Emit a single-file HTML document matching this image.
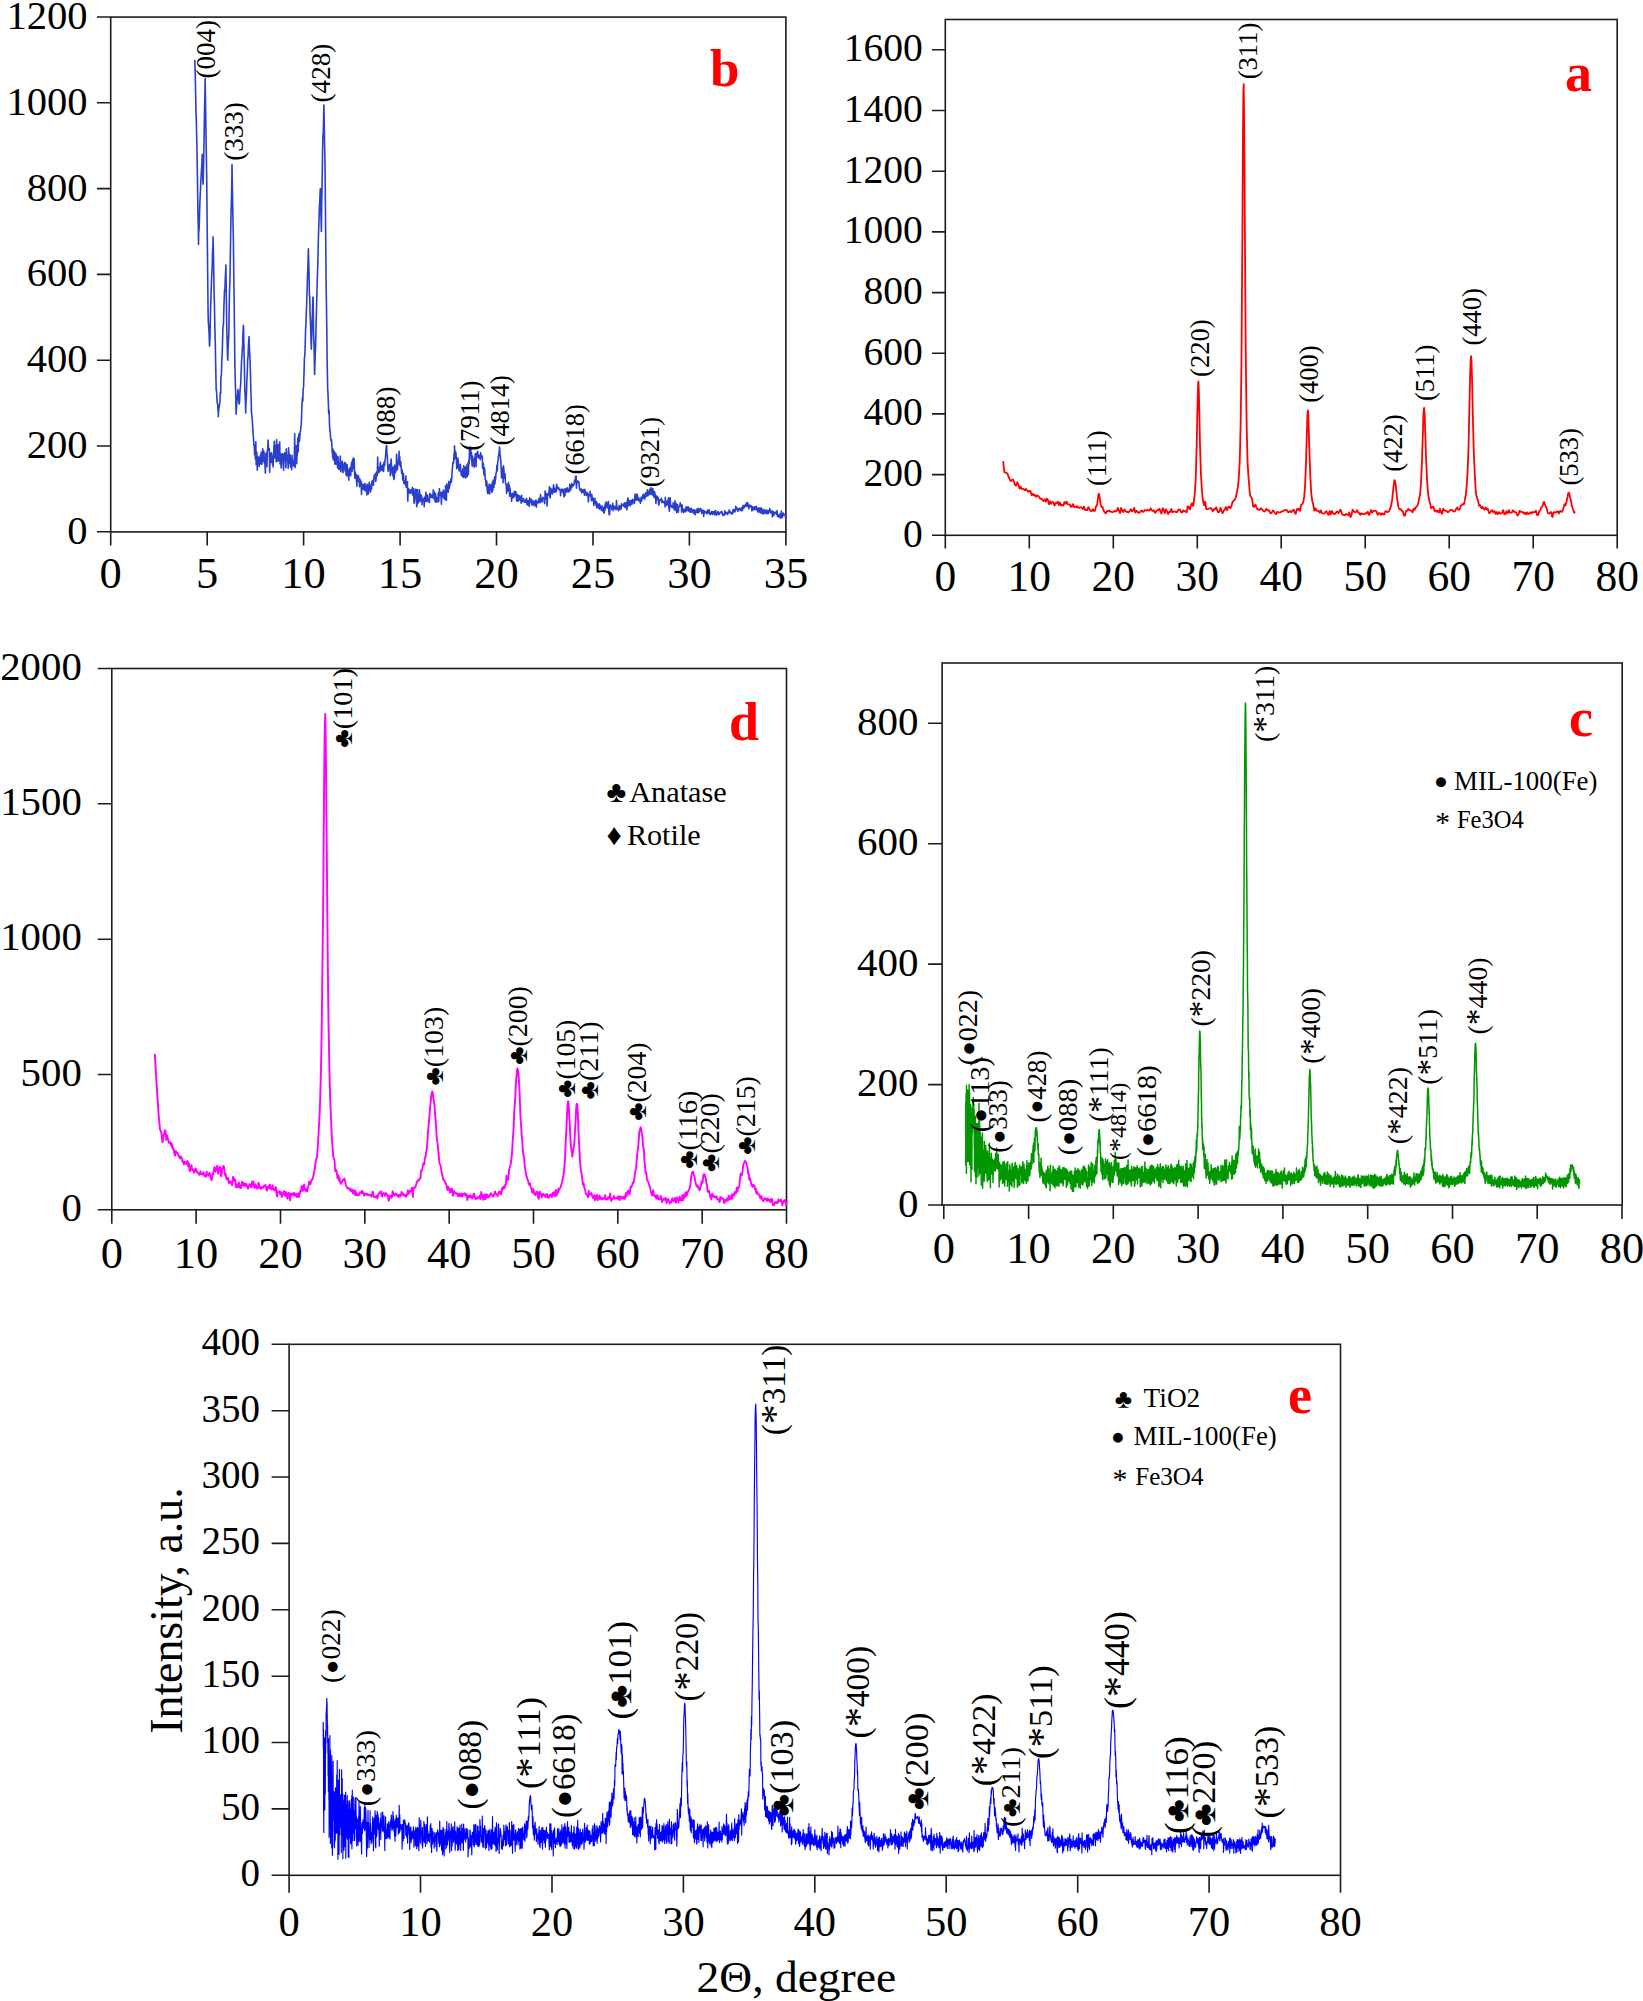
<!DOCTYPE html>
<html lang="en"><head><meta charset="utf-8"><title>XRD patterns</title>
<style>html,body{margin:0;padding:0;background:#fff}svg{display:block}</style></head>
<body>
<svg width="1643" height="2001" viewBox="0 0 1643 2001" font-family='"Liberation Serif", "DejaVu Serif", serif' fill="#000">
<g id="pb">
<rect x="110.7" y="17.1" width="675.2" height="514.8" fill="none" stroke="#1c1c1c" stroke-width="1.6"/>
<path d="M110.7 531.8v13.8M207.2 531.8v13.8M303.6 531.8v13.8M400.1 531.8v13.8M496.5 531.8v13.8M593 531.8v13.8M689.4 531.8v13.8M785.9 531.8v13.8M110.7 531.8h-13.8M110.7 446h-13.8M110.7 360.2h-13.8M110.7 274.4h-13.8M110.7 188.6h-13.8M110.7 102.8h-13.8M110.7 17h-13.8" stroke="#1c1c1c" stroke-width="1.6" fill="none"/>
<g font-size="40.6" text-anchor="end">
<text x="87.6" y="543.6">0</text>
<text x="87.6" y="457.8">200</text>
<text x="87.6" y="372">400</text>
<text x="87.6" y="286.2">600</text>
<text x="87.6" y="200.5">800</text>
<text x="87.6" y="114.7">1000</text>
<text x="87.6" y="28.9">1200</text>
</g>
<g font-size="44.5" text-anchor="middle">
<text x="110.7" y="588.2">0</text>
<text x="207.2" y="588.2">5</text>
<text x="303.6" y="588.2">10</text>
<text x="400.1" y="588.2">15</text>
<text x="496.5" y="588.2">20</text>
<text x="593" y="588.2">25</text>
<text x="689.4" y="588.2">30</text>
<text x="785.9" y="588.2">35</text>
</g>
<polyline points="194.8,59.9 195.2,72.2 195.6,92.9 196,112.3 196.4,123.1 196.7,138.1 196.9,145.7 197.1,157.1 197.5,180.8 197.9,211.7 198.3,227.5 198.5,244.4 198.7,232.3 199.1,229.1 199.4,218.7 199.8,204.7 200.2,195 200.6,187.9 200.8,180.1 201,179.3 201.4,170.8 201.8,165.7 202.1,157.9 202.3,154.3 202.5,167.4 202.9,179.7 203.1,184.3 203.3,176.2 203.7,159 204.1,137.2 204.5,111.6 204.8,99.8 205.2,78.5 205.2,80.5 205.6,108.6 206,134.3 206.4,158.8 206.8,184.2 206.8,188.6 207.2,229.4 207.5,257.2 207.9,294.8 208.1,313 208.3,321.2 208.7,327.1 209.1,332.7 209.5,346.1 209.7,343.1 209.9,339.4 210.2,324.9 210.6,308.3 211,295.9 211.2,291.6 211.4,282.9 211.8,273.4 212.2,266.5 212.4,257.3 212.6,250.7 212.9,247.4 213.1,236.7 213.3,245.2 213.7,267.2 214.1,293.3 214.5,306.7 214.5,308.7 214.9,328.5 215.3,343.5 215.6,360.5 216,380.2 216.2,390.2 216.4,390 216.8,395.9 217.2,402.7 217.6,403.7 218,411.2 218.3,410.7 218.3,416.8 218.7,409.4 219.1,407 219.5,404.4 219.9,402.2 220.3,392.2 220.7,393.6 220.7,390.2 221,375.7 221.4,375.8 221.8,361.5 222.2,353.9 222.6,338.9 223,326.3 223.2,325.9 223.4,325.7 223.7,314.6 224.1,301.5 224.5,290.4 224.7,291.6 224.9,290.8 225.3,277.7 225.7,270.2 225.9,265 226.1,280.6 226.4,301.9 226.8,329.8 226.8,330.2 227.2,343.1 227.6,358.7 227.8,360.2 228,351.6 228.4,341 228.8,335 229,325.9 229.1,313.2 229.5,291.1 229.9,280.9 230.3,259.5 230.3,257.3 230.7,232.5 231.1,211 231.5,197.2 231.9,177.1 232,164.6 232.2,177 232.6,199.4 233,222.6 233.2,231.5 233.4,241.1 233.8,276.4 234.2,304.9 234.6,339.2 234.7,351.6 234.9,366.5 235.3,381.7 235.7,394.1 236.1,414.2 236.1,413.8 236.5,407.5 236.9,401.4 237.3,396.5 237.6,394.4 238,389.6 238,390.2 238.4,394.8 238.8,400.8 239.2,404 239.4,403.1 239.6,400.2 240,390.8 240.3,388.2 240.7,384 241.1,372.3 241.3,368.8 241.5,362.2 241.9,356 242.3,349.7 242.7,344.3 242.8,336.6 243,332.9 243.4,325.4 243.6,329.3 243.8,341.4 244.2,358.3 244.6,378.4 244.8,390.2 245,392.8 245.4,401.1 245.7,413 245.7,409.5 246.1,401 246.5,392.8 246.9,379.6 247.3,372.4 247.7,358.4 247.7,360.2 248.1,355 248.4,346.8 248.8,339.8 249,336.6 249.2,343.3 249.6,351.9 250,359.5 250,360.2 250.4,371.4 250.8,388.5 251.1,397 251.5,414 251.5,411.7 251.9,416.7 252.3,420.7 252.7,426.4 253.1,434.4 253.5,438.2 253.8,444.7 254.2,444.6 254.4,448.2 254.6,454.6 255,451 255.4,458.9 255.8,441.9 256.2,465 256.5,452.1 256.9,452.5 257.3,470.3 257.7,456.6 258.1,457.4 258.3,461 258.5,459.1 258.9,457.3 259.2,466.5 259.6,460.4 260,461.9 260.4,455.1 260.8,463.9 261.2,452.4 261.6,462.1 261.9,464.2 262.3,455.5 262.7,448.9 263.1,454 263.5,461.1 263.9,451.3 264.3,463.3 264.6,456.3 265,464.9 265.4,473.1 265.8,453.2 266,455.4 266.2,457.5 266.6,463.2 267,466.7 267.3,450.3 267.7,449.5 268.1,440 268.5,449.4 268.9,450.6 269.3,448.6 269.7,472.2 270,453.2 270.4,454.2 270.8,462.5 271.2,452.7 271.6,453.9 272,457.8 272.4,464.2 272.7,458 273.1,467 273.5,455.5 273.9,447.7 274.3,441.3 274.7,458 275.1,445.2 275.4,457.7 275.6,454.6 275.8,446 276.2,461.8 276.6,439.7 277,447.6 277.4,448.2 277.8,461.3 278.1,450.3 278.5,444.6 278.9,457.7 279.3,460.6 279.7,441.9 280.1,464 280.5,456.6 280.9,461.6 281.2,468 281.6,453.7 282,455.7 282.4,461.9 282.8,453.7 283.2,464.7 283.6,470.2 283.9,461.9 284.3,456.4 284.7,452.9 285.1,455.6 285.3,458 285.5,455 285.9,467.7 286.3,448.9 286.6,455.2 287,455.1 287.4,455.9 287.8,461.2 288.2,468.3 288.6,447.9 289,456.8 289.3,459.9 289.7,463.5 290.1,454.9 290.5,466.5 290.9,467.3 291.3,458.5 291.7,469.8 292,455.4 292.4,465.6 292.8,465.5 293,461 293.2,463.3 293.6,463.5 294,466.1 294.4,454.8 294.7,433.8 295.1,467.6 295.5,455.6 295.9,457 296.3,445.9 296.7,463.8 296.9,454.6 297.1,456.4 297.4,452.2 297.8,437.9 298.2,451.7 298.6,439.4 299,433.7 299.4,441.5 299.8,437.3 300.1,431.9 300.5,431.3 300.7,428.8 300.9,426.2 301.3,424.9 301.7,412.1 302.1,402.9 302.5,397 302.8,401.2 303.2,388.4 303.6,387 303.8,378.7 304,374.1 304.4,358.7 304.8,355.5 305.2,346.1 305.5,332.3 305.9,324.4 306.3,312.2 306.5,308.7 306.7,302.1 307.1,289.7 307.5,276.6 307.9,266.5 308.2,254.9 308.4,248.7 308.6,258.2 309,272.4 309.4,294.4 309.8,298.1 310,308.7 310.2,316.2 310.6,325.9 310.9,338.3 311.3,347.3 311.3,349.1 311.7,337.1 312.1,321 312.5,311.5 312.9,297.3 313.1,297.2 313.3,310.4 313.6,334 314,344 314.4,364.5 314.6,374.4 314.8,367.9 315.2,354.7 315.6,346.8 316,327.7 316.3,316.5 316.5,308.7 316.7,301 317.1,285.8 317.5,272.4 317.9,260.4 318.3,242 318.7,229.2 318.9,222.9 319,220.5 319.4,207.4 319.8,201 320.2,190.2 320.4,188.6 320.6,204.3 321,216.1 321.4,231.4 321.4,231.5 321.7,203.5 322.1,184.2 322.5,156.1 322.5,154.3 322.9,135.9 323.3,132.4 323.7,113.9 323.9,105 324.1,113.8 324.4,135.1 324.8,154.3 325,162.9 325.2,182.2 325.6,226.6 326,271.6 326.2,291.6 326.4,301.6 326.8,329 327.1,356.9 327.5,379.3 327.7,390.2 327.9,391.8 328.3,402 328.7,413.5 329.1,410.2 329.5,425.2 329.7,427.1 329.9,431.4 330.2,431.7 330.6,438.4 331,440.8 331.4,439.6 331.8,443.8 332.2,453 332.6,450.6 332.6,457.2 332.9,449 333.3,459.9 333.7,455 334.1,451.1 334.5,455.6 334.9,464.1 335.3,456.3 335.6,453.1 336,463.9 336.4,454.8 336.8,458.5 337.2,465 337.4,464.5 337.6,467.6 338,456.9 338.3,462.2 338.7,469.3 339.1,467.4 339.5,469.4 339.9,465.4 340.3,456.1 340.7,471.8 341,466.6 341.4,465.6 341.8,463.3 342.2,461.2 342.6,470.9 343,472.7 343.2,467.5 343.4,470.2 343.7,466.2 344.1,463.8 344.5,462.6 344.9,466.6 345.3,471.5 345.7,463 346.1,474.9 346.4,473.2 346.8,476 347.2,464.7 347.6,471.6 348,469.1 348.4,474.4 348.8,480.2 348.9,471.1 349.1,471.2 349.5,475.2 349.9,467.7 350.3,468.7 350.7,475.8 351.1,468 351.5,462.9 351.8,462.2 352.2,471.2 352.6,459.5 353,468.6 353.2,463.8 353.4,457.7 353.8,466.8 354.2,459.1 354.5,470.6 354.9,478.2 355.3,472.1 355.7,474.9 356.1,475.2 356.5,482.1 356.7,474.9 356.9,486.2 357.2,475.8 357.6,481.6 358,481.1 358.4,475.7 358.8,478.5 359.2,481.8 359.6,486.8 359.9,479.1 360.3,480.9 360.7,484.3 361.1,481.3 361.5,494.5 361.9,487.8 362.3,486.1 362.6,484.2 363,485.5 363.4,489.3 363.8,484.5 364.2,484.3 364.6,490.5 365,483.5 365.3,489.8 365.7,490.8 366.1,485.4 366.3,490.7 366.5,486 366.9,494.9 367.3,484.3 367.7,493.4 368,490.3 368.4,493.9 368.8,488.1 369.2,482.2 369.6,484 370,484.9 370.4,492 370.7,490.6 371.1,488.1 371.5,489 371.9,481.3 372.1,485.1 372.3,484 372.7,480.2 373.1,482.2 373.4,485.2 373.8,480.1 374.2,475.3 374.6,477.7 375,478.8 375.4,473.4 375.8,481.4 376.2,477 376.5,475.4 376.9,471.7 377.3,475.6 377.7,457 377.9,468.9 378.1,467.9 378.5,470.4 378.9,472.8 379.2,467.3 379.6,471.1 380,467.8 380.4,462.3 380.8,470.7 381.2,467.2 381.6,470 381.9,466.3 382.3,465.6 382.7,470.6 383.1,464.6 383.5,471.5 383.7,470.2 383.9,462.4 384.3,465.7 384.6,465.7 385,460.4 385.4,458.1 385.8,452.1 386.2,446.9 386.2,447.8 386.6,445.2 387,454.3 387.3,455.5 387.7,464.7 388.1,471.4 388.5,468.5 388.5,466.5 388.9,465.2 389.3,468.8 389.7,464.3 390,468.3 390.4,475.8 390.8,464 391.2,459 391.6,471.6 392,466.2 392.4,474.3 392.7,469 393.1,476.4 393.5,467.2 393.9,479.4 394.3,478.2 394.7,465.3 395.1,465.4 395.2,471.6 395.4,472.5 395.8,471.2 396.2,470.3 396.6,454.3 397,464.2 397.4,469.7 397.8,462.4 398.1,463.7 398.5,462 398.9,456.7 399.1,451.2 399.3,464.6 399.7,456.3 400.1,463.7 400.5,466.7 400.8,461.8 401.2,467.2 401.6,473.1 402,471.4 402,469.6 402.4,474.2 402.8,480.2 403.2,478.6 403.5,473.6 403.9,483.4 404.3,481.2 404.7,483.9 405.1,480.7 405.5,484.9 405.9,476.1 406.2,487.5 406.6,482.9 407,486.2 407.4,481.7 407.8,501.1 408.2,488.5 408.6,492.9 408.8,489.3 408.9,489.1 409.3,491.6 409.7,492.9 410.1,491.4 410.5,490.1 410.9,493.4 411.3,490.3 411.6,491.8 412,492.1 412.4,487.4 412.8,495.1 413.2,491.4 413.6,488.9 414,502.4 414.3,503.2 414.7,500.5 415.1,494.4 415.5,489.2 415.9,489.4 416.3,491.3 416.5,497.7 416.7,506.8 417,505 417.4,489.6 417.8,498.8 418.2,502.9 418.6,496.5 419,501.8 419.4,489.8 419.7,492.5 420.1,501.4 420.5,497.5 420.9,494.9 421.3,497.9 421.7,495.8 422.1,504.7 422.4,499 422.8,499.4 423.2,500.6 423.6,500.9 424,498.4 424.2,506.8 424.4,497.5 424.8,500.3 425.2,496.4 425.5,501.8 425.9,492.4 426.3,501.3 426.7,499.1 427.1,496 427.5,495 427.9,499 428.2,501.7 428.6,500.1 429,500.4 429.4,502.5 429.8,493.5 430.2,493.7 430.6,495.7 430.9,497.1 431.3,497.4 431.7,495.1 432.1,496.8 432.5,497.8 432.9,497.8 433.3,489.8 433.6,493.2 434,498.9 434.4,492 434.8,498.7 435.2,502 435.6,493.8 435.8,499.6 436,500.4 436.3,497 436.7,502.1 437.1,499.9 437.5,498 437.9,501 438.3,492.7 438.7,501.6 439,497 439.4,488.6 439.8,495.1 440.2,492.1 440.6,493.4 441,496.3 441.4,504.3 441.7,492.4 442.1,494.6 442.5,494.1 442.9,496.9 443.3,490 443.7,493.8 444.1,498.6 444.4,491.2 444.8,492.4 445.2,499.7 445.4,496.7 445.6,485.8 446,489.2 446.4,500.4 446.8,484.1 447.1,490.9 447.5,489.9 447.9,488.8 448.3,492.3 448.7,481.5 449.1,488.5 449.5,486.9 449.8,485.5 450.2,483.3 450.6,480.1 451,478.9 451.2,482.4 451.4,481.1 451.8,477.5 452.2,469.9 452.5,467.6 452.9,462.6 453.3,463.2 453.7,461.7 454.1,453.1 454.5,458.3 454.5,445.7 454.9,458.6 455.2,455.1 455.6,451.6 456,453.7 456.4,459.2 456.8,468.7 457.2,466.8 457.6,460.3 457.9,458.1 457.9,464.3 458.3,460.5 458.7,468.1 459.1,470.9 459.5,465.5 459.9,470.5 460.3,464.4 460.6,468 461,471.9 461.4,475.5 461.8,471.5 462.2,475.1 462.6,476.2 462.8,469.1 463,475.5 463.3,477.5 463.7,465.8 464.1,474.5 464.5,477 464.9,466.7 465.3,468 465.7,477.9 466,475.6 466.4,474 466.8,465 467.2,476.7 467.6,471.9 467.6,473.7 468,462.9 468.4,474.5 468.7,460.4 469.1,464.2 469.5,449.3 469.9,451 470.3,446.9 470.5,451.8 470.7,449 471.1,459.2 471.4,452.2 471.8,461.4 472.2,466.1 472.6,456.3 473,463.8 473.4,465.2 473.4,460.3 473.8,459 474.2,467.2 474.5,461.6 474.9,458.8 475.3,453.7 475.7,461.3 476.1,466.6 476.3,455.8 476.5,453.2 476.9,455.1 477.2,456.8 477.6,451.3 478,454.8 478.4,457.9 478.8,456.6 479.2,455 479.6,457.6 479.9,457.4 480.3,459.7 480.7,456.3 480.7,452.7 481.1,456.1 481.5,457.3 481.9,456.9 482.3,456.2 482.6,468.5 483,465.6 483.4,463.6 483.8,473.8 484,474.9 484.2,472.3 484.6,468 485,475.1 485.3,479.4 485.7,480.2 486.1,486.2 486.5,480.8 486.9,482.6 487.3,491.7 487.7,486.4 487.8,493.2 488,493.7 488.4,491.6 488.8,490.2 489.2,484 489.6,493.8 490,489.9 490.4,488.2 490.7,484.9 491.1,488.6 491.5,489.7 491.7,488.9 491.9,492.4 492.3,482.2 492.7,490.6 493.1,480.4 493.4,482 493.8,487.7 494.2,484.2 494.6,476.7 495,483.7 495.4,477.5 495.6,479.5 495.8,475.9 496.1,472.9 496.5,471.8 496.9,465.1 497.3,471 497.7,461.4 498.1,461 498.5,455.8 498.8,455 499,452.7 499.2,451.5 499.6,447 500,455.2 500.4,456.9 500.8,460.7 501.2,468.7 501.5,477.9 501.9,470.5 502.3,474.2 502.3,471 502.7,467.9 503.1,482.8 503.5,465.9 503.9,470 504.2,473.6 504.6,478.4 505,473.7 505.4,481.9 505.8,484.1 506.2,483.9 506.6,493.5 506.9,484.5 507.1,489.9 507.3,487 507.7,484.5 508.1,491 508.5,482.2 508.9,491.4 509.3,485.4 509.6,496.2 510,487.8 510.4,495.5 510.8,496.1 511.2,494.1 511.6,501.1 512,495.1 512.3,493.2 512.7,495.1 513.1,497.1 513.5,497.8 513.9,496.3 514.3,491.4 514.7,495.9 515,495.1 515.4,492.3 515.8,491.6 516.2,494.3 516.6,500.8 516.8,497.7 517,497.7 517.4,501.3 517.7,494.6 518.1,500.3 518.5,500.8 518.9,495.9 519.3,497.5 519.7,496 520.1,500.2 520.4,496.7 520.8,499.4 521.2,503.1 521.6,495.4 522,501.5 522.4,501.7 522.8,498.7 523.2,499.2 523.5,498.5 523.9,500.1 524.3,502.1 524.7,500.9 525.1,501 525.5,502.3 525.9,499.4 526.2,501.4 526.4,502.7 526.6,498.6 527,504.6 527.4,500.6 527.8,504.9 528.2,500.7 528.6,504.7 528.9,502.6 529.3,506.4 529.7,497.7 530.1,502.6 530.5,501.9 530.9,499.3 531.3,502.4 531.6,499.6 532,505.2 532.4,504 532.8,504.1 533.2,501.1 533.6,501.6 534,504 534.3,505.8 534.7,505.2 535.1,500.7 535.5,500.8 535.9,500 536.1,505.6 536.3,507.2 536.7,503.5 537,501.8 537.4,503.1 537.8,502.2 538.2,500.3 538.6,502.6 539,498.3 539.4,499 539.7,500.4 540.1,502.7 540.5,494.6 540.9,500.2 541.3,498.7 541.7,501.3 542.1,501.8 542.4,499.3 542.8,497.3 543.2,498.1 543.6,498 544,498.5 544.4,502.3 544.8,503.6 545.1,491.1 545.5,494.9 545.7,499 545.9,498.1 546.3,497.6 546.7,493.5 547.1,505.9 547.5,496.1 547.8,494.3 548.2,494.8 548.6,493.1 549,495 549.4,486.9 549.8,496.2 550.2,497.9 550.5,492.3 550.9,488.2 551.3,493.5 551.7,490 552.1,493.4 552.5,493.9 552.9,488.9 553.2,488.4 553.6,484.9 554,490.5 554.4,492.3 554.8,492.2 555.2,488.2 555.6,490.4 555.9,488.2 556.3,491.8 556.3,489.9 556.7,484.2 557.1,488.5 557.5,488.7 557.9,487.2 558.3,488.2 558.6,487.7 559,489.8 559.4,489.7 559.8,489.4 560.2,489.9 560.6,495.8 561,489.7 561.3,491.3 561.7,489 562.1,489.6 562.5,491.6 562.9,489.6 563.3,493.2 563.7,493.7 564,497 564.4,489.1 564.8,495.5 565,494.7 565.2,490.3 565.6,489.7 566,488.5 566.4,491.9 566.7,489 567.1,490.3 567.5,487.8 567.9,492 568.3,489.6 568.7,490.6 569.1,491.8 569.5,490.5 569.8,484.2 570.2,489.9 570.6,490.2 571,485 571.4,488 571.8,483.4 572.2,486.9 572.5,485.5 572.7,486 572.9,486.4 573.3,484.7 573.7,485.1 574.1,484.4 574.5,480.3 574.9,482.7 575.2,481.3 575.6,476.2 576,477.9 576.2,476.3 576.4,488.1 576.8,482.2 577.2,481.6 577.6,481 577.9,482.8 578.3,482.7 578.7,481.6 579.1,483.6 579.5,489 579.9,490 580.3,489.5 580.4,491 580.6,489.2 581,489.8 581.4,488.9 581.8,492.9 582.2,491.3 582.6,491 583,492.2 583.3,489.6 583.7,491.8 584.1,492 584.5,495.3 584.9,489.4 585.3,493.9 585.7,491.7 586,492.3 586.4,495.3 586.8,495.5 587.2,495 587.6,492.9 588,494.9 588.4,502 588.7,496.9 589.1,495.6 589.5,493.8 589.9,495.5 590.1,491.4 590.3,495 590.7,495.8 591.1,496.8 591.4,500.8 591.8,494.3 592.2,498.5 592.6,500.5 593,498.6 593.4,498 593.8,505.4 594.1,501.1 594.5,500.6 594.9,498.5 595.3,503.2 595.7,501.3 596.1,505.8 596.5,501.7 596.8,507.9 597.2,503.3 597.6,504.5 598,506.8 598.4,507.9 598.8,507 599.2,503.8 599.5,509.1 599.9,504.9 600.3,507 600.7,507 601.1,508.5 601.5,510.5 601.7,506.8 601.9,505.9 602.2,510.5 602.6,508 603,507.8 603.4,511.9 603.8,507.4 604.2,513.2 604.6,506.3 604.9,510.5 605.3,503.6 605.7,508.5 606.1,501.8 606.5,504.7 606.9,505.4 607.3,506 607.6,507.6 608,502.7 608.4,501.5 608.8,511.1 609.2,515 609.6,514.1 610,508.3 610.3,504.9 610.7,506.4 611.1,506.4 611.5,506.8 611.9,509.5 612.3,508.1 612.7,503.2 613,510.7 613.2,505.3 613.4,510 613.8,507.1 614.2,507.6 614.6,506.2 615,508.8 615.4,508.9 615.7,507 616.1,509.8 616.5,500.5 616.9,508.5 617.3,508.7 617.7,508.1 618.1,508.8 618.5,510.8 618.8,507.3 619.2,505.5 619.6,509.8 620,506.4 620.4,506.2 620.8,506 621.2,508.9 621.5,503.8 621.9,505.2 622.3,505 622.7,505.6 622.9,504.5 623.1,504.8 623.5,504 623.9,506.3 624.2,505.5 624.6,502.8 625,507.5 625.4,507.2 625.8,507.5 626.2,502.8 626.6,505.9 626.9,510 627.3,502.1 627.7,498.6 628.1,498.1 628.5,506 628.9,503.8 629.3,503.2 629.6,500.8 630,503.4 630.4,505.6 630.8,503 631.2,500.2 631.6,503.1 632,504.2 632.3,501.3 632.5,500.9 632.7,499.2 633.1,500.2 633.5,502.4 633.9,500.7 634.3,503.4 634.7,499.7 635,494.1 635.4,495.6 635.8,500.3 636.2,500 636.6,498.7 637,494.1 637.4,494.9 637.7,499.1 638.1,500.2 638.5,497.7 638.9,501 639.3,498.9 639.7,500.4 640.1,499.8 640.4,503.3 640.8,499.5 641.2,497.2 641.6,500.9 642,499 642.4,496.8 642.8,496.1 643.1,494.4 643.5,497.6 643.9,494.3 644.1,495.2 644.3,498.4 644.7,499.2 645.1,495.7 645.5,497.2 645.8,492.9 646.2,496.3 646.6,493.7 647,493.9 647.4,489.8 647.8,496 648.2,492.8 648.5,492.7 648.9,494.4 649.3,491.2 649.7,489.5 650.1,494.5 650.5,490.5 650.9,487.5 651.2,489.9 651.6,491.2 651.8,490.9 652,494.7 652.4,489.5 652.8,488.6 653.2,494.7 653.6,496.2 653.9,491.4 654.3,497.8 654.7,492 655.1,494.7 655.5,498.3 655.7,497.8 655.9,503.5 656.3,495.9 656.6,496.8 657,499.6 657.4,496.6 657.8,499.4 658.2,497.7 658.6,504.9 659,504.4 659.3,501.4 659.7,500 660.1,500.6 660.5,499.6 660.9,500.4 661.3,498.3 661.7,501.5 662,502.7 662.4,500.5 662.8,501.6 663.2,502.1 663.6,502.1 664,501.5 664.4,503.3 664.7,502.4 665.1,507 665.3,497.4 665.5,505.1 665.9,504.2 666.3,501.9 666.7,502 667.1,505.5 667.5,500.2 667.8,500.2 668.2,502.3 668.6,497.9 669,508.9 669.4,511.1 669.8,504.6 670.2,497.7 670.5,505.4 670.9,506.5 671.3,505.4 671.7,506.5 672.1,507.5 672.5,506.3 672.9,507.1 673.2,502.8 673.6,508.6 674,504.1 674.4,506.8 674.8,510.2 675,500.8 675.2,509.8 675.6,504.4 675.9,503 676.3,509.6 676.7,512.8 677.1,508.2 677.5,504.6 677.9,511 678.3,512.1 678.6,508.2 679,506.3 679.4,506.3 679.8,506.2 680.2,502.9 680.6,505 681,504.5 681.3,505.7 681.7,512.1 682.1,505 682.5,508.9 682.9,511 683.3,509.4 683.7,512.6 684,511.2 684.4,509.3 684.8,511 685.2,510.1 685.6,511.7 686,507.1 686.4,510.6 686.7,509.7 687.1,506.8 687.5,509.2 687.9,508.7 688.3,511.1 688.7,507 689.1,509.6 689.4,508.7 689.8,509.9 690.2,512.3 690.4,510.8 690.6,510 691,508.5 691.4,508.4 691.8,512.1 692.1,509.9 692.5,510.7 692.9,510.3 693.3,511.3 693.7,513.4 694.1,509.6 694.5,510.3 694.8,513.7 695.2,514.7 695.6,510.8 696,510.4 696.4,512.4 696.8,510.5 697.2,508.9 697.5,512.6 697.9,510.7 698.3,508.6 698.7,512.5 699.1,512.2 699.5,510.3 699.9,510.6 700.2,508.3 700.6,509.7 701,511.1 701.4,509.2 701.8,513.4 702.2,510.8 702.6,512.7 702.9,510.2 703.3,510.4 703.7,516.4 704.1,510.8 704.5,513 704.9,511.5 705.3,512.6 705.6,511.8 706,511.9 706.4,512 706.8,513.9 707.2,512.5 707.6,510 708,513.1 708.3,511.9 708.7,512.6 709.1,509.8 709.5,513.3 709.7,512.2 709.9,514.5 710.3,513.7 710.7,514.4 711,512.3 711.4,512.3 711.8,511.2 712.2,512 712.6,514.5 713,511.7 713.4,513.5 713.8,511.9 714.1,513.2 714.5,514.6 714.9,511.1 715.3,514.5 715.7,510.6 716.1,515.3 716.5,514.2 716.8,513.6 717.2,512.4 717.6,512.8 718,511.6 718.4,514.6 718.8,514.7 719.2,514.4 719.5,512.9 719.9,512.6 720.3,512.1 720.7,512.8 721.1,512 721.5,512.6 721.9,511.4 722.2,513.3 722.6,514.4 723,515.6 723.4,514.4 723.8,514 724.2,515.1 724.6,512.9 724.9,510.8 725.3,514 725.7,513.9 726.1,513.3 726.5,513.2 726.9,512.4 727.3,513 727.6,514.5 728,512.5 728.4,511.8 728.8,512.8 729,513 729.2,509.8 729.6,512 730,511.5 730.3,511.7 730.7,512.3 731.1,513.5 731.5,514 731.9,512.8 732.3,513.8 732.7,511.7 733,509.9 733.4,512.4 733.8,509.5 734.2,511 734.6,511.3 735,511.8 735.4,509.8 735.7,506.4 736.1,506.9 736.5,508.9 736.9,508 737.3,508.9 737.7,511.5 738.1,510.5 738.4,509 738.6,509.1 738.8,509.6 739.2,508.2 739.6,509.6 740,509 740.4,510.4 740.8,509.8 741.1,508 741.5,510.6 741.9,507.6 742.3,510.4 742.7,507.6 743.1,505.3 743.5,508 743.8,508.4 744.2,507 744.6,506.5 745,505.3 745.4,504.6 745.8,506.5 746.2,504.1 746.4,504.1 746.5,503.2 746.9,502.6 747.3,506.2 747.7,502.9 748.1,504.4 748.5,506.7 748.9,508.7 749.2,505 749.6,506.1 750,506.4 750.4,506.8 750.8,505.4 751.2,507.4 751.6,506.3 751.9,510.9 752.3,506.8 752.7,509.9 753.1,507.4 753.5,508.5 753.9,509.4 754.1,509.8 754.3,506.9 754.6,507.2 755,508.7 755.4,509.5 755.8,508.1 756.2,506.2 756.6,509 757,510.1 757.3,508.4 757.7,511.4 758.1,508.9 758.5,512.4 758.9,507.9 759.3,511.3 759.7,508.2 760,508.6 760.4,512.9 760.8,510.6 761.2,507.7 761.6,508.6 762,513.1 762.4,511.5 762.8,510 763.1,514.2 763.5,512.1 763.9,509.4 764.3,512.1 764.7,513.1 765.1,511.4 765.5,510.7 765.8,510.6 766.2,513.4 766.6,510 767,513.6 767.4,511.8 767.6,512.7 767.8,510.5 768.2,513.5 768.5,512 768.9,510.6 769.3,511.4 769.7,508.5 770.1,510 770.5,512.9 770.9,512.1 771.2,511.6 771.6,512.5 772,510.9 772.4,516.8 772.8,516.2 773.2,511.6 773.6,512.7 773.9,515.2 774.3,513.2 774.7,512.4 775.1,512.9 775.5,512.5 775.9,512.2 776.3,514.2 776.6,514.3 777,510.6 777.4,516.1 777.8,514.9 778.2,515.6 778.6,517.1 779,517.3 779.3,514.4 779.7,515 780.1,514.1 780.5,515.4 780.9,518.1 781.3,511 781.7,516.9 782,517.6 782.4,517 782.8,514.7 783.2,513 783.6,515.1 784,514.5 784.4,514.5 784.7,514.3 785.1,514.9 785.5,517.6 785.9,513.6" fill="none" stroke="#2a3fcc" stroke-width="1.6" stroke-linejoin="round"/>
<text transform="translate(215 78.6) rotate(-90)" font-size="26.8" textLength="58.6" lengthAdjust="spacingAndGlyphs">(004)</text>
<text transform="translate(242.7 160.8) rotate(-90)" font-size="26.8" textLength="58.6" lengthAdjust="spacingAndGlyphs">(333)</text>
<text transform="translate(330 102.4) rotate(-90)" font-size="26.8" textLength="58.6" lengthAdjust="spacingAndGlyphs">(428)</text>
<text transform="translate(395.1 445.2) rotate(-90)" font-size="26.8" textLength="58.6" lengthAdjust="spacingAndGlyphs">(088)</text>
<text transform="translate(479.1 450.8) rotate(-90)" font-size="26.8" textLength="70.3" lengthAdjust="spacingAndGlyphs">(7911)</text>
<text transform="translate(509.1 445.4) rotate(-90)" font-size="26.8" textLength="70.3" lengthAdjust="spacingAndGlyphs">(4814)</text>
<text transform="translate(583.8 474.6) rotate(-90)" font-size="26.8" textLength="70.3" lengthAdjust="spacingAndGlyphs">(6618)</text>
<text transform="translate(659.3 487.3) rotate(-90)" font-size="26.8" textLength="70.3" lengthAdjust="spacingAndGlyphs">(9321)</text>
<text x="710" y="86" font-size="53" font-weight="bold" fill="#ff0000">b</text>
</g>
<g id="pa">
<rect x="945.3" y="19.5" width="671.9" height="515.8" fill="none" stroke="#1c1c1c" stroke-width="1.6"/>
<path d="M945.3 535.3v13.3M1029.3 535.3v13.3M1113.3 535.3v13.3M1197.3 535.3v13.3M1281.2 535.3v13.3M1365.2 535.3v13.3M1449.2 535.3v13.3M1533.2 535.3v13.3M1617.2 535.3v13.3M945.3 535.3h-13.3M945.3 474.6h-13.3M945.3 413.9h-13.3M945.3 353.3h-13.3M945.3 292.6h-13.3M945.3 231.9h-13.3M945.3 171.2h-13.3M945.3 110.5h-13.3M945.3 49.8h-13.3" stroke="#1c1c1c" stroke-width="1.6" fill="none"/>
<g font-size="39.6" text-anchor="end">
<text x="922.9" y="546.8">0</text>
<text x="922.9" y="486.1">200</text>
<text x="922.9" y="425.4">400</text>
<text x="922.9" y="364.7">600</text>
<text x="922.9" y="304.1">800</text>
<text x="922.9" y="243.4">1000</text>
<text x="922.9" y="182.7">1200</text>
<text x="922.9" y="122">1400</text>
<text x="922.9" y="61.3">1600</text>
</g>
<g font-size="43.5" text-anchor="middle">
<text x="945.3" y="591.1">0</text>
<text x="1029.3" y="591.1">10</text>
<text x="1113.3" y="591.1">20</text>
<text x="1197.3" y="591.1">30</text>
<text x="1281.2" y="591.1">40</text>
<text x="1365.2" y="591.1">50</text>
<text x="1449.2" y="591.1">60</text>
<text x="1533.2" y="591.1">70</text>
<text x="1617.2" y="591.1">80</text>
</g>
<polyline points="1003.2,461.1 1003.5,464.4 1003.8,467.7 1004.2,471 1004.5,472.4 1004.8,472.4 1005.2,472.4 1005.5,472.5 1005.9,472.7 1006.2,472.9 1006.5,473.1 1006.9,473.2 1007.2,473.4 1007.5,473.6 1007.9,474.7 1008.2,475.7 1008.5,476.7 1008.9,477.5 1009.2,478.3 1009.6,479 1009.9,479.7 1010.2,480.2 1010.6,480.8 1010.9,481.1 1011.2,480.7 1011.6,480.4 1011.9,480 1012.2,479.9 1012.6,479.6 1012.9,479.4 1013.2,480 1013.6,480.9 1013.9,481.8 1014.3,482.7 1014.6,483.7 1014.9,484.6 1015.3,485.4 1015.6,485.4 1015.9,485.5 1016.3,485.5 1016.6,484.4 1016.9,483.3 1017.3,482.2 1017.6,482.6 1017.9,483.5 1018.3,484.4 1018.6,485.5 1019,486.7 1019.3,487.8 1019.6,488.6 1020,487.9 1020.3,487.3 1020.6,486.6 1021,487.4 1021.3,488.1 1021.6,488.9 1022,489 1022.3,488.9 1022.7,488.9 1023,488.9 1023.3,489 1023.7,489.1 1024,489.3 1024.3,489.6 1024.7,490 1025,490.3 1025.3,489.8 1025.7,489.4 1026,488.9 1026.3,489.2 1026.7,489.7 1027,490.2 1027.4,490.7 1027.7,491.2 1028,491.6 1028.4,491.9 1028.7,491.6 1029,491.3 1029.4,490.9 1029.7,490.9 1030,490.8 1030.4,490.8 1030.7,491.8 1031.1,493.3 1031.4,494.7 1031.7,495.2 1032.1,494.6 1032.4,494.1 1032.7,493.8 1033.1,494.3 1033.4,494.9 1033.7,495.4 1034.1,495.2 1034.4,494.9 1034.7,494.7 1035.1,495.2 1035.4,495.9 1035.8,496.6 1036.1,496.8 1036.4,496.2 1036.8,495.7 1037.1,495.4 1037.4,495.6 1037.8,495.8 1038.1,496 1038.4,496.3 1038.8,496.6 1039.1,496.9 1039.4,497.4 1039.8,498 1040.1,498.6 1040.5,498.8 1040.8,498.6 1041.1,498.4 1041.5,498.5 1041.8,499 1042.1,499.5 1042.5,500.1 1042.8,500.4 1043.1,500.7 1043.5,501 1043.8,500.6 1044.2,500 1044.5,499.3 1044.8,499.4 1045.2,500.3 1045.5,501.2 1045.8,501.6 1046.2,500.6 1046.5,499.6 1046.8,498.6 1047.2,499 1047.5,499.4 1047.8,499.8 1048.2,501.1 1048.5,502.6 1048.9,504 1049.2,504.2 1049.5,503.1 1049.9,502 1050.2,501.4 1050.5,502.1 1050.9,502.9 1051.2,503.7 1051.5,503.1 1051.9,502.6 1052.2,502.1 1052.6,502 1052.9,502.1 1053.2,502.1 1053.6,502.7 1053.9,503.8 1054.2,504.9 1054.6,505.5 1054.9,504.7 1055.2,503.9 1055.6,503 1055.9,503.1 1056.2,503.2 1056.6,503.3 1056.9,502.9 1057.3,502.3 1057.6,501.7 1057.9,502 1058.3,503.2 1058.6,504.4 1058.9,505.1 1059.3,504.2 1059.6,503.3 1059.9,502.4 1060.3,503.4 1060.6,504.4 1061,505.4 1061.3,505.4 1061.6,505.1 1062,504.8 1062.3,504.8 1062.6,505.2 1063,505.5 1063.3,505.5 1063.6,504.4 1064,503.3 1064.3,502.2 1064.6,502.8 1065,503.3 1065.3,503.8 1065.7,503.3 1066,502.4 1066.3,501.6 1066.7,501.6 1067,502.6 1067.3,503.6 1067.7,504.4 1068,504.3 1068.3,504.3 1068.7,504.3 1069,504.3 1069.3,504.4 1069.7,504.5 1070,505.1 1070.4,505.9 1070.7,506.7 1071,507 1071.4,506.8 1071.7,506.6 1072,506.2 1072.4,505.6 1072.7,504.9 1073,504.2 1073.4,505.2 1073.7,506.2 1074.1,507.1 1074.4,507.2 1074.7,506.9 1075.1,506.7 1075.4,506.7 1075.7,506.8 1076.1,507 1076.4,507.1 1076.7,506.8 1077.1,506.5 1077.4,506.3 1077.7,506.8 1078.1,507.3 1078.4,507.8 1078.8,507.9 1079.1,507.8 1079.4,507.7 1079.8,507.6 1080.1,507.4 1080.4,507.3 1080.8,507.2 1081.1,507.3 1081.4,507.4 1081.8,507.5 1082.1,508 1082.5,508.5 1082.8,509 1083.1,508.5 1083.5,507.6 1083.8,506.7 1084.1,506.9 1084.5,508 1084.8,509.2 1085.1,510 1085.5,510 1085.8,510 1086.1,509.9 1086.5,510 1086.8,510.1 1087.2,510.1 1087.5,509.4 1087.8,508.3 1088.2,507.3 1088.5,507.2 1088.8,508 1089.2,508.8 1089.5,509.5 1089.8,509.9 1090.2,510.3 1090.5,510.8 1090.9,511 1091.2,511.1 1091.5,511.3 1091.9,510.8 1092.2,510.1 1092.5,509.3 1092.9,509.2 1093.2,509.9 1093.5,510.5 1093.9,511 1094.2,511 1094.5,510.9 1094.9,510.8 1095.2,509.5 1095.6,508.1 1095.9,506.5 1096.2,506.1 1096.6,505.9 1096.9,505.4 1097.2,503.9 1097.6,501.2 1097.9,498.4 1098.2,495.8 1098.6,494.2 1098.9,493.8 1099.2,494.8 1099.6,496.9 1099.9,499.4 1100.3,502 1100.6,503.9 1100.9,505.3 1101.3,506.4 1101.6,507 1101.9,507 1102.3,506.8 1102.6,507 1102.9,508.3 1103.3,509.5 1103.6,510.6 1104,511.2 1104.3,511.7 1104.6,512.2 1105,512.6 1105.3,513 1105.6,513.4 1106,513.2 1106.3,512.5 1106.6,511.7 1107,511.1 1107.3,511.2 1107.6,511.3 1108,511.4 1108.3,511.1 1108.7,510.8 1109,510.5 1109.3,510.7 1109.7,511.1 1110,511.5 1110.3,511.7 1110.7,511.7 1111,511.7 1111.3,511.8 1111.7,511.9 1112,512 1112.4,512.2 1112.7,512.1 1113,512 1113.4,511.9 1113.7,511.6 1114,511.2 1114.4,510.9 1114.7,510.8 1115,511.1 1115.4,511.4 1115.7,511.5 1116,511.3 1116.4,511 1116.7,510.8 1117.1,509.9 1117.4,508.9 1117.7,508 1118.1,508.3 1118.4,509 1118.7,509.8 1119.1,510.7 1119.4,511.7 1119.7,512.8 1120.1,513.1 1120.4,511.4 1120.7,509.7 1121.1,508 1121.4,508.7 1121.8,509.4 1122.1,510.1 1122.4,510.8 1122.8,511.5 1123.1,512.1 1123.4,512 1123.8,511 1124.1,510.1 1124.4,509.5 1124.8,509.9 1125.1,510.4 1125.5,510.8 1125.8,511.1 1126.1,511.5 1126.5,511.8 1126.8,511.9 1127.1,511.9 1127.5,511.9 1127.8,512 1128.1,512.2 1128.5,512.4 1128.8,512.4 1129.1,511.9 1129.5,511.4 1129.8,510.8 1130.2,510.3 1130.5,509.8 1130.8,509.3 1131.2,509.7 1131.5,510.4 1131.8,511.1 1132.2,511.3 1132.5,510.9 1132.8,510.6 1133.2,510.1 1133.5,509.4 1133.9,508.6 1134.2,507.9 1134.5,509.5 1134.9,511.1 1135.2,512.7 1135.5,512.5 1135.9,511.7 1136.2,511 1136.5,510.8 1136.9,511.1 1137.2,511.4 1137.5,511.7 1137.9,512.1 1138.2,512.5 1138.6,512.9 1138.9,512.8 1139.2,512.8 1139.6,512.8 1139.9,512.4 1140.2,511.9 1140.6,511.4 1140.9,511 1141.2,510.8 1141.6,510.6 1141.9,510.5 1142.3,511 1142.6,511.5 1142.9,512 1143.3,511.8 1143.6,511.5 1143.9,511.2 1144.3,510.8 1144.6,510.5 1144.9,510.2 1145.3,510.1 1145.6,510.3 1145.9,510.5 1146.3,510.6 1146.6,510.4 1147,510.1 1147.3,509.8 1147.6,510 1148,510.2 1148.3,510.4 1148.6,510.5 1149,510.5 1149.3,510.5 1149.6,510.1 1150,509.4 1150.3,508.7 1150.6,508.4 1151,509 1151.3,509.6 1151.7,510.3 1152,510.5 1152.3,510.8 1152.7,511 1153,510.9 1153.3,510.6 1153.7,510.3 1154,510.6 1154.3,511.4 1154.7,512.2 1155,512.8 1155.4,512.5 1155.7,512.2 1156,511.9 1156.4,511.3 1156.7,510.7 1157,510.2 1157.4,510.1 1157.7,510.2 1158,510.2 1158.4,510 1158.7,509.6 1159,509.1 1159.4,508.9 1159.7,509.7 1160.1,510.5 1160.4,511.3 1160.7,512.1 1161.1,512.8 1161.4,513.6 1161.7,512.5 1162.1,510.7 1162.4,509 1162.7,508.3 1163.1,508.7 1163.4,509.2 1163.8,509.8 1164.1,510.9 1164.4,512 1164.8,513.1 1165.1,511.8 1165.4,510.6 1165.8,509.3 1166.1,509.5 1166.4,510.2 1166.8,510.9 1167.1,511.7 1167.4,512.7 1167.8,513.6 1168.1,514.1 1168.5,513.4 1168.8,512.7 1169.1,512 1169.5,512 1169.8,512 1170.1,512.1 1170.5,511.3 1170.8,510.2 1171.1,509.1 1171.5,509.2 1171.8,510.4 1172.2,511.6 1172.5,512.4 1172.8,512.2 1173.2,511.9 1173.5,511.6 1173.8,511.6 1174.2,511.6 1174.5,511.6 1174.8,511.6 1175.2,511.7 1175.5,511.7 1175.8,511.9 1176.2,512.1 1176.5,512.4 1176.9,512.4 1177.2,511.8 1177.5,511.2 1177.9,510.6 1178.2,510.2 1178.5,509.7 1178.9,509.2 1179.2,509.3 1179.5,509.5 1179.9,509.7 1180.2,510.2 1180.5,510.9 1180.9,511.7 1181.2,512.3 1181.6,512.4 1181.9,512.4 1182.2,512.5 1182.6,511.8 1182.9,511.1 1183.2,510.4 1183.6,510.5 1183.9,510.9 1184.2,511.3 1184.6,511.4 1184.9,511.3 1185.3,511.2 1185.6,511.2 1185.9,511.6 1186.3,512.1 1186.6,512.5 1186.9,510.5 1187.3,508.5 1187.6,506.5 1187.9,506.3 1188.3,506.7 1188.6,507 1188.9,507.6 1189.3,508.3 1189.6,509.1 1190,509.3 1190.3,508 1190.6,506.7 1191,505.3 1191.3,504.7 1191.6,503.9 1192,503.1 1192.3,503.9 1192.6,505 1193,506 1193.3,505.3 1193.7,503 1194,500.4 1194.3,497.5 1194.7,494.6 1195,490.8 1195.3,485.8 1195.7,478.8 1196,469.9 1196.3,458.7 1196.7,445.8 1197,430.9 1197.3,414.5 1197.7,398.5 1198,386.2 1198.4,381.5 1198.7,386.2 1199,398.5 1199.4,414.6 1199.7,431.3 1200,445.7 1200.4,457.7 1200.7,467.4 1201,475.4 1201.4,481.7 1201.7,486.5 1202,490.8 1202.4,495 1202.7,498.5 1203.1,501.3 1203.4,502.9 1203.7,504.2 1204.1,505.3 1204.4,504.2 1204.7,503 1205.1,501.7 1205.4,503.2 1205.7,505.5 1206.1,507.8 1206.4,509 1206.8,509 1207.1,509.1 1207.4,509.1 1207.8,509 1208.1,508.9 1208.4,508.7 1208.8,508.7 1209.1,508.6 1209.4,508.5 1209.8,508.3 1210.1,508.1 1210.4,507.9 1210.8,508 1211.1,508.4 1211.5,508.8 1211.8,509.3 1212.1,510 1212.5,510.7 1212.8,511.4 1213.1,510.7 1213.5,510.1 1213.8,509.4 1214.1,509.3 1214.5,509.5 1214.8,509.6 1215.2,509.3 1215.5,508.5 1215.8,507.7 1216.2,507.3 1216.5,508.3 1216.8,509.2 1217.2,510.2 1217.5,510.9 1217.8,511.6 1218.2,512.2 1218.5,512.3 1218.8,512.1 1219.2,511.9 1219.5,511.2 1219.9,509.9 1220.2,508.6 1220.5,507.9 1220.9,508.9 1221.2,509.8 1221.5,510.8 1221.9,511.6 1222.2,512.4 1222.5,513.1 1222.9,512.7 1223.2,511.8 1223.6,511 1223.9,510.4 1224.2,510 1224.6,509.7 1224.9,509.2 1225.2,508.5 1225.6,507.8 1225.9,507.1 1226.2,508.2 1226.6,509.2 1226.9,510.2 1227.2,509.7 1227.6,508.7 1227.9,507.7 1228.3,507.1 1228.6,506.9 1228.9,506.6 1229.3,506.6 1229.6,507.2 1229.9,507.7 1230.3,508.3 1230.6,507.8 1230.9,507.2 1231.3,506.7 1231.6,505.5 1231.9,504.2 1232.3,502.8 1232.6,501.9 1233,501.5 1233.3,501 1233.6,500.6 1234,500.4 1234.3,500.2 1234.6,499.9 1235,499.4 1235.3,498.7 1235.6,498 1236,496.6 1236.3,494.8 1236.7,492.9 1237,491.3 1237.3,490 1237.7,488.3 1238,486.1 1238.3,482.9 1238.7,479.1 1239,474.3 1239.3,468.8 1239.7,461.6 1240,452.1 1240.3,438.8 1240.7,421 1241,397.7 1241.4,368.1 1241.7,331 1242,286 1242.4,233.7 1242.7,177.2 1243,125.9 1243.4,91.4 1243.7,84.2 1244,106.5 1244.4,151.7 1244.7,206.1 1245.1,259.7 1245.4,307.8 1245.7,348.4 1246.1,381.6 1246.4,407.6 1246.7,427.7 1247.1,443.5 1247.4,455.7 1247.7,465.1 1248.1,471.1 1248.4,475.7 1248.7,479.3 1249.1,483.9 1249.4,488.5 1249.8,492.8 1250.1,495.2 1250.4,495.9 1250.8,496.3 1251.1,496.7 1251.4,497.6 1251.8,498.3 1252.1,498.9 1252.4,501.5 1252.8,503.9 1253.1,506.3 1253.5,506.9 1253.8,506.8 1254.1,506.7 1254.5,506.3 1254.8,505.6 1255.1,504.9 1255.5,504.6 1255.8,505.6 1256.1,506.6 1256.5,507.5 1256.8,508.2 1257.1,508.9 1257.5,509.6 1257.8,509.6 1258.2,509.5 1258.5,509.3 1258.8,509.3 1259.2,509.6 1259.5,509.8 1259.8,509.9 1260.2,509.4 1260.5,508.8 1260.8,508.3 1261.2,508.6 1261.5,508.8 1261.8,509.1 1262.2,509.5 1262.5,509.9 1262.9,510.4 1263.2,510.8 1263.5,511.1 1263.9,511.3 1264.2,511.5 1264.5,511.2 1264.9,511 1265.2,510.7 1265.5,510.1 1265.9,509.4 1266.2,508.8 1266.6,509 1266.9,509.6 1267.2,510.1 1267.6,510.4 1267.9,510.3 1268.2,510.1 1268.6,510.2 1268.9,510.6 1269.2,511.1 1269.6,511.5 1269.9,512.1 1270.2,512.7 1270.6,513.4 1270.9,513.3 1271.3,513.1 1271.6,512.8 1271.9,512.3 1272.3,511.6 1272.6,511 1272.9,510.5 1273.3,510.8 1273.6,511.1 1273.9,511.4 1274.3,512 1274.6,512.5 1275,513.1 1275.3,513.5 1275.6,513.9 1276,514.2 1276.3,514 1276.6,513.1 1277,512.3 1277.3,511.7 1277.6,511.9 1278,512.2 1278.3,512.4 1278.6,512.4 1279,512.4 1279.3,512.4 1279.7,512.4 1280,512.4 1280.3,512.4 1280.7,512.3 1281,512 1281.3,511.7 1281.7,511.4 1282,511.4 1282.3,511.4 1282.7,511.4 1283,511.1 1283.3,510.8 1283.7,510.4 1284,510.3 1284.4,510.4 1284.7,510.4 1285,510.3 1285.4,510.1 1285.7,509.9 1286,509.8 1286.4,510 1286.7,510.3 1287,510.5 1287.4,511.1 1287.7,511.7 1288.1,512.3 1288.4,512.3 1288.7,512.1 1289.1,512 1289.4,511.8 1289.7,511.5 1290.1,511.2 1290.4,511 1290.7,511.4 1291.1,511.8 1291.4,512.2 1291.7,511.7 1292.1,511.2 1292.4,510.8 1292.8,510.4 1293.1,510 1293.4,509.7 1293.8,510 1294.1,510.9 1294.4,511.9 1294.8,512.7 1295.1,513.1 1295.4,513.5 1295.8,513.9 1296.1,512.3 1296.5,510.7 1296.8,509.1 1297.1,509 1297.5,509.5 1297.8,509.9 1298.1,509.9 1298.5,509.4 1298.8,508.8 1299.1,508.6 1299.5,509.4 1299.8,510.2 1300.1,510.9 1300.5,509 1300.8,507 1301.2,504.9 1301.5,504.4 1301.8,504.3 1302.2,504.1 1302.5,503.7 1302.8,503 1303.2,502.2 1303.5,500.9 1303.8,498.9 1304.2,496.4 1304.5,493 1304.9,488.3 1305.2,482.4 1305.5,475.1 1305.9,466.4 1306.2,456.4 1306.5,445 1306.9,433 1307.2,421.7 1307.5,413.4 1307.9,410.4 1308.2,413.6 1308.5,422.3 1308.9,434.2 1309.2,445.4 1309.6,455.8 1309.9,464.8 1310.2,473.7 1310.6,481.4 1310.9,487.8 1311.2,492.6 1311.6,496 1311.9,498.6 1312.2,500.7 1312.6,502.3 1312.9,503.6 1313.2,504.7 1313.6,506.8 1313.9,508.8 1314.3,510.7 1314.6,510.5 1314.9,509.5 1315.3,508.4 1315.6,508.3 1315.9,509 1316.3,509.8 1316.6,510.4 1316.9,510.6 1317.3,510.8 1317.6,510.9 1318,510.9 1318.3,510.9 1318.6,510.9 1319,511.4 1319.3,512 1319.6,512.7 1320,512.6 1320.3,511.7 1320.6,510.9 1321,510.5 1321.3,511.3 1321.6,512.2 1322,513.1 1322.3,513.2 1322.7,513.4 1323,513.5 1323.3,513.6 1323.7,513.6 1324,513.7 1324.3,513.4 1324.7,512.9 1325,512.5 1325.3,512 1325.7,511.7 1326,511.5 1326.4,511.2 1326.7,511.9 1327,512.6 1327.4,513.3 1327.7,513.9 1328,514.4 1328.4,514.9 1328.7,514.5 1329,513.2 1329.4,511.9 1329.7,511.2 1330,512.3 1330.4,513.4 1330.7,514.5 1331.1,513.3 1331.4,512.2 1331.7,511.1 1332.1,511.3 1332.4,511.9 1332.7,512.6 1333.1,513.1 1333.4,513.4 1333.7,513.7 1334.1,514 1334.4,514 1334.8,514 1335.1,513.9 1335.4,513.4 1335.8,512.8 1336.1,512.3 1336.4,512 1336.8,511.7 1337.1,511.5 1337.4,511.7 1337.8,512.3 1338.1,512.8 1338.4,513.1 1338.8,512.5 1339.1,512 1339.5,511.4 1339.8,510.8 1340.1,510.2 1340.5,509.6 1340.8,510.4 1341.1,511.6 1341.5,512.7 1341.8,513.6 1342.1,514.1 1342.5,514.5 1342.8,514.9 1343.1,514.9 1343.5,514.8 1343.8,514.8 1344.2,514.9 1344.5,515.1 1344.8,515.3 1345.2,515.1 1345.5,514.7 1345.8,514.3 1346.2,514.1 1346.5,514.2 1346.8,514.2 1347.2,514.3 1347.5,514.6 1347.9,514.9 1348.2,515.3 1348.5,514.3 1348.9,513.3 1349.2,512.4 1349.5,513.4 1349.9,515 1350.2,516.6 1350.5,517.1 1350.9,516.4 1351.2,515.8 1351.5,514.8 1351.9,513.1 1352.2,511.4 1352.6,509.7 1352.9,510.2 1353.2,510.7 1353.6,511.2 1353.9,511.5 1354.2,511.8 1354.6,512.1 1354.9,512.2 1355.2,512.2 1355.6,512.3 1355.9,512.1 1356.3,511.4 1356.6,510.8 1356.9,510.1 1357.3,510.7 1357.6,511.4 1357.9,512 1358.3,512.3 1358.6,512.6 1358.9,512.8 1359.3,513.3 1359.6,513.9 1359.9,514.6 1360.3,514.9 1360.6,514.4 1361,513.8 1361.3,513.2 1361.6,513.5 1362,513.8 1362.3,514.2 1362.6,514.2 1363,514.2 1363.3,514.2 1363.6,514.2 1364,514.2 1364.3,514.2 1364.6,514.1 1365,513.8 1365.3,513.4 1365.7,513.1 1366,513.2 1366.3,513.4 1366.7,513.5 1367,513.1 1367.3,512.5 1367.7,511.8 1368,512.1 1368.3,513.2 1368.7,514.3 1369,515 1369.4,514.4 1369.7,513.8 1370,513.2 1370.4,512.2 1370.7,511.1 1371,510.1 1371.4,510.5 1371.7,511.4 1372,512.4 1372.4,512.5 1372.7,511.9 1373,511.3 1373.4,510.9 1373.7,510.9 1374.1,510.9 1374.4,510.9 1374.7,510.8 1375.1,510.7 1375.4,510.6 1375.7,510.8 1376.1,511.1 1376.4,511.4 1376.7,512.1 1377.1,513.1 1377.4,514.2 1377.8,514.9 1378.1,514.3 1378.4,513.7 1378.8,513.1 1379.1,513.1 1379.4,513.2 1379.8,513.2 1380.1,513.6 1380.4,514.2 1380.8,514.8 1381.1,514.8 1381.4,514.2 1381.8,513.6 1382.1,513.2 1382.5,513.6 1382.8,513.9 1383.1,514.3 1383.5,514.5 1383.8,514.6 1384.1,514.8 1384.5,514 1384.8,513 1385.1,511.9 1385.5,511.4 1385.8,511.5 1386.2,511.5 1386.5,511.5 1386.8,511.7 1387.2,511.9 1387.5,512 1387.8,512 1388.2,511.9 1388.5,511.7 1388.8,511.3 1389.2,510.7 1389.5,510 1389.8,509.3 1390.2,508.5 1390.5,507.6 1390.9,506.4 1391.2,505.1 1391.5,503.5 1391.9,501.5 1392.2,499 1392.5,496.1 1392.9,492.9 1393.2,489.8 1393.5,486.7 1393.9,483.8 1394.2,481.3 1394.5,480.1 1394.9,480.4 1395.2,481.8 1395.6,484.2 1395.9,487.1 1396.2,490.3 1396.6,493.5 1396.9,496.4 1397.2,498.9 1397.6,501.5 1397.9,503.8 1398.2,505.8 1398.6,507.2 1398.9,508.1 1399.3,508.9 1399.6,509.3 1399.9,509.3 1400.3,509.2 1400.6,508.9 1400.9,509.5 1401.3,510.1 1401.6,510.6 1401.9,510.8 1402.3,510.9 1402.6,510.9 1402.9,511.6 1403.3,512.9 1403.6,514.3 1404,515.3 1404.3,515.5 1404.6,515.6 1405,515.7 1405.3,514.2 1405.6,512.7 1406,511.1 1406.3,510.8 1406.6,510.8 1407,510.8 1407.3,510.5 1407.7,509.9 1408,509.3 1408.3,509 1408.7,509.3 1409,509.6 1409.3,509.9 1409.7,510.1 1410,510.3 1410.3,510.5 1410.7,510.6 1411,510.6 1411.3,510.6 1411.7,510.9 1412,511.6 1412.4,512.2 1412.7,512.3 1413,511 1413.4,509.6 1413.7,508.3 1414,508.8 1414.4,509.4 1414.7,509.9 1415,509.4 1415.4,508.5 1415.7,507.6 1416,507.1 1416.4,506.8 1416.7,506.5 1417.1,506 1417.4,505.4 1417.7,504.6 1418.1,503.7 1418.4,502.4 1418.7,500.8 1419.1,499 1419.4,497.6 1419.7,496 1420.1,493.8 1420.4,490.5 1420.8,485.9 1421.1,480.3 1421.4,473.6 1421.8,465.8 1422.1,456.9 1422.4,446.8 1422.8,435.6 1423.1,424.6 1423.4,415.3 1423.8,409.2 1424.1,407.9 1424.4,410.9 1424.8,417.8 1425.1,428.1 1425.5,439.8 1425.8,451 1426.1,460 1426.5,467.8 1426.8,474.4 1427.1,480.7 1427.5,485.9 1427.8,490.2 1428.1,493.5 1428.5,496.2 1428.8,498.3 1429.2,500 1429.5,501.3 1429.8,502.4 1430.2,503.5 1430.5,505.2 1430.8,506.8 1431.2,508.3 1431.5,508.1 1431.8,507.9 1432.2,507.6 1432.5,507.3 1432.8,507 1433.2,506.6 1433.5,507.1 1433.9,508.6 1434.2,509.9 1434.5,510.9 1434.9,510.8 1435.2,510.6 1435.5,510.4 1435.9,510.8 1436.2,511.3 1436.5,511.7 1436.9,511.5 1437.2,511.1 1437.6,510.7 1437.9,510.8 1438.2,511.6 1438.6,512.4 1438.9,512.7 1439.2,511.3 1439.6,510 1439.9,508.7 1440.2,509.7 1440.6,510.8 1440.9,511.9 1441.2,512.6 1441.6,513.2 1441.9,513.8 1442.3,513.3 1442.6,511.6 1442.9,509.9 1443.3,508.8 1443.6,509.2 1443.9,509.6 1444.3,510.1 1444.6,510.3 1444.9,510.5 1445.3,510.8 1445.6,510.8 1445.9,510.8 1446.3,510.8 1446.6,511 1447,511.5 1447.3,511.9 1447.6,512.2 1448,512.1 1448.3,512.1 1448.6,512 1449,511.5 1449.3,511 1449.6,510.4 1450,510.2 1450.3,510.1 1450.7,510 1451,509.9 1451.3,509.8 1451.7,509.8 1452,509.8 1452.3,510.1 1452.7,510.5 1453,510.8 1453.3,511.1 1453.7,511.3 1454,511.6 1454.3,511.5 1454.7,511.3 1455,511.1 1455.4,510.6 1455.7,509.8 1456,509.1 1456.4,508.4 1456.7,508.1 1457,507.8 1457.4,507.5 1457.7,508.3 1458,509 1458.4,509.8 1458.7,509.9 1459.1,509.7 1459.4,509.6 1459.7,508.9 1460.1,507.8 1460.4,506.6 1460.7,505.7 1461.1,505.6 1461.4,505.5 1461.7,505.3 1462.1,504.9 1462.4,504.4 1462.7,503.8 1463.1,503.9 1463.4,504.2 1463.8,504.4 1464.1,503.8 1464.4,502.2 1464.8,500.4 1465.1,498.6 1465.4,496.9 1465.8,494.8 1466.1,492.2 1466.4,488.6 1466.8,484.2 1467.1,478.9 1467.5,473.5 1467.8,467.1 1468.1,459.3 1468.5,448.6 1468.8,435.1 1469.1,420.1 1469.5,404.5 1469.8,390 1470.1,376.3 1470.5,365 1470.8,357.7 1471.1,356.1 1471.5,360.6 1471.8,370.6 1472.2,384.6 1472.5,400.4 1472.8,415.6 1473.2,429.1 1473.5,441.3 1473.8,451.9 1474.2,460.7 1474.5,468.1 1474.8,474.1 1475.2,481 1475.5,487 1475.8,492.1 1476.2,494.7 1476.5,496.1 1476.9,497.1 1477.2,498.2 1477.5,499.4 1477.9,500.4 1478.2,501.4 1478.5,503 1478.9,504.5 1479.2,505.9 1479.5,505.8 1479.9,505.6 1480.2,505.3 1480.6,506 1480.9,507 1481.2,507.9 1481.6,508.2 1481.9,507.7 1482.2,507.2 1482.6,506.9 1482.9,507.5 1483.2,508.1 1483.6,508.7 1483.9,509 1484.2,509.3 1484.6,509.7 1484.9,509.2 1485.3,508.4 1485.6,507.6 1485.9,507.6 1486.3,508.3 1486.6,509 1486.9,509.5 1487.3,509.3 1487.6,509.2 1487.9,509 1488.3,510.4 1488.6,511.7 1489,513.1 1489.3,513.3 1489.6,513.1 1490,512.8 1490.3,512.4 1490.6,511.7 1491,511 1491.3,510.4 1491.6,510.5 1492,510.5 1492.3,510.5 1492.6,511 1493,511.5 1493.3,512.1 1493.7,511.9 1494,511.5 1494.3,511.1 1494.7,511.4 1495,512.4 1495.3,513.4 1495.7,513.9 1496,513.3 1496.3,512.7 1496.7,512 1497,512.8 1497.3,513.5 1497.7,514.2 1498,513.8 1498.4,513.1 1498.7,512.3 1499,512.2 1499.4,512.6 1499.7,513.1 1500,513.4 1500.4,513.5 1500.7,513.6 1501,513.7 1501.4,513.4 1501.7,513 1502.1,512.7 1502.4,511.9 1502.7,511 1503.1,510.1 1503.4,510.4 1503.7,511.9 1504.1,513.4 1504.4,514.4 1504.7,514.2 1505.1,514 1505.4,513.8 1505.7,513 1506.1,512.1 1506.4,511.3 1506.8,511.6 1507.1,512.4 1507.4,513.2 1507.8,513 1508.1,511.9 1508.4,510.8 1508.8,510.1 1509.1,510.9 1509.4,511.7 1509.8,512.5 1510.1,512.6 1510.5,512.7 1510.8,512.8 1511.1,512.7 1511.5,512.6 1511.8,512.4 1512.1,512 1512.5,511.3 1512.8,510.6 1513.1,510.2 1513.5,510.8 1513.8,511.3 1514.1,511.9 1514.5,512 1514.8,512 1515.2,512.1 1515.5,512.2 1515.8,512.4 1516.2,512.5 1516.5,513.1 1516.8,514 1517.2,514.9 1517.5,515.5 1517.8,515.2 1518.2,514.8 1518.5,514.5 1518.9,513.3 1519.2,512.1 1519.5,510.9 1519.9,510.8 1520.2,511.2 1520.5,511.5 1520.9,511.8 1521.2,511.9 1521.5,512.1 1521.9,512.2 1522.2,512.1 1522.5,512.1 1522.9,512 1523.2,512.6 1523.6,513.2 1523.9,513.8 1524.2,513.6 1524.6,513.2 1524.9,512.7 1525.2,512.8 1525.6,513.4 1525.9,514.1 1526.2,514.4 1526.6,513.7 1526.9,513.1 1527.2,512.4 1527.6,513 1527.9,513.5 1528.3,514.1 1528.6,514 1528.9,513.8 1529.3,513.5 1529.6,513.2 1529.9,512.9 1530.3,512.5 1530.6,512.3 1530.9,512.7 1531.3,513.1 1531.6,513.5 1532,513 1532.3,512.5 1532.6,512 1533,511.9 1533.3,512 1533.6,512.1 1534,512.2 1534.3,512.2 1534.6,512.2 1535,512.1 1535.3,511.6 1535.6,511.1 1536,510.6 1536.3,512 1536.7,513.4 1537,514.8 1537.3,515.2 1537.7,515.2 1538,515.2 1538.3,514.6 1538.7,513.4 1539,512.1 1539.3,511.1 1539.7,510.8 1540,510.5 1540.4,510.1 1540.7,509.2 1541,508.3 1541.4,507.2 1541.7,506.9 1542,506.7 1542.4,506.2 1542.7,505.3 1543,504 1543.4,502.9 1543.7,502.2 1544,501.9 1544.4,502.3 1544.7,503.7 1545.1,504.8 1545.4,505.6 1545.7,506.1 1546.1,507.1 1546.4,508.1 1546.7,508.9 1547.1,509.9 1547.4,511.3 1547.7,512.5 1548.1,513.4 1548.4,513.5 1548.8,513.5 1549.1,513.6 1549.4,513.3 1549.8,512.9 1550.1,512.6 1550.4,512.4 1550.8,512.2 1551.1,512 1551.4,512.8 1551.8,514.5 1552.1,516.1 1552.4,517 1552.8,515.5 1553.1,513.9 1553.5,512.4 1553.8,512.3 1554.1,512.2 1554.5,512.1 1554.8,512.2 1555.1,512.4 1555.5,512.6 1555.8,512.5 1556.1,512.3 1556.5,512 1556.8,511.8 1557.1,511.6 1557.5,511.5 1557.8,511.3 1558.2,512 1558.5,512.7 1558.8,513.4 1559.2,512.9 1559.5,512.1 1559.8,511.3 1560.2,510.9 1560.5,511.1 1560.8,511.3 1561.2,511.5 1561.5,511.6 1561.9,511.7 1562.2,511.8 1562.5,510.8 1562.9,509.8 1563.2,508.7 1563.5,507.6 1563.9,506.2 1564.2,504.8 1564.5,504.4 1564.9,505 1565.2,505.4 1565.5,505.4 1565.9,504.1 1566.2,502.9 1566.6,501.5 1566.9,500 1567.2,498.4 1567.6,496.7 1567.9,494.4 1568.2,493.2 1568.6,492.9 1568.9,492.7 1569.2,493.3 1569.6,494.9 1569.9,497 1570.3,498.3 1570.6,499.7 1570.9,501 1571.3,502.8 1571.6,504.4 1571.9,505.9 1572.3,507.1 1572.6,508.1 1572.9,509 1573.3,510 1573.6,511.1 1573.9,512.2 1574.3,512.8 1574.6,512.1 1575,511.3" fill="none" stroke="#ff0000" stroke-width="1.8" stroke-linejoin="round"/>
<text transform="translate(1105.8 485.9) rotate(-90)" font-size="26.5">(111)</text>
<text transform="translate(1209.1 376.9) rotate(-90)" font-size="26.5">(220)</text>
<text transform="translate(1256.9 79.2) rotate(-90)" font-size="26.5">(311)</text>
<text transform="translate(1317.5 402.7) rotate(-90)" font-size="26.5">(400)</text>
<text transform="translate(1402.1 471.7) rotate(-90)" font-size="26.5">(422)</text>
<text transform="translate(1434.4 401.1) rotate(-90)" font-size="26.5">(511)</text>
<text transform="translate(1480.7 345.6) rotate(-90)" font-size="26.5">(440)</text>
<text transform="translate(1577.8 485.5) rotate(-90)" font-size="26.5">(533)</text>
<text x="1565" y="90.5" font-size="54" font-weight="bold" fill="#ff0000">a</text>
</g>
<g id="pd">
<rect x="111.8" y="668.5" width="674.7" height="541.3" fill="none" stroke="#1c1c1c" stroke-width="1.6"/>
<path d="M111.8 1209.8v14M196.1 1209.8v14M280.5 1209.8v14M364.8 1209.8v14M449.2 1209.8v14M533.5 1209.8v14M617.8 1209.8v14M702.2 1209.8v14M786.5 1209.8v14M111.8 1209.8h-14M111.8 1074.5h-14M111.8 939.2h-14M111.8 803.8h-14M111.8 668.5h-14" stroke="#1c1c1c" stroke-width="1.6" fill="none"/>
<g font-size="40.8" text-anchor="end">
<text x="81.8" y="1221">0</text>
<text x="81.8" y="1085.7">500</text>
<text x="81.8" y="950.4">1000</text>
<text x="81.8" y="815">1500</text>
<text x="81.8" y="679.7">2000</text>
</g>
<g font-size="44.5" text-anchor="middle">
<text x="111.8" y="1268.2">0</text>
<text x="196.1" y="1268.2">10</text>
<text x="280.5" y="1268.2">20</text>
<text x="364.8" y="1268.2">30</text>
<text x="449.2" y="1268.2">40</text>
<text x="533.5" y="1268.2">50</text>
<text x="617.8" y="1268.2">60</text>
<text x="702.2" y="1268.2">70</text>
<text x="786.5" y="1268.2">80</text>
</g>
<polyline points="154.8,1053.9 155.2,1060.6 155.7,1068.1 156.1,1076.6 156.5,1082 156.9,1088.1 157.3,1095.5 157.8,1102 158.2,1108.6 158.6,1114 159,1119.3 159.5,1124.1 159.9,1128.6 160.3,1130.4 160.7,1130.7 161.1,1131.9 161.6,1134.2 162,1137.7 162.4,1142.3 162.8,1140.8 163.2,1138.2 163.7,1134.7 164.1,1134.3 164.5,1132.8 164.9,1130.3 165.4,1130.9 165.8,1133.6 166.2,1139.9 166.6,1136.1 167,1135.3 167.5,1137.5 167.9,1138.6 168.3,1140.3 168.7,1142.6 169.1,1142.8 169.6,1143 170,1143.3 170.4,1142.1 170.8,1143 171.3,1146 171.7,1143.7 172.1,1144.6 172.5,1148.7 172.9,1147.9 173.4,1148.6 173.8,1150.3 174.2,1152.8 174.6,1154.6 175.1,1155.6 175.5,1152.1 175.9,1150.9 176.3,1151.8 176.7,1152.8 177.2,1153.1 177.6,1152.9 178,1154.8 178.4,1155.6 178.8,1155.3 179.3,1157.2 179.7,1158.2 180.1,1158.4 180.5,1156.7 181,1156.8 181.4,1158.6 181.8,1158.1 182.2,1159.2 182.6,1162 183.1,1161.3 183.5,1162.1 183.9,1164.5 184.3,1162.4 184.8,1161.7 185.2,1162.1 185.6,1163 186,1163.7 186.4,1164.2 186.9,1161.9 187.3,1161 187.7,1161.5 188.1,1166.2 188.5,1166.7 189,1163.2 189.4,1169.5 189.8,1171.3 190.2,1168.6 190.7,1168 191.1,1166.8 191.5,1165.1 191.9,1168.8 192.3,1170.4 192.8,1170.2 193.2,1169.6 193.6,1170.5 194,1172.9 194.5,1171.1 194.9,1169.9 195.3,1169.3 195.7,1168.4 196.1,1169.4 196.6,1172.1 197,1171.5 197.4,1171.6 197.8,1172.5 198.2,1173.5 198.7,1174.2 199.1,1174.8 199.5,1174.8 199.9,1173.6 200.4,1171.2 200.8,1172.6 201.2,1173.7 201.6,1174.4 202,1173.8 202.5,1173.8 202.9,1174.3 203.3,1172.3 203.7,1172.6 204.1,1175 204.6,1176 205,1175.9 205.4,1174.9 205.8,1176.8 206.3,1175.8 206.7,1171.8 207.1,1173.3 207.5,1174.2 207.9,1174.4 208.4,1175.8 208.8,1175.4 209.2,1173.3 209.6,1173 210.1,1174.5 210.5,1177.5 210.9,1178 211.3,1179.3 211.7,1180.2 212.2,1175.9 212.6,1174 213,1174.7 213.4,1173.3 213.8,1170.9 214.3,1167.7 214.7,1167.1 215.1,1168.8 215.5,1171.7 216,1169.9 216.4,1169.1 216.8,1169.2 217.2,1165.8 217.6,1167.4 218.1,1173.8 218.5,1171.1 218.9,1169.8 219.3,1169.8 219.8,1166.9 220.2,1167.3 220.6,1171 221,1175.9 221.4,1176.2 221.9,1172 222.3,1169.1 222.7,1167.5 223.1,1167.1 223.5,1166 224,1166.6 224.4,1170.5 224.8,1174.1 225.2,1175.2 225.7,1173.8 226.1,1177.3 226.5,1179.4 226.9,1178.5 227.3,1179.5 227.8,1179.3 228.2,1177.8 228.6,1181.8 229,1183.3 229.5,1182.1 229.9,1181.4 230.3,1181.3 230.7,1181.8 231.1,1182.5 231.6,1183.7 232,1185.4 232.4,1181.7 232.8,1178.8 233.2,1176.7 233.7,1178.3 234.1,1179.7 234.5,1180.9 234.9,1179.1 235.4,1181.1 235.8,1186.9 236.2,1187.2 236.6,1186.4 237,1184.5 237.5,1186.3 237.9,1186.9 238.3,1186.4 238.7,1182.4 239.1,1182.8 239.6,1187.6 240,1185.2 240.4,1185.4 240.8,1188.1 241.3,1186.6 241.7,1184.5 242.1,1181.7 242.5,1184.5 242.9,1185.1 243.4,1183.6 243.8,1182.9 244.2,1183.7 244.6,1186.2 245.1,1184.3 245.5,1184.1 245.9,1185.6 246.3,1184 246.7,1184.6 247.2,1187.4 247.6,1188.5 248,1188.6 248.4,1187.6 248.8,1186.4 249.3,1185.2 249.7,1183.9 250.1,1184.9 250.5,1186 251,1187.2 251.4,1187.2 251.8,1185.3 252.2,1181.4 252.6,1185.4 253.1,1185.5 253.5,1181.7 253.9,1186.1 254.3,1187.9 254.8,1187.3 255.2,1185 255.6,1184.3 256,1185.3 256.4,1188 256.9,1188.7 257.3,1187.6 257.7,1187.8 258.1,1186.1 258.5,1182.6 259,1184.1 259.4,1186.1 259.8,1188.6 260.2,1186.9 260.7,1186.9 261.1,1188.5 261.5,1187.7 261.9,1187.4 262.3,1187.7 262.8,1188.1 263.2,1187.5 263.6,1186 264,1186.1 264.5,1186.2 264.9,1186.2 265.3,1184.9 265.7,1185.5 266.1,1188 266.6,1190.2 267,1190.6 267.4,1189.4 267.8,1186.9 268.2,1186.5 268.7,1188.1 269.1,1186.8 269.5,1185.6 269.9,1184.6 270.4,1187.9 270.8,1189 271.2,1188 271.6,1189.4 272,1188.5 272.5,1185.2 272.9,1188.3 273.3,1189.6 273.7,1189.1 274.1,1189.2 274.6,1189.4 275,1190.4 275.4,1187.4 275.8,1187.1 276.3,1189.4 276.7,1194.9 277.1,1196.5 277.5,1193.4 277.9,1192.4 278.4,1191.8 278.8,1191.7 279.2,1191.2 279.6,1192.1 280.1,1194.3 280.5,1192 280.9,1191.9 281.3,1193.8 281.7,1196.9 282.2,1196.7 282.6,1193.2 283,1194.3 283.4,1193.8 283.8,1191.7 284.3,1191.1 284.7,1192.5 285.1,1196 285.5,1193.3 286,1192.2 286.4,1192.7 286.8,1195.5 287.2,1197.5 287.6,1198.7 288.1,1194.8 288.5,1192.9 288.9,1193 289.3,1193.8 289.8,1196.3 290.2,1200.3 290.6,1195.6 291,1193.4 291.4,1193.9 291.9,1195 292.3,1194.8 292.7,1193.4 293.1,1195.4 293.5,1195.1 294,1192.7 294.4,1193.7 294.8,1194.7 295.2,1195.8 295.7,1194 296.1,1193.7 296.5,1194.9 296.9,1197 297.3,1196.6 297.8,1193.8 298.2,1193.6 298.6,1194.7 299,1197.1 299.5,1194.3 299.9,1192.2 300.3,1191.1 300.7,1191.5 301.1,1189.9 301.6,1186.4 302,1186 302.4,1187.5 302.8,1191 303.2,1189.7 303.7,1187.5 304.1,1184.4 304.5,1187.9 304.9,1190 305.4,1190.7 305.8,1188.9 306.2,1188.9 306.6,1190.8 307,1191.4 307.5,1190.1 307.9,1187 308.3,1186.5 308.7,1184.8 309.1,1181.8 309.6,1181.9 310,1182.8 310.4,1184.3 310.8,1182.3 311.3,1180.8 311.7,1179.6 312.1,1179.8 312.5,1179.3 312.9,1177.8 313.4,1175.6 313.8,1173.7 314.2,1172.1 314.6,1169.5 315.1,1166.6 315.5,1163.3 315.9,1160.6 316.3,1159.1 316.7,1158.5 317.2,1154.5 317.6,1149.1 318,1142.3 318.4,1136.2 318.8,1128.9 319.3,1120.2 319.7,1112.1 320.1,1101.2 320.5,1087.1 321,1068.6 321.4,1046.9 321.8,1020.9 322.2,988.6 322.6,952.9 323.1,913.5 323.5,863.1 323.9,810.9 324.3,762.9 324.8,727.1 325.2,713.9 325.6,726.5 326,762.2 326.4,811.7 326.9,864.6 327.3,911.9 327.7,953.9 328.1,989.8 328.5,1022.1 329,1048.1 329.4,1068.7 329.8,1085 330.2,1098.9 330.7,1111.2 331.1,1120.6 331.5,1129.4 331.9,1138.2 332.3,1143.9 332.8,1149.7 333.2,1156 333.6,1157.7 334,1159 334.5,1160.1 334.9,1167.6 335.3,1171.2 335.7,1170.9 336.1,1169.9 336.6,1171 337,1174 337.4,1178 337.8,1178.4 338.2,1175.2 338.7,1179.7 339.1,1180.6 339.5,1177.8 339.9,1180.7 340.4,1182.7 340.8,1183.9 341.2,1182.4 341.6,1181.7 342,1182 342.5,1180.5 342.9,1179.6 343.3,1179.5 343.7,1180.3 344.1,1180 344.6,1178.6 345,1181.2 345.4,1183.3 345.8,1184.8 346.3,1185.8 346.7,1186.8 347.1,1187.6 347.5,1188.4 347.9,1188.4 348.4,1187.9 348.8,1188.2 349.2,1188.9 349.6,1190 350.1,1188.8 350.5,1189.2 350.9,1191.3 351.3,1191.2 351.7,1190.7 352.2,1189.6 352.6,1192.3 353,1193.4 353.4,1192.8 353.8,1190.3 354.3,1190.9 354.7,1194.5 355.1,1190.6 355.5,1190.8 356,1195.1 356.4,1193.1 356.8,1193.2 357.2,1195.3 357.6,1194.8 358.1,1194.6 358.5,1194.9 358.9,1195.2 359.3,1194.2 359.8,1192.1 360.2,1192.4 360.6,1192.4 361,1192.1 361.4,1193.3 361.9,1192.8 362.3,1190.7 362.7,1191.9 363.1,1192.8 363.5,1193.5 364,1195.5 364.4,1195.5 364.8,1193.4 365.2,1193.8 365.7,1194.2 366.1,1194.6 366.5,1193.9 366.9,1193.8 367.3,1194.4 367.8,1195.1 368.2,1195.1 368.6,1194.7 369,1194.7 369.5,1194.7 369.9,1194.7 370.3,1195.1 370.7,1195.6 371.1,1196.2 371.6,1196.6 372,1195.3 372.4,1192.5 372.8,1191.7 373.2,1193 373.7,1196.7 374.1,1196.7 374.5,1196.8 374.9,1196.9 375.4,1197.3 375.8,1197.4 376.2,1197.1 376.6,1195.8 377,1196.3 377.5,1198.6 377.9,1195.8 378.3,1194.2 378.7,1193.8 379.1,1193.1 379.6,1192.6 380,1192.1 380.4,1192.9 380.8,1192.6 381.3,1191.3 381.7,1195.3 382.1,1196.5 382.5,1194.8 382.9,1194.2 383.4,1193.7 383.8,1193.1 384.2,1193.9 384.6,1194.8 385.1,1195.9 385.5,1193.9 385.9,1193.1 386.3,1193.7 386.7,1194.7 387.2,1195.1 387.6,1194.8 388,1196.8 388.4,1198.9 388.8,1200.9 389.3,1197.8 389.7,1196.3 390.1,1196.5 390.5,1195.7 391,1196.1 391.4,1197.7 391.8,1197 392.2,1194.8 392.6,1191.1 393.1,1192.9 393.5,1194.1 393.9,1194.6 394.3,1195.6 394.8,1195.4 395.2,1194.1 395.6,1193.6 396,1193.6 396.4,1194.1 396.9,1195.3 397.3,1195.6 397.7,1194.9 398.1,1196.6 398.5,1196.9 399,1195.8 399.4,1194.8 399.8,1194.9 400.2,1196.2 400.7,1196.2 401.1,1194.8 401.5,1191.9 401.9,1194 402.3,1194.4 402.8,1193.3 403.2,1194.3 403.6,1195.1 404,1195.7 404.5,1194.7 404.9,1194.4 405.3,1194.8 405.7,1196.4 406.1,1196.7 406.6,1195.5 407,1194.7 407.4,1193 407.8,1190.4 408.2,1193.2 408.7,1193.8 409.1,1192.2 409.5,1191.4 409.9,1190.9 410.4,1190.7 410.8,1191.8 411.2,1190.9 411.6,1188.1 412,1187.7 412.5,1190.6 412.9,1197 413.3,1191 413.7,1188 414.1,1188.1 414.6,1187.2 415,1186.9 415.4,1187.3 415.8,1185.8 416.3,1184 416.7,1182 417.1,1181.9 417.5,1181.3 417.9,1180.3 418.4,1180.6 418.8,1180.5 419.2,1179.8 419.6,1178.6 420.1,1178.1 420.5,1178.3 420.9,1172.6 421.3,1170.1 421.7,1170.9 422.2,1168.9 422.6,1167 423,1165.5 423.4,1163.3 423.8,1163.1 424.3,1164.7 424.7,1159.6 425.1,1157 425.5,1157.1 426,1153.5 426.4,1150.6 426.8,1148.5 427.2,1144.7 427.6,1138.7 428.1,1130.5 428.5,1126.6 428.9,1122.1 429.3,1117.1 429.8,1111.8 430.2,1107.1 430.6,1103 431,1098.3 431.4,1094.9 431.9,1092.7 432.3,1091.5 432.7,1092.5 433.1,1096.4 433.5,1099.2 434,1101.8 434.4,1104.6 434.8,1110.2 435.2,1115.6 435.7,1120.6 436.1,1126.9 436.5,1133.5 436.9,1140.3 437.3,1142.1 437.8,1145.2 438.2,1149.5 438.6,1153.9 439,1158.6 439.5,1163.6 439.9,1164.2 440.3,1165 440.7,1166.1 441.1,1168.9 441.6,1171.8 442,1174.8 442.4,1175.4 442.8,1176.9 443.2,1179.4 443.7,1179.7 444.1,1180.2 444.5,1180.9 444.9,1181.9 445.4,1182.8 445.8,1183.6 446.2,1184.6 446.6,1186 447,1188 447.5,1190 447.9,1189.6 448.3,1186.8 448.7,1189.3 449.1,1190.1 449.6,1189.3 450,1192.4 450.4,1192.3 450.8,1189 451.3,1190.8 451.7,1190.8 452.1,1188.9 452.5,1193.7 452.9,1195.7 453.4,1195.1 453.8,1191.8 454.2,1191 454.6,1192.7 455.1,1193 455.5,1193.3 455.9,1193.4 456.3,1193.2 456.7,1193.3 457.2,1193.6 457.6,1195.5 458,1196.2 458.4,1195.7 458.8,1194 459.3,1193.7 459.7,1194.9 460.1,1196.3 460.5,1196.1 461,1194.2 461.4,1193.5 461.8,1194.3 462.2,1196.6 462.6,1196.1 463.1,1195.1 463.5,1193.7 463.9,1194.1 464.3,1194 464.8,1193.3 465.2,1195.2 465.6,1195.5 466,1194.4 466.4,1194.2 466.9,1196.1 467.3,1200 467.7,1197.8 468.1,1196.4 468.5,1195.8 469,1196.6 469.4,1197.1 469.8,1197.1 470.2,1195.7 470.7,1195.5 471.1,1196.3 471.5,1197.6 471.9,1198.3 472.3,1198.5 472.8,1197.7 473.2,1196.1 473.6,1193.7 474,1193.7 474.5,1194.8 474.9,1196.8 475.3,1198.6 475.7,1199.1 476.1,1198.4 476.6,1197.7 477,1197.8 477.4,1198.5 477.8,1197.4 478.2,1197.2 478.7,1197.8 479.1,1196.9 479.5,1196.1 479.9,1195.6 480.4,1199.3 480.8,1198.1 481.2,1192 481.6,1194.6 482,1195.7 482.5,1195.2 482.9,1198.6 483.3,1199.9 483.7,1198.8 484.2,1196.1 484.6,1194.7 485,1194.6 485.4,1199 485.8,1198.9 486.3,1194.3 486.7,1194.4 487.1,1194.7 487.5,1195.5 487.9,1197.5 488.4,1197.6 488.8,1195.6 489.2,1196.7 489.6,1196.5 490.1,1195 490.5,1193.4 490.9,1193.3 491.3,1194.6 491.7,1194.4 492.2,1194.9 492.6,1196 493,1196.7 493.4,1196.5 493.8,1195.5 494.3,1194.1 494.7,1192.8 495.1,1191.6 495.5,1193.1 496,1194 496.4,1194.2 496.8,1194.1 497.2,1194.7 497.6,1196.2 498.1,1193.9 498.5,1192.4 498.9,1191.7 499.3,1192.9 499.8,1193 500.2,1192 500.6,1194.1 501,1194.4 501.4,1192.8 501.9,1188.8 502.3,1187.8 502.7,1189.6 503.1,1187.7 503.5,1186.8 504,1186.9 504.4,1188.3 504.8,1187.5 505.2,1184.6 505.7,1185.1 506.1,1182.1 506.5,1175.7 506.9,1178.6 507.3,1180 507.8,1179.8 508.2,1179.3 508.6,1176.3 509,1170.8 509.5,1168.1 509.9,1166.4 510.3,1165.6 510.7,1164.2 511.1,1161.5 511.6,1157.2 512,1153 512.4,1146.9 512.8,1138.7 513.2,1134.8 513.7,1126.8 514.1,1114.7 514.5,1109.1 514.9,1102.6 515.4,1095.5 515.8,1085.2 516.2,1078.8 516.6,1075.4 517,1070.2 517.5,1068.5 517.9,1070.1 518.3,1072.8 518.7,1077.1 519.2,1084.3 519.6,1093.4 520,1103.7 520.4,1114.5 520.8,1121.6 521.3,1128.7 521.7,1135.8 522.1,1139.2 522.5,1144.5 522.9,1151.5 523.4,1154.6 523.8,1156.8 524.2,1158.3 524.6,1164.4 525.1,1168.5 525.5,1170.5 525.9,1174 526.3,1176.1 526.7,1176.8 527.2,1178.4 527.6,1179.6 528,1180.4 528.4,1182.3 528.8,1183.8 529.3,1184.8 529.7,1183.2 530.1,1183.7 530.5,1186.4 531,1187.4 531.4,1188.6 531.8,1190.1 532.2,1192.6 532.6,1192.2 533.1,1188.9 533.5,1190 533.9,1191.8 534.3,1194.2 534.8,1193.2 535.2,1193.6 535.6,1195.4 536,1193.3 536.4,1192.3 536.9,1192.5 537.3,1191.4 537.7,1192.9 538.1,1197 538.5,1198.9 539,1197.4 539.4,1192.8 539.8,1191.8 540.2,1192.5 540.7,1194.9 541.1,1193.9 541.5,1194.7 541.9,1197.4 542.3,1196 542.8,1194.9 543.2,1193.9 543.6,1194.9 544,1195.7 544.5,1196.2 544.9,1194.6 545.3,1195 545.7,1197.2 546.1,1196.6 546.6,1195.5 547,1193.9 547.4,1194.8 547.8,1196.2 548.2,1198.1 548.7,1197.1 549.1,1196.7 549.5,1196.7 549.9,1194.9 550.4,1194.4 550.8,1195.4 551.2,1195 551.6,1195.6 552,1197 552.5,1193.4 552.9,1192.7 553.3,1195.1 553.7,1192.5 554.2,1192.3 554.6,1194.4 555,1196.3 555.4,1194.8 555.8,1190 556.3,1194.9 556.7,1195.4 557.1,1191.3 557.5,1193.3 557.9,1192.4 558.4,1188.6 558.8,1190 559.2,1190 559.6,1188.7 560.1,1187.9 560.5,1187.2 560.9,1186.7 561.3,1184.6 561.7,1183.2 562.2,1182.2 562.6,1179.4 563,1177.5 563.4,1176.4 563.8,1172.3 564.3,1168 564.7,1163.5 565.1,1156 565.5,1146.8 566,1135.8 566.4,1129.1 566.8,1121 567.2,1112.2 567.6,1104.7 568.1,1101.3 568.5,1102.8 568.9,1107.9 569.3,1116 569.8,1126 570.2,1133.6 570.6,1140.8 571,1147.3 571.4,1149.5 571.9,1152.6 572.3,1156.7 572.7,1153.9 573.1,1151 573.5,1147.7 574,1146.5 574.4,1142 574.8,1134.2 575.2,1127.5 575.7,1118.6 576.1,1109.8 576.5,1105.3 576.9,1103.8 577.3,1105.5 577.8,1112.8 578.2,1123.3 578.6,1133.3 579,1142.1 579.5,1150.7 579.9,1159.1 580.3,1164 580.7,1168.1 581.1,1171.4 581.6,1174 582,1176.9 582.4,1180.3 582.8,1183.9 583.2,1184.9 583.7,1183.3 584.1,1186.4 584.5,1188 584.9,1188.1 585.4,1191.4 585.8,1193.4 586.2,1194.1 586.6,1194.3 587,1194.8 587.5,1195.6 587.9,1197.3 588.3,1195.7 588.7,1190.8 589.2,1193.9 589.6,1195 590,1193.9 590.4,1194 590.8,1193.8 591.3,1193.1 591.7,1194.4 592.1,1195.6 592.5,1196.7 592.9,1197.9 593.4,1198.1 593.8,1197.2 594.2,1195.1 594.6,1196.2 595.1,1200.3 595.5,1199.1 595.9,1197.7 596.3,1196 596.7,1194.8 597.2,1196.2 597.6,1200.2 598,1199.3 598.4,1198.6 598.8,1197.9 599.3,1195.4 599.7,1195.8 600.1,1199.3 600.5,1198.7 601,1198.1 601.4,1197.6 601.8,1199 602.2,1199.2 602.6,1198.2 603.1,1198.1 603.5,1198.3 603.9,1198.9 604.3,1197.8 604.8,1196.6 605.2,1195.2 605.6,1197.9 606,1199.5 606.4,1199.7 606.9,1199.7 607.3,1199.3 607.7,1198.5 608.1,1197.3 608.5,1197.3 609,1198.5 609.4,1198.3 609.8,1196.7 610.2,1193.5 610.7,1198.5 611.1,1200.9 611.5,1200.9 611.9,1199.1 612.3,1198.4 612.8,1198.8 613.2,1198 613.6,1197 614,1196 614.5,1197.9 614.9,1198.7 615.3,1198.6 615.7,1198.6 616.1,1198.2 616.6,1197.4 617,1197.9 617.4,1198.4 617.8,1198.8 618.2,1196.5 618.7,1196.3 619.1,1198.2 619.5,1200.1 619.9,1199.5 620.4,1196.4 620.8,1197.9 621.2,1198.3 621.6,1197.4 622,1197.2 622.5,1197.5 622.9,1198.4 623.3,1196.8 623.7,1196.6 624.2,1198 624.6,1198.9 625,1198 625.4,1195.3 625.8,1193.1 626.3,1193.5 626.7,1196.3 627.1,1193.3 627.5,1191.6 627.9,1191.1 628.4,1190.5 628.8,1191.5 629.2,1194.2 629.6,1194.2 630.1,1191.7 630.5,1186.8 630.9,1187.7 631.3,1187.4 631.7,1186 632.2,1184.8 632.6,1183.6 633,1182.4 633.4,1183 633.8,1181.9 634.3,1178.9 634.7,1175.4 635.1,1172.5 635.5,1170.3 636,1168.4 636.4,1164.4 636.8,1158.4 637.2,1154.5 637.6,1150.8 638.1,1147.6 638.5,1143.7 638.9,1138 639.3,1131.4 639.8,1131.5 640.2,1128.8 640.6,1127.3 641,1128.2 641.4,1130.6 641.9,1133.7 642.3,1136.2 642.7,1140.6 643.1,1146.8 643.5,1147.1 644,1151.7 644.4,1160.4 644.8,1163.6 645.2,1167.9 645.7,1173.4 646.1,1172.7 646.5,1174.6 646.9,1179.2 647.3,1180.4 647.8,1181.1 648.2,1181.5 648.6,1183 649,1184.6 649.5,1186.2 649.9,1186.9 650.3,1188.4 650.7,1190.9 651.1,1192.5 651.6,1194.1 652,1195.6 652.4,1193.4 652.8,1191.6 653.2,1190.1 653.7,1194.1 654.1,1195.9 654.5,1195.5 654.9,1196.6 655.4,1196.5 655.8,1195.5 656.2,1198.6 656.6,1198.6 657,1195.5 657.5,1195.3 657.9,1196.5 658.3,1199.1 658.7,1199.2 659.2,1199.4 659.6,1199.5 660,1198.3 660.4,1197 660.8,1195.9 661.3,1198.2 661.7,1200.3 662.1,1202 662.5,1200.2 662.9,1199.6 663.4,1200 663.8,1198.8 664.2,1198.8 664.6,1199.8 665.1,1198.7 665.5,1198.1 665.9,1197.9 666.3,1202.1 666.7,1203 667.2,1200.5 667.6,1199.8 668,1199.3 668.4,1199 668.8,1200.3 669.3,1201.8 669.7,1203.5 670.1,1201.7 670.5,1201.4 671,1202.4 671.4,1201.2 671.8,1199.8 672.2,1198.2 672.6,1200.4 673.1,1201 673.5,1200.1 673.9,1201.2 674.3,1200.5 674.8,1197.9 675.2,1199.9 675.6,1201.5 676,1202.8 676.4,1198.9 676.9,1197.6 677.3,1198.9 677.7,1198.6 678.1,1199.9 678.5,1202.9 679,1199.2 679.4,1197.2 679.8,1196.7 680.2,1199.1 680.7,1200.3 681.1,1200.4 681.5,1200.7 681.9,1198.9 682.3,1195.1 682.8,1199.6 683.2,1200.2 683.6,1197 684,1194.8 684.5,1195 684.9,1197.5 685.3,1193.2 685.7,1192.5 686.1,1195.3 686.6,1195.7 687,1194.5 687.4,1191.8 687.8,1192.2 688.2,1191.7 688.7,1190.3 689.1,1189.5 689.5,1188.6 689.9,1187.7 690.4,1184.3 690.8,1180.6 691.2,1176.6 691.6,1174.4 692,1172.9 692.5,1172 692.9,1171.6 693.3,1172 693.7,1174.5 694.2,1175.8 694.6,1177.4 695,1179.6 695.4,1181.7 695.8,1183.5 696.3,1184.8 696.7,1186.3 697.1,1186.5 697.5,1185.4 697.9,1187.3 698.4,1188 698.8,1187.4 699.2,1189.7 699.6,1190.3 700.1,1189.4 700.5,1187.3 700.9,1185.5 701.3,1184.1 701.7,1181.3 702.2,1180.9 702.6,1182.9 703,1178.5 703.4,1175.6 703.8,1174.3 704.3,1174.1 704.7,1174.8 705.1,1176.9 705.5,1177.6 706,1179.6 706.4,1183.4 706.8,1184.4 707.2,1187.1 707.6,1191.6 708.1,1191.8 708.5,1191.4 708.9,1190.4 709.3,1192.2 709.8,1194.5 710.2,1197.2 710.6,1197.2 711,1197.9 711.4,1199.5 711.9,1195.2 712.3,1193.8 712.7,1195.2 713.1,1196.2 713.5,1196.5 714,1196.1 714.4,1197.2 714.8,1197.3 715.2,1196.4 715.7,1197.5 716.1,1197.5 716.5,1196.3 716.9,1198.1 717.3,1199.1 717.8,1199.1 718.2,1199.8 718.6,1199.9 719,1199.5 719.5,1202 719.9,1201.2 720.3,1197 720.7,1197.1 721.1,1197.6 721.6,1198.5 722,1198 722.4,1198.2 722.8,1198.9 723.2,1198.7 723.7,1200.1 724.1,1203.1 724.5,1200.6 724.9,1200.2 725.4,1201.9 725.8,1200.3 726.2,1199.4 726.6,1199 727,1199 727.5,1199.7 727.9,1201 728.3,1197.1 728.7,1195.7 729.2,1196.9 729.6,1198.5 730,1199.3 730.4,1199.3 730.8,1198.5 731.3,1196.9 731.7,1194.5 732.1,1198.5 732.5,1198.4 732.9,1194.3 733.4,1195.2 733.8,1195.6 734.2,1195.5 734.6,1193 735.1,1191.9 735.5,1192.4 735.9,1193.4 736.3,1191.9 736.7,1187.8 737.2,1191.5 737.6,1191.4 738,1187.5 738.4,1187.7 738.8,1187.4 739.3,1186.6 739.7,1181.6 740.1,1177.4 740.5,1174.1 741,1173.6 741.4,1174 741.8,1175.2 742.2,1173.9 742.6,1170.9 743.1,1166.3 743.5,1164.4 743.9,1163.2 744.3,1162.4 744.8,1161.1 745.2,1160.9 745.6,1161.6 746,1162.1 746.4,1163.2 746.9,1166.2 747.3,1166.6 747.7,1169.1 748.1,1173.6 748.5,1173.4 749,1175.4 749.4,1179.7 749.8,1178.2 750.2,1178.7 750.7,1181 751.1,1183.8 751.5,1185 751.9,1184.6 752.3,1186.7 752.8,1186.7 753.2,1184.7 753.6,1185.2 754,1185.7 754.5,1186.1 754.9,1188.8 755.3,1189.7 755.7,1188.7 756.1,1192.4 756.6,1193.4 757,1191.6 757.4,1193.3 757.8,1194 758.2,1193.6 758.7,1194.5 759.1,1194.9 759.5,1194.9 759.9,1197.2 760.4,1198.4 760.8,1198.5 761.2,1196.4 761.6,1196.2 762,1198 762.5,1199.5 762.9,1200.6 763.3,1201.4 763.7,1199.6 764.2,1199 764.6,1199.6 765,1198.3 765.4,1198.3 765.8,1199.6 766.3,1199 766.7,1199.5 767.1,1201 767.5,1198.6 767.9,1198.4 768.4,1200.3 768.8,1200.6 769.2,1200.4 769.6,1199.7 770.1,1202.1 770.5,1201.8 770.9,1198.9 771.3,1200.7 771.7,1200.8 772.2,1199.3 772.6,1203.2 773,1205.2 773.4,1205.4 773.8,1205.2 774.3,1204.5 774.7,1203.4 775.1,1202.5 775.5,1202.1 776,1202.1 776.4,1203.1 776.8,1203 777.2,1201.7 777.6,1202.9 778.1,1202 778.5,1199.3 778.9,1200.1 779.3,1200.8 779.8,1201.2 780.2,1201 780.6,1200.4 781,1199.5 781.4,1200.5 781.9,1202.4 782.3,1205.3 782.7,1203 783.1,1202 783.5,1202.4 784,1200.4 784.4,1200.1 784.8,1201.5 785.2,1200.9 785.7,1202 786.1,1204.9 786.5,1201.5" fill="none" stroke="#ff00ff" stroke-width="1.9" stroke-linejoin="round"/>
<text transform="translate(351.8 747.8) rotate(-90)" font-size="26.8" textLength="79.7" lengthAdjust="spacingAndGlyphs">♣(101)</text>
<text transform="translate(442.8 1085.5) rotate(-90)" font-size="26.8" textLength="78.7" lengthAdjust="spacingAndGlyphs">♣(103)</text>
<text transform="translate(527.1 1064.8) rotate(-90)" font-size="26.8" textLength="78.7" lengthAdjust="spacingAndGlyphs">♣(200)</text>
<text transform="translate(575.1 1097.7) rotate(-90)" font-size="26.8" textLength="77.9" lengthAdjust="spacingAndGlyphs">♣(105)</text>
<text transform="translate(597.6 1099.4) rotate(-90)" font-size="26.8" textLength="78.1" lengthAdjust="spacingAndGlyphs">♣(211)</text>
<text transform="translate(646.4 1120.8) rotate(-90)" font-size="26.8" textLength="78.3" lengthAdjust="spacingAndGlyphs">♣(204)</text>
<text transform="translate(697.1 1168.8) rotate(-90)" font-size="26.8" textLength="78.1" lengthAdjust="spacingAndGlyphs">♣(116)</text>
<text transform="translate(718.7 1171.9) rotate(-90)" font-size="26.8" textLength="78.7" lengthAdjust="spacingAndGlyphs">♣(220)</text>
<text transform="translate(754.5 1154.8) rotate(-90)" font-size="26.8" textLength="78.7" lengthAdjust="spacingAndGlyphs">♣(215)</text>
<text x="729" y="739.5" font-size="54" font-weight="bold" fill="#ff0000">d</text>
<text x="606.5" y="801.6" font-size="30">♣</text>
<text x="629.2" y="801.6" font-size="30.3">Anatase</text>
<text x="606.5" y="845.4" font-size="30">♦</text>
<text x="626.9" y="845.4" font-size="30.2">Rotile</text>
</g>
<g id="pc">
<rect x="942.1" y="663" width="680.1" height="542" fill="none" stroke="#1c1c1c" stroke-width="1.6"/>
<path d="M943.8 1205v14M1028.6 1205v14M1113.3 1205v14M1198.1 1205v14M1282.9 1205v14M1367.7 1205v14M1452.5 1205v14M1537.2 1205v14M1622 1205v14M942.1 1205h-14M942.1 1084.6h-14M942.1 964.1h-14M942.1 843.7h-14M942.1 723.2h-14" stroke="#1c1c1c" stroke-width="1.6" fill="none"/>
<g font-size="41" text-anchor="end">
<text x="918.6" y="1216.7">0</text>
<text x="918.6" y="1096.3">200</text>
<text x="918.6" y="975.9">400</text>
<text x="918.6" y="855.4">600</text>
<text x="918.6" y="735">800</text>
</g>
<g font-size="44.5" text-anchor="middle">
<text x="943.8" y="1263">0</text>
<text x="1028.6" y="1263">10</text>
<text x="1113.3" y="1263">20</text>
<text x="1198.1" y="1263">30</text>
<text x="1282.9" y="1263">40</text>
<text x="1367.7" y="1263">50</text>
<text x="1452.5" y="1263">60</text>
<text x="1537.2" y="1263">70</text>
<text x="1622" y="1263">80</text>
</g>
<polyline points="965.8,1101.4 965.8,1165 965.9,1142.6 965.9,1105.3 966,1165.6 966.1,1093.9 966.1,1156.9 966.2,1097.8 966.2,1093.7 966.3,1097.7 966.4,1173.5 966.4,1146.4 966.5,1085.2 966.5,1124.6 966.6,1145.5 966.6,1119.8 966.7,1139.3 966.8,1130.9 966.8,1108.7 966.9,1142.4 966.9,1109.3 967,1111.4 967.1,1141.7 967.1,1143.4 967.2,1105.7 967.2,1155.3 967.3,1147.3 967.4,1117.8 967.4,1094 967.5,1133.9 967.5,1104.4 967.6,1090 967.7,1161.6 967.7,1103.3 967.8,1161 967.8,1114.3 967.9,1120.5 968,1114.7 968,1142 968.1,1153.9 968.1,1160.7 968.2,1104.5 968.2,1128 968.3,1133 968.4,1151.8 968.4,1107.4 968.5,1099.5 968.5,1140.5 968.6,1161.2 968.7,1144.1 968.7,1121.5 968.8,1150.2 968.8,1135.6 968.9,1124 969,1157.1 969,1145.5 969.1,1148.6 969.1,1084.8 969.2,1133.8 969.3,1128.2 969.3,1123 969.4,1129.5 969.4,1124.9 969.5,1130.5 969.6,1092.8 969.6,1164.5 969.7,1117.1 969.7,1133.2 969.8,1135.4 969.9,1132.1 969.9,1157.6 970,1125.5 970,1135.1 970.1,1142.2 970.1,1127.5 970.2,1105 970.3,1118.3 970.3,1165 970.4,1142.8 970.4,1127.2 970.5,1132.9 970.6,1130.2 970.6,1124.7 970.7,1104.7 970.7,1167 970.8,1125 970.9,1107.3 970.9,1123.6 971,1181.7 971,1121.4 971.1,1152.4 971.2,1126.6 971.2,1121.5 971.3,1116.2 971.3,1149 971.4,1113.8 971.5,1118.6 971.5,1117.1 971.6,1129.5 971.6,1145.9 971.7,1113.7 971.8,1151.5 971.8,1118.6 971.9,1169.4 971.9,1137 972,1123.4 972,1126.7 972.1,1114.8 972.2,1133.2 972.2,1125.4 972.3,1132.4 972.3,1117.3 972.4,1112.7 972.5,1126.6 972.5,1108.3 972.6,1116 972.6,1117.8 972.7,1119 972.8,1113.1 972.8,1109.8 972.9,1105.4 972.9,1109.1 973,1101.7 973.1,1100.1 973.1,1100.9 973.2,1100.4 973.2,1100.9 973.3,1097.5 973.4,1101.8 973.4,1106.7 973.5,1103.5 973.5,1111.5 973.6,1105.6 973.6,1112.4 973.7,1119.3 973.8,1119.4 973.8,1111.9 973.9,1118.8 973.9,1128.4 974,1109.2 974.1,1110 974.1,1122.1 974.2,1132.5 974.2,1126.7 974.3,1148 974.4,1131.4 974.4,1135.9 974.5,1171.1 974.5,1144 974.6,1144.6 974.7,1141.4 974.7,1128.2 974.8,1132.5 974.8,1141.5 974.9,1165.3 975,1126.1 975,1161.5 975.1,1154.3 975.1,1146.5 975.2,1163.6 975.3,1116.3 975.3,1142.6 975.4,1174.3 975.4,1176.3 975.5,1124.6 975.5,1169.4 975.6,1161 975.7,1135.2 975.7,1126.1 975.8,1144.7 975.8,1141.7 975.9,1153.6 976,1123.5 976,1183.7 976.1,1130.1 976.1,1146.4 976.2,1140.8 976.3,1127.4 976.3,1138.3 976.4,1161.8 976.4,1134.1 976.5,1152 976.6,1125.4 976.6,1147.2 976.7,1145 976.7,1153.2 976.8,1171.2 976.9,1145.3 976.9,1159 977,1177.3 977,1128.8 977.1,1171.8 977.2,1123.5 977.2,1170.9 977.3,1129 977.3,1147 977.4,1147.5 977.4,1133.9 977.5,1149.5 977.6,1160.2 977.6,1156.2 977.7,1145.7 977.7,1146.7 977.8,1146.2 977.9,1127.9 977.9,1130.2 978,1166.7 978,1146.3 978.1,1149.2 978.2,1164.4 978.2,1134.7 978.3,1142 978.3,1162.5 978.4,1123.2 978.5,1125.3 978.5,1126.8 978.6,1139.9 978.6,1147.7 978.7,1151.8 978.8,1124.8 978.8,1162.3 978.9,1152.9 978.9,1176 979,1103.5 979,1121.2 979.1,1128 979.2,1142.8 979.2,1124.7 979.3,1153.8 979.3,1172 979.4,1142.9 979.5,1145.6 979.5,1140.3 979.6,1151.3 979.6,1121.4 979.7,1161.2 979.8,1142.7 979.8,1167.2 979.9,1131.9 979.9,1160.1 980,1150.8 980.1,1141.6 980.1,1163 980.2,1132 980.2,1163.1 980.3,1137.7 980.4,1173.2 980.4,1148.7 980.5,1156.4 980.5,1162.2 980.6,1138.1 980.7,1157.9 980.7,1149.9 980.8,1149.6 980.8,1138.5 980.9,1159.9 980.9,1145.3 981,1151 981.1,1137.2 981.1,1156.3 981.2,1161.7 981.2,1158.6 981.3,1185.1 981.4,1168.3 981.4,1138 981.5,1163.2 981.5,1163.9 981.6,1145.3 981.7,1162.9 981.7,1160.2 981.8,1146.3 981.8,1178.1 981.9,1176.5 982,1164 982,1148.6 982.1,1165.6 982.1,1157.4 982.2,1161.2 982.3,1162.9 982.3,1153.2 982.4,1133 982.4,1161.9 982.5,1156 982.6,1178.8 982.6,1188.2 982.7,1182.2 982.7,1166.2 982.8,1162.8 982.8,1155.3 982.9,1166.1 983.1,1172.9 983.3,1155.1 983.4,1166 983.6,1175.4 983.7,1149.9 983.9,1161.3 984,1177.3 984.2,1181.3 984.3,1141.4 984.5,1165.9 984.6,1173.2 984.8,1173.5 984.9,1166.7 985.1,1155.8 985.2,1168.2 985.4,1160 985.5,1158.1 985.7,1145.4 985.8,1172.9 986,1149.7 986.2,1171.3 986.3,1169.4 986.5,1169.5 986.6,1161.2 986.8,1158.8 986.9,1160.9 987.1,1177.1 987.2,1179.5 987.4,1181.3 987.5,1151.2 987.7,1179.9 987.8,1153.2 988,1179.3 988.1,1169.8 988.3,1170.9 988.4,1171.5 988.6,1173 988.7,1179.5 988.9,1179.5 989.1,1174.2 989.2,1167.4 989.4,1143.3 989.5,1174.7 989.7,1162 989.8,1170 990,1179.4 990.1,1177.1 990.3,1163.7 990.4,1187.7 990.6,1160.9 990.7,1161.8 990.9,1157.8 991,1161.3 991.2,1160.7 991.3,1153.3 991.5,1174.1 991.6,1170.2 991.8,1173.7 992,1169.8 992.1,1170.8 992.3,1161.7 992.4,1159 992.6,1171.9 992.7,1162.3 992.9,1173.6 993,1182.5 993.2,1175.4 993.3,1160.8 993.5,1164.1 993.6,1168.9 993.8,1166 993.9,1160.9 994.1,1167.5 994.2,1168.2 994.4,1170.5 994.5,1162.8 994.7,1159.2 994.9,1169.8 995,1161.9 995.2,1168.2 995.3,1171.1 995.5,1162 995.6,1153.6 995.8,1160.4 995.9,1159.7 996.1,1154.5 996.2,1168.2 996.4,1163.5 996.5,1163 996.7,1148.1 996.8,1154.7 997,1156.6 997.1,1166.1 997.3,1168 997.4,1163 997.6,1159.8 997.8,1169.2 997.9,1159.1 998.1,1167 998.2,1154.5 998.4,1160.3 998.5,1169.6 998.7,1165.6 998.8,1162.3 999,1168.6 999.1,1187.1 999.3,1164.3 999.4,1180.3 999.6,1162.7 999.7,1175.7 999.9,1177 1000,1180.5 1000.2,1164.7 1000.3,1176.7 1000.5,1171.3 1000.7,1178.9 1000.8,1178.2 1001,1169 1001.1,1171.4 1001.3,1178.6 1001.4,1172.5 1001.6,1172.2 1001.7,1164.9 1001.9,1175.2 1002,1170.7 1002.2,1178.6 1002.3,1174.9 1002.5,1167 1002.6,1182.5 1002.8,1183.5 1002.9,1162.3 1003.1,1169.5 1003.2,1182.7 1003.4,1178.1 1003.5,1169.4 1003.7,1169.5 1003.9,1166.5 1004,1167.5 1004.2,1161.3 1004.3,1177.4 1004.5,1180.9 1004.6,1179.6 1004.8,1186.1 1004.9,1168 1005.1,1172.5 1005.2,1178.9 1005.4,1166 1005.5,1170.8 1005.7,1171 1005.8,1167.7 1006,1172.6 1006.1,1163.7 1006.3,1167.3 1006.4,1179.4 1006.6,1173.7 1006.8,1177.3 1006.9,1173.4 1007.1,1171 1007.2,1162.6 1007.4,1177.7 1007.5,1186.3 1007.7,1161.8 1007.8,1170.4 1008,1175.3 1008.1,1173.7 1008.3,1181.6 1008.4,1181.6 1008.6,1175.6 1008.7,1172.2 1008.9,1181.2 1009,1178.5 1009.2,1172.8 1009.3,1191 1009.5,1170.7 1009.7,1171.2 1009.8,1164.7 1010,1166.8 1010.1,1171.6 1010.3,1177.5 1010.4,1184.4 1010.6,1171 1010.7,1178.8 1010.9,1182.3 1011,1170.2 1011.2,1183.9 1011.3,1183.9 1011.5,1181.7 1011.6,1180.6 1011.8,1181.4 1011.9,1186.6 1012.1,1163.3 1012.2,1165.8 1012.4,1170.4 1012.6,1175.7 1012.7,1170.1 1012.9,1170.4 1013,1174.1 1013.2,1167 1013.3,1181 1013.5,1176.7 1013.6,1168.6 1013.8,1175.6 1013.9,1174.7 1014.1,1178.2 1014.2,1187.5 1014.4,1176.1 1014.5,1166.4 1014.7,1178 1014.8,1167.1 1015,1173.7 1015.1,1163 1015.3,1162.5 1015.5,1169.2 1015.6,1173.3 1015.8,1177.8 1015.9,1165.4 1016.1,1178.8 1016.2,1173.2 1016.4,1166.9 1016.5,1167.9 1016.7,1177 1016.8,1165.9 1017,1173.2 1017.1,1177 1017.3,1180.8 1017.4,1187.2 1017.6,1177.1 1017.7,1168.9 1017.9,1169 1018,1185.5 1018.2,1181.6 1018.4,1175.4 1018.5,1171.9 1018.7,1181.2 1018.8,1182 1019,1172.3 1019.1,1185.5 1019.3,1177.4 1019.4,1179.8 1019.6,1165.1 1019.7,1174 1019.9,1184.4 1020,1168.3 1020.2,1171.7 1020.3,1174.2 1020.5,1171.8 1020.6,1172.7 1020.8,1167.6 1020.9,1169.6 1021.1,1171.1 1021.3,1169.9 1021.4,1166.4 1021.6,1173.5 1021.7,1176.1 1021.9,1183 1022,1171.3 1022.2,1173.4 1022.3,1177.9 1022.5,1177.5 1022.6,1172 1022.8,1172.4 1022.9,1161.7 1023.1,1181.4 1023.2,1172.1 1023.4,1176 1023.5,1179.4 1023.7,1183.5 1023.8,1167 1024,1164.3 1024.1,1171.5 1024.3,1179.8 1024.5,1169.2 1024.6,1176 1024.8,1177.5 1024.9,1174.8 1025.1,1175 1025.2,1170.4 1025.4,1173.5 1025.5,1174 1025.7,1181 1025.8,1175.2 1026,1175.6 1026.1,1169 1026.3,1176.8 1026.4,1183.4 1026.6,1165.2 1026.7,1173.9 1026.9,1160.5 1027,1176.4 1027.2,1174 1027.4,1178.7 1027.5,1178 1027.7,1169.8 1027.8,1181.3 1028,1178.1 1028.1,1165.6 1028.3,1172.5 1028.4,1172.8 1028.6,1174.2 1028.7,1162.9 1028.9,1165 1029,1172.9 1029.2,1165.7 1029.3,1171.8 1029.5,1168.3 1029.6,1176 1029.8,1174.9 1029.9,1173.6 1030.1,1167.8 1030.3,1162.7 1030.4,1162.6 1030.6,1163 1030.7,1169.4 1030.9,1162.5 1031,1160.7 1031.2,1168.8 1031.3,1157.8 1031.5,1153.4 1031.6,1159.8 1031.8,1156.8 1031.9,1159.3 1032.1,1164.3 1032.2,1153.9 1032.4,1153.4 1032.5,1157.2 1032.7,1159.1 1032.8,1150.9 1033,1149.6 1033.2,1145.2 1033.3,1153.5 1033.5,1151.5 1033.6,1143.3 1033.8,1162.4 1033.9,1150.5 1034.1,1152.1 1034.2,1152.1 1034.4,1138.4 1034.5,1138 1034.7,1148.9 1034.8,1144.6 1035,1150.8 1035.1,1142.6 1035.3,1131.8 1035.4,1130.2 1035.6,1136.3 1035.7,1127.9 1035.9,1128.4 1036.1,1129.8 1036.2,1127.9 1036.4,1127.8 1036.5,1129.1 1036.7,1130.7 1036.8,1130.5 1037,1131.7 1037.1,1133.6 1037.3,1140.8 1037.4,1138.4 1037.6,1145.7 1037.7,1142.5 1037.9,1148.7 1038,1149.4 1038.2,1144.3 1038.3,1155.1 1038.5,1154 1038.6,1154.8 1038.8,1153.9 1039,1167.5 1039.1,1161.9 1039.3,1172.4 1039.4,1167.6 1039.6,1162.7 1039.7,1163.7 1039.9,1177.4 1040,1166.3 1040.2,1166.9 1040.3,1165.3 1040.5,1175.1 1040.6,1167.7 1040.8,1167 1040.9,1171.3 1041.1,1158.2 1041.2,1168.5 1041.4,1165.4 1041.5,1175.3 1041.7,1166.6 1041.9,1173.3 1042,1170.5 1042.2,1169.3 1042.3,1169.2 1042.5,1178.2 1042.6,1175.3 1042.8,1182.4 1042.9,1173.7 1043.1,1180.8 1043.2,1181.4 1043.4,1183.2 1043.5,1174.7 1043.7,1174.3 1043.8,1172 1044,1177.9 1044.1,1175.9 1044.3,1177 1044.4,1175.8 1044.6,1174.3 1044.8,1174.3 1044.9,1184.6 1045.1,1179.4 1045.2,1182.6 1045.4,1174.5 1045.5,1181.6 1045.7,1186.1 1045.8,1179.7 1046,1172.8 1046.1,1178.6 1046.3,1187.8 1046.4,1170.3 1046.6,1183.7 1046.7,1174 1046.9,1183.2 1047,1182.2 1047.2,1174.3 1047.3,1178.6 1047.5,1181.1 1047.6,1173.2 1047.8,1166.2 1048,1170.6 1048.1,1173.8 1048.3,1172.5 1048.4,1180.7 1048.6,1168.8 1048.7,1178.8 1048.9,1183.8 1049,1174.2 1049.2,1181.7 1049.3,1181.4 1049.5,1179.1 1049.6,1178.8 1049.8,1181.6 1049.9,1179.3 1050.1,1190.8 1050.2,1172.9 1050.4,1165.2 1050.5,1183.1 1050.7,1171.2 1050.9,1173.7 1051,1174.9 1051.2,1173.3 1051.3,1182.1 1051.5,1181.2 1051.6,1179.1 1051.8,1182.7 1051.9,1175 1052.1,1179.7 1052.2,1183.9 1052.4,1174.6 1052.5,1179.9 1052.7,1174.9 1052.8,1170 1053,1183.7 1053.1,1166.3 1053.3,1185.6 1053.4,1183.1 1053.6,1176.6 1053.8,1172.3 1053.9,1175.1 1054.1,1180.3 1054.2,1177.8 1054.4,1169.2 1054.5,1169.5 1054.7,1171.1 1054.8,1187.1 1055,1187.7 1055.1,1169.5 1055.3,1175.8 1055.4,1175.6 1055.6,1175.5 1055.7,1176.1 1055.9,1171 1056,1180.3 1056.2,1182 1056.3,1175.7 1056.5,1185.8 1056.7,1178.3 1056.8,1171 1057,1178.4 1057.1,1177.3 1057.3,1172.1 1057.4,1171.8 1057.6,1173.2 1057.7,1182.1 1057.9,1168.2 1058,1183.8 1058.2,1186.1 1058.3,1177.2 1058.5,1176.6 1058.6,1172.8 1058.8,1181.2 1058.9,1185.9 1059.1,1179.6 1059.2,1165.8 1059.4,1167.1 1059.6,1176.8 1059.7,1167.4 1059.9,1169.2 1060,1178.1 1060.2,1180.5 1060.3,1174.3 1060.5,1182.7 1060.6,1176.7 1060.8,1182.4 1060.9,1178.6 1061.1,1169.8 1061.2,1176.7 1061.4,1180.1 1061.5,1177.5 1061.7,1169.9 1061.8,1181.3 1062,1179 1062.1,1182.7 1062.3,1183.2 1062.5,1176.3 1062.6,1174.4 1062.8,1179 1062.9,1167.8 1063.1,1178.5 1063.2,1185.8 1063.4,1176.8 1063.5,1181.1 1063.7,1178.5 1063.8,1175.5 1064,1176.3 1064.1,1167.5 1064.3,1177.8 1064.4,1173.8 1064.6,1179 1064.7,1175.1 1064.9,1171.3 1065,1169 1065.2,1173.9 1065.4,1179.5 1065.5,1170.7 1065.7,1176.2 1065.8,1170.3 1066,1168.8 1066.1,1171.3 1066.3,1187.3 1066.4,1186.3 1066.6,1181.2 1066.7,1181.8 1066.9,1180.3 1067,1181 1067.2,1174.7 1067.3,1175.3 1067.5,1170.2 1067.6,1185 1067.8,1178.8 1067.9,1181.6 1068.1,1172.4 1068.2,1178.4 1068.4,1172.8 1068.6,1172.7 1068.7,1178.8 1068.9,1178 1069,1181 1069.2,1180.2 1069.3,1176.8 1069.5,1180.5 1069.6,1180.9 1069.8,1180.8 1069.9,1171.7 1070.1,1183.4 1070.2,1181.1 1070.4,1178 1070.5,1174.4 1070.7,1171.2 1070.8,1175.5 1071,1174 1071.1,1189 1071.3,1176.9 1071.5,1176.4 1071.6,1171.1 1071.8,1182.2 1071.9,1176 1072.1,1189.3 1072.2,1181.2 1072.4,1180 1072.5,1191.4 1072.7,1174.9 1072.8,1181 1073,1175.5 1073.1,1182.6 1073.3,1182.1 1073.4,1176.3 1073.6,1191.3 1073.7,1176.4 1073.9,1176.9 1074,1186.8 1074.2,1179.6 1074.4,1171.5 1074.5,1175.5 1074.7,1182.8 1074.8,1175.2 1075,1177.4 1075.1,1168.1 1075.3,1186.1 1075.4,1186.3 1075.6,1176.9 1075.7,1171.2 1075.9,1187.1 1076,1175.7 1076.2,1178.1 1076.3,1176.9 1076.5,1175.3 1076.6,1177.7 1076.8,1170.3 1076.9,1173.1 1077.1,1180.6 1077.3,1182.5 1077.4,1180.3 1077.6,1178.8 1077.7,1178.6 1077.9,1168.7 1078,1173.2 1078.2,1170.9 1078.3,1176.3 1078.5,1182.9 1078.6,1187.1 1078.8,1177.1 1078.9,1175.8 1079.1,1170.2 1079.2,1180.1 1079.4,1179.1 1079.5,1176.3 1079.7,1171.3 1079.8,1180.3 1080,1176.8 1080.2,1188.3 1080.3,1182.5 1080.5,1179.3 1080.6,1182.8 1080.8,1180.9 1080.9,1175.7 1081.1,1175.9 1081.2,1179.3 1081.4,1170.4 1081.5,1179.6 1081.7,1169.8 1081.8,1180.9 1082,1184.4 1082.1,1174.4 1082.3,1182.1 1082.4,1175.4 1082.6,1172.1 1082.7,1180.2 1082.9,1184.9 1083.1,1166.7 1083.2,1174.2 1083.4,1181.2 1083.5,1169.3 1083.7,1173.4 1083.8,1182.3 1084,1175.1 1084.1,1165.9 1084.3,1177.6 1084.4,1173.3 1084.6,1168.1 1084.7,1177.9 1084.9,1180.4 1085,1177.9 1085.2,1175.2 1085.3,1173 1085.5,1176.9 1085.6,1168.2 1085.8,1179.4 1086,1182.4 1086.1,1171.3 1086.3,1177.3 1086.4,1178.7 1086.6,1186.5 1086.7,1171.6 1086.9,1182.7 1087,1186.2 1087.2,1186 1087.3,1181.6 1087.5,1178.4 1087.6,1188.4 1087.8,1182.7 1087.9,1178.8 1088.1,1182.7 1088.2,1183.3 1088.4,1184.6 1088.5,1164.9 1088.7,1180 1088.9,1165.9 1089,1169.4 1089.2,1186.1 1089.3,1174.7 1089.5,1176.2 1089.6,1180.8 1089.8,1178.4 1089.9,1177.5 1090.1,1167.8 1090.2,1171.2 1090.4,1168.8 1090.5,1179 1090.7,1167.7 1090.8,1177.5 1091,1172.7 1091.1,1169.6 1091.3,1162.2 1091.4,1182.6 1091.6,1181.5 1091.7,1176 1091.9,1185.4 1092.1,1166.2 1092.2,1180.3 1092.4,1175.8 1092.5,1177 1092.7,1176.3 1092.8,1163.9 1093,1181.6 1093.1,1178.5 1093.3,1177.5 1093.4,1176.4 1093.6,1171.1 1093.7,1172.5 1093.9,1180.1 1094,1175.4 1094.2,1174.4 1094.3,1183 1094.5,1178.8 1094.6,1173.3 1094.8,1165.6 1095,1176.5 1095.1,1167.4 1095.3,1175.8 1095.4,1171.6 1095.6,1175.9 1095.7,1171.7 1095.9,1160.2 1096,1167.2 1096.2,1157.5 1096.3,1163.2 1096.5,1167.3 1096.6,1172 1096.8,1165.3 1096.9,1173.8 1097.1,1156.9 1097.2,1162.5 1097.4,1156 1097.5,1149.6 1097.7,1153.2 1097.9,1140.8 1098,1144.1 1098.2,1140.7 1098.3,1139 1098.5,1142.4 1098.6,1134.5 1098.8,1132.1 1098.9,1131.4 1099.1,1129.7 1099.2,1129.5 1099.4,1130.4 1099.5,1134.3 1099.7,1136.8 1099.8,1137 1100,1145.8 1100.1,1141 1100.3,1150.7 1100.4,1154.1 1100.6,1152.5 1100.8,1164.8 1100.9,1159.2 1101.1,1171.8 1101.2,1160.7 1101.4,1158.4 1101.5,1158.3 1101.7,1166.3 1101.8,1157.7 1102,1174.4 1102.1,1169 1102.3,1173 1102.4,1162.6 1102.6,1179.7 1102.7,1162.9 1102.9,1163.2 1103,1159.6 1103.2,1163 1103.3,1161.3 1103.5,1166.5 1103.7,1171.9 1103.8,1174 1104,1169 1104.1,1165.8 1104.3,1178.9 1104.4,1170.9 1104.6,1167.2 1104.7,1166.4 1104.9,1164.4 1105,1172.6 1105.2,1162.8 1105.3,1175.9 1105.5,1159.1 1105.6,1169.6 1105.8,1178.3 1105.9,1177.3 1106.1,1168.6 1106.2,1163.9 1106.4,1161.7 1106.6,1166.2 1106.7,1167.3 1106.9,1173.7 1107,1165 1107.2,1166.9 1107.3,1172.6 1107.5,1166.3 1107.6,1159.8 1107.8,1172.7 1107.9,1165 1108.1,1180.3 1108.2,1174.2 1108.4,1178.1 1108.5,1163.9 1108.7,1172.4 1108.8,1178 1109,1175.7 1109.1,1175.7 1109.3,1184.4 1109.5,1162.7 1109.6,1167.9 1109.8,1181.2 1109.9,1169.3 1110.1,1171.3 1110.2,1187 1110.4,1177.5 1110.5,1172.9 1110.7,1182.9 1110.8,1180.2 1111,1174.4 1111.1,1165.4 1111.3,1177.5 1111.4,1162.8 1111.6,1179.4 1111.7,1167.7 1111.9,1178.9 1112,1178.6 1112.2,1167.6 1112.3,1172.4 1112.5,1182.4 1112.7,1174.4 1112.8,1171.7 1113,1173.6 1113.1,1182.3 1113.3,1167.9 1113.4,1166.1 1113.6,1172.3 1113.7,1165.8 1113.9,1172.4 1114,1175.8 1114.2,1165.9 1114.3,1160.4 1114.5,1173.6 1114.6,1163.6 1114.8,1170.8 1114.9,1161.1 1115.1,1166.3 1115.2,1152.3 1115.4,1166.9 1115.6,1163.4 1115.7,1170.4 1115.9,1158.4 1116,1163.9 1116.2,1164.2 1116.3,1166.9 1116.5,1168.1 1116.6,1167.8 1116.8,1172.4 1116.9,1162.5 1117.1,1166 1117.2,1176 1117.4,1173.6 1117.5,1175.6 1117.7,1163.9 1117.8,1169.6 1118,1173.6 1118.1,1169.9 1118.3,1169.5 1118.5,1168.9 1118.6,1184.5 1118.8,1163.1 1118.9,1179 1119.1,1181 1119.2,1179.5 1119.4,1169.8 1119.5,1172.1 1119.7,1178.6 1119.8,1174.3 1120,1170.9 1120.1,1172.1 1120.3,1182.8 1120.4,1176.5 1120.6,1174.3 1120.7,1174 1120.9,1173.2 1121,1168.6 1121.2,1176.3 1121.4,1173 1121.5,1178.7 1121.7,1185.8 1121.8,1178.3 1122,1178.3 1122.1,1176 1122.3,1168.9 1122.4,1168.7 1122.6,1183.5 1122.7,1182.2 1122.9,1168.8 1123,1169.8 1123.2,1182.3 1123.3,1174.1 1123.5,1173.4 1123.6,1183.7 1123.8,1174.6 1123.9,1172.4 1124.1,1167.9 1124.3,1169.2 1124.4,1175.3 1124.6,1175.4 1124.7,1175 1124.9,1174.6 1125,1167.6 1125.2,1177.4 1125.3,1172.9 1125.5,1182.1 1125.6,1183.2 1125.8,1175.4 1125.9,1170.8 1126.1,1171 1126.2,1184.7 1126.4,1169.3 1126.5,1173.6 1126.7,1165.4 1126.8,1177 1127,1184.4 1127.2,1172 1127.3,1176.7 1127.5,1165.4 1127.6,1180.6 1127.8,1175.8 1127.9,1176.5 1128.1,1160 1128.2,1170 1128.4,1183 1128.5,1180 1128.7,1175.9 1128.8,1176.2 1129,1175.4 1129.1,1180 1129.3,1176.8 1129.4,1177.3 1129.6,1170.2 1129.7,1178.4 1129.9,1180.6 1130.1,1175.5 1130.2,1169.9 1130.4,1172.3 1130.5,1181.9 1130.7,1172.7 1130.8,1170.6 1131,1182.6 1131.1,1172.2 1131.3,1173.1 1131.4,1185.9 1131.6,1166.2 1131.7,1168.3 1131.9,1173.2 1132,1180.9 1132.2,1171.4 1132.3,1171.8 1132.5,1171.3 1132.6,1170.6 1132.8,1174 1132.9,1177.2 1133.1,1175.9 1133.3,1170.3 1133.4,1180.3 1133.6,1168.8 1133.7,1175.3 1133.9,1171.1 1134,1166.8 1134.2,1180.3 1134.3,1171.7 1134.5,1186.6 1134.6,1167.4 1134.8,1182.6 1134.9,1181.7 1135.1,1183.9 1135.2,1173 1135.4,1172 1135.5,1172.3 1135.7,1174 1135.8,1179.7 1136,1168 1136.2,1167.9 1136.3,1168.9 1136.5,1172.5 1136.6,1172 1136.8,1171.6 1136.9,1172.4 1137.1,1180.3 1137.2,1165.8 1137.4,1174.7 1137.5,1184.1 1137.7,1171.3 1137.8,1174.2 1138,1175.8 1138.1,1172.6 1138.3,1171.8 1138.4,1174.8 1138.6,1170.1 1138.7,1170.1 1138.9,1168.5 1139.1,1177.7 1139.2,1168.1 1139.4,1172.6 1139.5,1170.9 1139.7,1174.9 1139.8,1170.7 1140,1172.6 1140.1,1170.8 1140.3,1186.9 1140.4,1169.6 1140.6,1171 1140.7,1170.1 1140.9,1175.4 1141,1182.6 1141.2,1183.9 1141.3,1167.9 1141.5,1166.8 1141.6,1175.8 1141.8,1172.7 1142,1185.9 1142.1,1166.5 1142.3,1173 1142.4,1173.6 1142.6,1177.7 1142.7,1180.4 1142.9,1174.7 1143,1174.1 1143.2,1182.2 1143.3,1172.5 1143.5,1175.1 1143.6,1181.3 1143.8,1173.1 1143.9,1181.6 1144.1,1175.4 1144.2,1180.2 1144.4,1166.2 1144.5,1168.7 1144.7,1173.1 1144.9,1162.1 1145,1173.9 1145.2,1176.6 1145.3,1182.5 1145.5,1178.7 1145.6,1176.7 1145.8,1173.3 1145.9,1176.4 1146.1,1168.2 1146.2,1178.8 1146.4,1175.9 1146.5,1175.7 1146.7,1173.8 1146.8,1173 1147,1174.5 1147.1,1183.8 1147.3,1179.2 1147.4,1177.9 1147.6,1175 1147.8,1178.1 1147.9,1169.2 1148.1,1172.6 1148.2,1171.5 1148.4,1178.3 1148.5,1174.1 1148.7,1183.1 1148.8,1180.5 1149,1177.3 1149.1,1172.2 1149.3,1171.7 1149.4,1169.6 1149.6,1173.3 1149.7,1168.1 1149.9,1171.9 1150,1167.1 1150.2,1185.1 1150.3,1177 1150.5,1170.1 1150.7,1176.3 1150.8,1169.5 1151,1165.2 1151.1,1171.3 1151.3,1168.7 1151.4,1173.6 1151.6,1183.7 1151.7,1181.9 1151.9,1168.1 1152,1175.4 1152.2,1165.4 1152.3,1176.1 1152.5,1179.8 1152.6,1173 1152.8,1169.9 1152.9,1179.1 1153.1,1172.5 1153.2,1181.1 1153.4,1169.8 1153.6,1166.6 1153.7,1172.5 1153.9,1170 1154,1177 1154.2,1170.1 1154.3,1170.5 1154.5,1183 1154.6,1172.4 1154.8,1173.7 1154.9,1169 1155.1,1174.9 1155.2,1170.8 1155.4,1173.8 1155.5,1175.2 1155.7,1177.5 1155.8,1175.8 1156,1171.7 1156.1,1176.7 1156.3,1175.1 1156.4,1174.7 1156.6,1167.5 1156.8,1178.8 1156.9,1177.5 1157.1,1180.7 1157.2,1173.2 1157.4,1174.5 1157.5,1169.6 1157.7,1170.3 1157.8,1164.8 1158,1169.8 1158.1,1173.8 1158.3,1170.9 1158.4,1180.2 1158.6,1175.1 1158.7,1179.2 1158.9,1186.6 1159,1168 1159.2,1178.3 1159.3,1185.1 1159.5,1183.1 1159.7,1182.8 1159.8,1175.7 1160,1170.9 1160.1,1173.7 1160.3,1163.7 1160.4,1185.4 1160.6,1177.6 1160.7,1187.8 1160.9,1174.1 1161,1181.6 1161.2,1167.9 1161.3,1177.2 1161.5,1168.2 1161.6,1174.9 1161.8,1178.9 1161.9,1170.8 1162.1,1178.3 1162.2,1171.4 1162.4,1166.5 1162.6,1176 1162.7,1175.5 1162.9,1169.7 1163,1182.8 1163.2,1168.1 1163.3,1172.5 1163.5,1175.7 1163.6,1166.7 1163.8,1174.4 1163.9,1176.6 1164.1,1174 1164.2,1179.4 1164.4,1178.4 1164.5,1169.7 1164.7,1174.4 1164.8,1172.3 1165,1177 1165.1,1172.5 1165.3,1174.7 1165.5,1177.1 1165.6,1178.1 1165.8,1171.6 1165.9,1165 1166.1,1174.2 1166.2,1180.3 1166.4,1167.5 1166.5,1178 1166.7,1168.3 1166.8,1172.9 1167,1173.2 1167.1,1175 1167.3,1181.4 1167.4,1176.5 1167.6,1182.3 1167.7,1168.1 1167.9,1176.3 1168,1183.2 1168.2,1165.7 1168.4,1174.9 1168.5,1170.4 1168.7,1182.7 1168.8,1169.3 1169,1178.7 1169.1,1177.9 1169.3,1183.8 1169.4,1172.2 1169.6,1169.5 1169.7,1179.7 1169.9,1170.3 1170,1174.9 1170.2,1171.8 1170.3,1183 1170.5,1170 1170.6,1166 1170.8,1181.4 1170.9,1171.3 1171.1,1164.2 1171.3,1165.1 1171.4,1181.3 1171.6,1180.4 1171.7,1168 1171.9,1174.3 1172,1165.9 1172.2,1175.5 1172.3,1176.1 1172.5,1169.7 1172.6,1170.4 1172.8,1178.6 1172.9,1182.8 1173.1,1180.2 1173.2,1177.9 1173.4,1168.7 1173.5,1172 1173.7,1181.4 1173.8,1183.7 1174,1182 1174.2,1171 1174.3,1176.7 1174.5,1171.9 1174.6,1167.6 1174.8,1168.8 1174.9,1167.5 1175.1,1176.4 1175.2,1174.8 1175.4,1171.4 1175.5,1180 1175.7,1168.9 1175.8,1172 1176,1171.1 1176.1,1174.9 1176.3,1186.1 1176.4,1176.6 1176.6,1182.8 1176.7,1164.9 1176.9,1169.9 1177,1175.1 1177.2,1164.4 1177.4,1177.7 1177.5,1180.4 1177.7,1182.1 1177.8,1169.1 1178,1169.5 1178.1,1169.9 1178.3,1173.6 1178.4,1171.3 1178.6,1160.3 1178.7,1178.7 1178.9,1173.8 1179,1176.8 1179.2,1165.1 1179.3,1170.5 1179.5,1169.3 1179.6,1173.6 1179.8,1166.2 1179.9,1178.1 1180.1,1174.8 1180.3,1173.4 1180.4,1174.4 1180.6,1167.5 1180.7,1179.6 1180.9,1182.5 1181,1171 1181.2,1181.9 1181.3,1172.9 1181.5,1166.5 1181.6,1182.4 1181.8,1182.1 1181.9,1174.2 1182.1,1174.5 1182.2,1180.8 1182.4,1169.7 1182.5,1179.4 1182.7,1175.3 1182.8,1177.5 1183,1178.2 1183.2,1166.2 1183.3,1185.3 1183.5,1170 1183.6,1186.1 1183.8,1180 1183.9,1170.9 1184.1,1181.9 1184.2,1185.6 1184.4,1173.9 1184.5,1177 1184.7,1172.8 1184.8,1170.8 1185,1176.2 1185.1,1178.4 1185.3,1186.2 1185.4,1170.3 1185.6,1176.7 1185.7,1164.1 1185.9,1176.4 1186.1,1172.8 1186.2,1175.5 1186.4,1169.1 1186.5,1185 1186.7,1175.8 1186.8,1178.5 1187,1160.6 1187.1,1166.3 1187.3,1175.7 1187.4,1187.1 1187.6,1177.2 1187.7,1181.6 1187.9,1168.3 1188,1179.6 1188.2,1180.6 1188.3,1173.4 1188.5,1177.2 1188.6,1174.6 1188.8,1168.5 1189,1172.5 1189.1,1178.3 1189.3,1175.1 1189.4,1171.8 1189.6,1169.3 1189.7,1168 1189.9,1170.1 1190,1180.8 1190.2,1163.6 1190.3,1172 1190.5,1176.9 1190.6,1176.6 1190.8,1172.4 1190.9,1176.8 1191.1,1181.6 1191.2,1164.8 1191.4,1166.4 1191.5,1175.6 1191.7,1174.9 1191.9,1176.5 1192,1176 1192.2,1172.6 1192.3,1170.3 1192.5,1169.9 1192.6,1170.5 1192.8,1167.9 1192.9,1173.8 1193.1,1173.3 1193.2,1163.3 1193.4,1173.6 1193.5,1178.7 1193.7,1166.2 1193.8,1164.4 1194,1165.8 1194.1,1161.4 1194.3,1172.5 1194.4,1160.6 1194.6,1159.5 1194.8,1167.5 1194.9,1156.5 1195.1,1167.2 1195.2,1157.5 1195.4,1161 1195.5,1161.2 1195.7,1162 1195.8,1155.4 1196,1149.5 1196.1,1155 1196.3,1140.1 1196.4,1147.5 1196.6,1146.9 1196.7,1151 1196.9,1146.9 1197,1136.2 1197.2,1133.1 1197.3,1136.6 1197.5,1134.9 1197.7,1124.1 1197.8,1127.3 1198,1112 1198.1,1106.6 1198.3,1099.8 1198.4,1094.2 1198.6,1090.9 1198.7,1072.5 1198.9,1067.6 1199,1054.6 1199.2,1053.8 1199.3,1044.2 1199.5,1038 1199.6,1032.3 1199.8,1031 1199.9,1031.4 1200.1,1035.1 1200.2,1038.7 1200.4,1045.6 1200.5,1057.1 1200.7,1065.5 1200.9,1069.1 1201,1073.4 1201.2,1085.3 1201.3,1095.9 1201.5,1103.4 1201.6,1117.4 1201.8,1117.8 1201.9,1129.1 1202.1,1124.6 1202.2,1133.5 1202.4,1142.2 1202.5,1138.1 1202.7,1149.5 1202.8,1142.2 1203,1148.8 1203.1,1149.4 1203.3,1147.7 1203.4,1143.8 1203.6,1151.8 1203.8,1156.3 1203.9,1146.4 1204.1,1151.3 1204.2,1163.2 1204.4,1168.6 1204.5,1157.4 1204.7,1162.6 1204.8,1155.2 1205,1166.2 1205.1,1157.3 1205.3,1154.2 1205.4,1167.2 1205.6,1163 1205.7,1164.2 1205.9,1174.9 1206,1171.1 1206.2,1177.9 1206.3,1165.8 1206.5,1171.9 1206.7,1174.3 1206.8,1174.2 1207,1159.5 1207.1,1170.6 1207.3,1174.9 1207.4,1163.8 1207.6,1171.6 1207.7,1175 1207.9,1166.3 1208,1163 1208.2,1170.9 1208.3,1171 1208.5,1173.5 1208.6,1179 1208.8,1174.1 1208.9,1171.9 1209.1,1173.4 1209.2,1174.7 1209.4,1176.7 1209.6,1176.1 1209.7,1183.4 1209.9,1178.7 1210,1180.2 1210.2,1171.5 1210.3,1178.8 1210.5,1174 1210.6,1175.1 1210.8,1170.6 1210.9,1174.6 1211.1,1171.9 1211.2,1164.8 1211.4,1174 1211.5,1174 1211.7,1170.2 1211.8,1173.9 1212,1178.9 1212.1,1175.7 1212.3,1177.7 1212.5,1180.3 1212.6,1171.5 1212.8,1169.7 1212.9,1180.4 1213.1,1178.4 1213.2,1168.6 1213.4,1182 1213.5,1169.3 1213.7,1177.8 1213.8,1177.7 1214,1178.5 1214.1,1180.7 1214.3,1185.1 1214.4,1174.7 1214.6,1168.3 1214.7,1177.6 1214.9,1178.7 1215,1181.6 1215.2,1178.6 1215.4,1167.9 1215.5,1175.5 1215.7,1179.1 1215.8,1168 1216,1184.4 1216.1,1176.7 1216.3,1177.5 1216.4,1174.4 1216.6,1173.5 1216.7,1183.7 1216.9,1176.6 1217,1179.7 1217.2,1169.8 1217.3,1175.2 1217.5,1176.1 1217.6,1169.8 1217.8,1166.3 1217.9,1173.2 1218.1,1174.5 1218.3,1177.4 1218.4,1167.5 1218.6,1179.1 1218.7,1178.5 1218.9,1176.1 1219,1180.4 1219.2,1174.1 1219.3,1177.1 1219.5,1175.7 1219.6,1171.7 1219.8,1173.9 1219.9,1176.4 1220.1,1175.1 1220.2,1174.3 1220.4,1172.3 1220.5,1172.1 1220.7,1178.4 1220.8,1177.4 1221,1165.5 1221.1,1181.8 1221.3,1170 1221.5,1168 1221.6,1171 1221.8,1168.4 1221.9,1176 1222.1,1172 1222.2,1176.2 1222.4,1169.2 1222.5,1180.7 1222.7,1165.5 1222.8,1170.5 1223,1174.6 1223.1,1177.4 1223.3,1173.9 1223.4,1167.1 1223.6,1173.7 1223.7,1178 1223.9,1176.6 1224,1180.6 1224.2,1177.5 1224.4,1178.6 1224.5,1166.1 1224.7,1173.1 1224.8,1160.1 1225,1174.7 1225.1,1166.6 1225.3,1178.7 1225.4,1172.9 1225.6,1180.4 1225.7,1163.6 1225.9,1174.6 1226,1182.9 1226.2,1164 1226.3,1172.4 1226.5,1159.8 1226.6,1171.6 1226.8,1173 1226.9,1177.5 1227.1,1173.1 1227.3,1175.4 1227.4,1177.3 1227.6,1171.7 1227.7,1170.6 1227.9,1173.3 1228,1178.9 1228.2,1174.2 1228.3,1166.3 1228.5,1166.6 1228.6,1166.7 1228.8,1171.1 1228.9,1166.5 1229.1,1166.5 1229.2,1168.8 1229.4,1162.2 1229.5,1163 1229.7,1170 1229.8,1170.8 1230,1170.2 1230.2,1171.7 1230.3,1171.2 1230.5,1172.4 1230.6,1166 1230.8,1169.7 1230.9,1165.5 1231.1,1168 1231.2,1174.2 1231.4,1173.9 1231.5,1170.3 1231.7,1179.3 1231.8,1161.5 1232,1171.1 1232.1,1155.9 1232.3,1169.6 1232.4,1178.6 1232.6,1167.1 1232.7,1175.1 1232.9,1160.1 1233.1,1173.3 1233.2,1172.4 1233.4,1166.1 1233.5,1171.7 1233.7,1171.6 1233.8,1163.7 1234,1162.7 1234.1,1169.5 1234.3,1161.1 1234.4,1174.2 1234.6,1168.2 1234.7,1160.4 1234.9,1168.1 1235,1162.3 1235.2,1161.8 1235.3,1161.4 1235.5,1172.6 1235.6,1159 1235.8,1154.7 1236,1162.4 1236.1,1159.6 1236.3,1153.3 1236.4,1168 1236.6,1166.2 1236.7,1164.4 1236.9,1153.6 1237,1161.8 1237.2,1162.3 1237.3,1158 1237.5,1151.5 1237.6,1163.3 1237.8,1151.5 1237.9,1154.9 1238.1,1150.6 1238.2,1155.4 1238.4,1151.1 1238.5,1150.9 1238.7,1149.8 1238.9,1145.7 1239,1142.1 1239.2,1140.9 1239.3,1126.5 1239.5,1138.1 1239.6,1139.3 1239.8,1138.8 1239.9,1132.5 1240.1,1133.5 1240.2,1130 1240.4,1128.9 1240.5,1120.4 1240.7,1115.1 1240.8,1117.9 1241,1105.7 1241.1,1108.4 1241.3,1109.3 1241.4,1107.7 1241.6,1091.7 1241.8,1080.4 1241.9,1081.7 1242.1,1072.2 1242.2,1057.5 1242.4,1052.1 1242.5,1047.1 1242.7,1031 1242.8,1016.7 1243,1016.8 1243.1,1000.9 1243.3,980 1243.4,973.3 1243.6,951.8 1243.7,929.8 1243.9,907.6 1244,890.8 1244.2,858.4 1244.3,829.5 1244.5,806.7 1244.6,777.6 1244.8,753.9 1245,735.5 1245.1,718.8 1245.3,707.2 1245.4,702.9 1245.6,705.8 1245.7,715.7 1245.9,730.2 1246,751.4 1246.2,775.5 1246.3,796.8 1246.5,827.3 1246.6,858.1 1246.8,882.4 1246.9,897.6 1247.1,925.3 1247.2,946.2 1247.4,958.9 1247.5,987.7 1247.7,996.8 1247.9,1007.4 1248,1023.2 1248.2,1048.7 1248.3,1049.2 1248.5,1052 1248.6,1064.7 1248.8,1078.8 1248.9,1071.1 1249.1,1093.7 1249.2,1094.1 1249.4,1099.5 1249.5,1097.9 1249.7,1098.2 1249.8,1102.9 1250,1116.8 1250.1,1115 1250.3,1109.8 1250.4,1130.1 1250.6,1122.4 1250.8,1125.4 1250.9,1126.2 1251.1,1131.6 1251.2,1138.9 1251.4,1131.9 1251.5,1128.5 1251.7,1141.2 1251.8,1142.5 1252,1143.5 1252.1,1151.7 1252.3,1153.7 1252.4,1152.7 1252.6,1150.4 1252.7,1154.1 1252.9,1146 1253,1148.7 1253.2,1146.7 1253.3,1149.6 1253.5,1150.3 1253.7,1158.8 1253.8,1154.2 1254,1161.7 1254.1,1157.4 1254.3,1155.5 1254.4,1161.7 1254.6,1164.9 1254.7,1161.1 1254.9,1164.8 1255,1160.9 1255.2,1159.9 1255.3,1149.1 1255.5,1166.7 1255.6,1167.2 1255.8,1157.4 1255.9,1164.2 1256.1,1164.9 1256.2,1163.2 1256.4,1162.8 1256.6,1164.5 1256.7,1156 1256.9,1157.3 1257,1163.9 1257.2,1165.7 1257.3,1160.4 1257.5,1162.5 1257.6,1168 1257.8,1159.7 1257.9,1155.7 1258.1,1156.2 1258.2,1156.2 1258.4,1161.1 1258.5,1149.1 1258.7,1153.2 1258.8,1155 1259,1153 1259.1,1162.7 1259.3,1155 1259.5,1153.6 1259.6,1152.1 1259.8,1167.7 1259.9,1165.6 1260.1,1164.9 1260.2,1161.7 1260.4,1160.1 1260.5,1168.7 1260.7,1172.1 1260.8,1170 1261,1167.1 1261.1,1163.8 1261.3,1171.5 1261.4,1167.5 1261.6,1168.1 1261.7,1168.1 1261.9,1165.8 1262,1165.1 1262.2,1172 1262.4,1170.1 1262.5,1174.6 1262.7,1171.7 1262.8,1172.3 1263,1171.2 1263.1,1173.6 1263.3,1174.4 1263.4,1178.1 1263.6,1167 1263.7,1175.5 1263.9,1175.4 1264,1168.5 1264.2,1175.2 1264.3,1169.2 1264.5,1176.3 1264.6,1172.5 1264.8,1180.4 1264.9,1173.6 1265.1,1178.8 1265.2,1179.5 1265.4,1175.5 1265.6,1174.1 1265.7,1173.3 1265.9,1175.7 1266,1183.4 1266.2,1175.4 1266.3,1177.8 1266.5,1178.2 1266.6,1175.9 1266.8,1175.2 1266.9,1180.9 1267.1,1180.7 1267.2,1170.9 1267.4,1181 1267.5,1171 1267.7,1181.1 1267.8,1176.3 1268,1178 1268.1,1176.3 1268.3,1170.9 1268.5,1170.4 1268.6,1178.5 1268.8,1176.6 1268.9,1174.2 1269.1,1173.8 1269.2,1177.4 1269.4,1179.3 1269.5,1172.2 1269.7,1175.9 1269.8,1177.3 1270,1172.5 1270.1,1181.1 1270.3,1171 1270.4,1182 1270.6,1171.2 1270.7,1178.7 1270.9,1174.1 1271,1177.9 1271.2,1173.8 1271.4,1182.9 1271.5,1171.1 1271.7,1173.8 1271.8,1173 1272,1175.4 1272.1,1180.1 1272.3,1172.2 1272.4,1177.6 1272.6,1171.2 1272.7,1178.8 1272.9,1185.6 1273,1178 1273.2,1186.2 1273.3,1179.8 1273.5,1174.6 1273.6,1174.6 1273.8,1175 1273.9,1184.4 1274.1,1177.6 1274.3,1185.5 1274.4,1182.1 1274.6,1178 1274.7,1182.2 1274.9,1173.9 1275,1177.2 1275.2,1172.8 1275.3,1178.7 1275.5,1177.4 1275.6,1172.8 1275.8,1181.2 1275.9,1184.8 1276.1,1169.6 1276.2,1182.1 1276.4,1185.2 1276.5,1176.8 1276.7,1183.1 1276.8,1184.7 1277,1172.3 1277.2,1179.8 1277.3,1184.7 1277.5,1172.4 1277.6,1180.7 1277.8,1181.4 1277.9,1178.1 1278.1,1184.8 1278.2,1176.6 1278.4,1172.9 1278.5,1180.1 1278.7,1174.6 1278.8,1178 1279,1174.2 1279.1,1177.7 1279.3,1183.2 1279.4,1178.4 1279.6,1180.5 1279.7,1183.9 1279.9,1181.8 1280.1,1179.8 1280.2,1178 1280.4,1174.6 1280.5,1172.5 1280.7,1183.5 1280.8,1183.9 1281,1180.6 1281.1,1174.9 1281.3,1171 1281.4,1182.4 1281.6,1174 1281.7,1182.1 1281.9,1181.1 1282,1176.7 1282.2,1183.8 1282.3,1188.3 1282.5,1181.8 1282.6,1177.6 1282.8,1176.3 1283,1179.6 1283.1,1172.6 1283.3,1180.5 1283.4,1170.7 1283.6,1173.8 1283.7,1177.3 1283.9,1179.4 1284,1178.2 1284.2,1178.7 1284.3,1174.6 1284.5,1168 1284.6,1180.3 1284.8,1181.1 1284.9,1177.1 1285.1,1177.1 1285.2,1176.6 1285.4,1181.8 1285.5,1178.1 1285.7,1178.8 1285.9,1175.1 1286,1175.5 1286.2,1184.3 1286.3,1179.4 1286.5,1178.5 1286.6,1177.7 1286.8,1176.5 1286.9,1175.5 1287.1,1175.9 1287.2,1183.8 1287.4,1179.7 1287.5,1176.2 1287.7,1177 1287.8,1181.1 1288,1172.9 1288.1,1179.1 1288.3,1179.8 1288.4,1177.3 1288.6,1179.6 1288.7,1178.1 1288.9,1173.6 1289.1,1171.2 1289.2,1173.6 1289.4,1176.3 1289.5,1172.2 1289.7,1174.5 1289.8,1176 1290,1180.3 1290.1,1173.9 1290.3,1179.5 1290.4,1178.9 1290.6,1175.6 1290.7,1185.6 1290.9,1181.7 1291,1183.6 1291.2,1175.8 1291.3,1182.5 1291.5,1172.9 1291.6,1179.2 1291.8,1177.2 1292,1181.6 1292.1,1179.2 1292.3,1176.8 1292.4,1174.7 1292.6,1183.8 1292.7,1180.7 1292.9,1178.8 1293,1180.1 1293.2,1178.5 1293.3,1178.9 1293.5,1177.4 1293.6,1177.2 1293.8,1172.3 1293.9,1179.4 1294.1,1178.7 1294.2,1180 1294.4,1183.6 1294.5,1173.6 1294.7,1180.6 1294.9,1179.2 1295,1179.2 1295.2,1177.5 1295.3,1178.1 1295.5,1180.6 1295.6,1179.2 1295.8,1180.4 1295.9,1179.3 1296.1,1174.4 1296.2,1178.9 1296.4,1171.8 1296.5,1167.9 1296.7,1178.7 1296.8,1179.6 1297,1176.1 1297.1,1178.5 1297.3,1177.3 1297.4,1173.3 1297.6,1178.5 1297.8,1182.5 1297.9,1173.7 1298.1,1180.3 1298.2,1178.6 1298.4,1170.7 1298.5,1178.2 1298.7,1179.6 1298.8,1179.1 1299,1182.2 1299.1,1175.9 1299.3,1169.5 1299.4,1175.8 1299.6,1176.1 1299.7,1179.2 1299.9,1179.8 1300,1179.4 1300.2,1175.4 1300.3,1180.3 1300.5,1177.7 1300.7,1176.2 1300.8,1175.6 1301,1178.4 1301.1,1171.8 1301.3,1172.9 1301.4,1176.9 1301.6,1179.4 1301.7,1176.3 1301.9,1177.5 1302,1175.8 1302.2,1175.6 1302.3,1174.1 1302.5,1167.5 1302.6,1176.9 1302.8,1175.2 1302.9,1176.9 1303.1,1171.4 1303.2,1172.3 1303.4,1172 1303.6,1173 1303.7,1176.7 1303.9,1168.8 1304,1169.8 1304.2,1172.4 1304.3,1173.6 1304.5,1165.8 1304.6,1168.4 1304.8,1165.1 1304.9,1166 1305.1,1159.4 1305.2,1171 1305.4,1169.7 1305.5,1164.7 1305.7,1160.6 1305.8,1157.7 1306,1164.9 1306.1,1162.2 1306.3,1166.7 1306.5,1159.1 1306.6,1154.6 1306.8,1158.2 1306.9,1154.1 1307.1,1151.1 1307.2,1146.5 1307.4,1146.1 1307.5,1145.2 1307.7,1140.6 1307.8,1135 1308,1128.6 1308.1,1127.9 1308.3,1121.4 1308.4,1117.7 1308.6,1107.5 1308.7,1105.5 1308.9,1098.6 1309,1089.5 1309.2,1086.5 1309.3,1077.9 1309.5,1074 1309.7,1071.7 1309.8,1069.5 1310,1070 1310.1,1073.2 1310.3,1076.3 1310.4,1081.3 1310.6,1084.3 1310.7,1092.4 1310.9,1096 1311,1104.9 1311.2,1116.7 1311.3,1117.3 1311.5,1123.1 1311.6,1123.1 1311.8,1134 1311.9,1134.9 1312.1,1139 1312.2,1143.6 1312.4,1142.6 1312.6,1152.7 1312.7,1147.9 1312.9,1156.6 1313,1159.1 1313.2,1161.1 1313.3,1159.9 1313.5,1164 1313.6,1164.3 1313.8,1164 1313.9,1164.7 1314.1,1171 1314.2,1168.7 1314.4,1167.7 1314.5,1165 1314.7,1167 1314.8,1175.5 1315,1173.5 1315.1,1173.7 1315.3,1171.7 1315.5,1171.9 1315.6,1168.2 1315.8,1176.6 1315.9,1173.2 1316.1,1170.3 1316.2,1175.5 1316.4,1177.5 1316.5,1166.9 1316.7,1174.5 1316.8,1176.8 1317,1166.1 1317.1,1174.3 1317.3,1170.9 1317.4,1177.8 1317.6,1175.8 1317.7,1174.1 1317.9,1178.7 1318,1169.6 1318.2,1178.6 1318.4,1177.7 1318.5,1182.6 1318.7,1176.8 1318.8,1173 1319,1178.4 1319.1,1176.3 1319.3,1179.6 1319.4,1174.3 1319.6,1178.5 1319.7,1174.5 1319.9,1179.2 1320,1179.2 1320.2,1177.3 1320.3,1177.7 1320.5,1185.3 1320.6,1175.1 1320.8,1181 1320.9,1175.2 1321.1,1178.1 1321.3,1179.1 1321.4,1180.2 1321.6,1177.3 1321.7,1176.7 1321.9,1179.6 1322,1180.9 1322.2,1179.5 1322.3,1183.3 1322.5,1179.7 1322.6,1183.1 1322.8,1181.5 1322.9,1178.6 1323.1,1175.7 1323.2,1179.1 1323.4,1178.8 1323.5,1179.5 1323.7,1173.7 1323.8,1179.2 1324,1179.7 1324.2,1175.8 1324.3,1178.9 1324.5,1175.8 1324.6,1183.5 1324.8,1172.5 1324.9,1175.9 1325.1,1180 1325.2,1178.4 1325.4,1182.3 1325.5,1178.5 1325.7,1182.2 1325.8,1177.6 1326,1184.5 1326.1,1177.7 1326.3,1175.5 1326.4,1179 1326.6,1175.1 1326.7,1178.7 1326.9,1183.6 1327.1,1181.6 1327.2,1180.7 1327.4,1172 1327.5,1182 1327.7,1181.7 1327.8,1181.7 1328,1184.4 1328.1,1177.1 1328.3,1178.3 1328.4,1178.8 1328.6,1173.7 1328.7,1176.5 1328.9,1182.5 1329,1174.8 1329.2,1180.4 1329.3,1178.5 1329.5,1181 1329.6,1182.9 1329.8,1177.3 1330,1176.4 1330.1,1178.6 1330.3,1186.3 1330.4,1182.5 1330.6,1182 1330.7,1178.7 1330.9,1181.5 1331,1175.5 1331.2,1183.9 1331.3,1177.4 1331.5,1178.5 1331.6,1182.4 1331.8,1178.2 1331.9,1179.7 1332.1,1181.5 1332.2,1181.4 1332.4,1179.1 1332.5,1182.5 1332.7,1181.3 1332.8,1184 1333,1180.3 1333.2,1181.4 1333.3,1177.3 1333.5,1180.2 1333.6,1181.6 1333.8,1187.3 1333.9,1179.5 1334.1,1183 1334.2,1183.3 1334.4,1177.8 1334.5,1180.6 1334.7,1182.7 1334.8,1177.9 1335,1176 1335.1,1180.9 1335.3,1171.6 1335.4,1181.9 1335.6,1179.5 1335.7,1180.1 1335.9,1184.3 1336.1,1176.9 1336.2,1184.5 1336.4,1177 1336.5,1181.3 1336.7,1180.3 1336.8,1178.2 1337,1179.8 1337.1,1183.6 1337.3,1179.2 1337.4,1173.9 1337.6,1180.7 1337.7,1181.4 1337.9,1182.3 1338,1183.8 1338.2,1180.1 1338.3,1179.8 1338.5,1179.6 1338.6,1179.7 1338.8,1175.9 1339,1179.4 1339.1,1184.8 1339.3,1180.6 1339.4,1176.1 1339.6,1186.8 1339.7,1179.3 1339.9,1182.6 1340,1180.9 1340.2,1178 1340.3,1185.8 1340.5,1181.3 1340.6,1181.1 1340.8,1178.1 1340.9,1187.1 1341.1,1180.9 1341.2,1177.7 1341.4,1178.7 1341.5,1177.5 1341.7,1175.1 1341.9,1184.7 1342,1178.1 1342.2,1176.7 1342.3,1180.1 1342.5,1185.7 1342.6,1177.5 1342.8,1179.8 1342.9,1175.9 1343.1,1180 1343.2,1179.6 1343.4,1182.5 1343.5,1178.9 1343.7,1181.2 1343.8,1185.7 1344,1180.8 1344.1,1177.7 1344.3,1178.6 1344.4,1183.3 1344.6,1183.6 1344.8,1184.1 1344.9,1183.8 1345.1,1181.4 1345.2,1181.1 1345.4,1176 1345.5,1181.5 1345.7,1177.8 1345.8,1182.1 1346,1187.1 1346.1,1186.3 1346.3,1181.8 1346.4,1181.9 1346.6,1181.1 1346.7,1182.5 1346.9,1180.9 1347,1178.7 1347.2,1184.5 1347.3,1181.3 1347.5,1181.4 1347.7,1183.6 1347.8,1182.1 1348,1185.3 1348.1,1182.5 1348.3,1180.9 1348.4,1182.9 1348.6,1177.1 1348.7,1180.2 1348.9,1178.2 1349,1176.4 1349.2,1180.5 1349.3,1184.6 1349.5,1179.7 1349.6,1185.9 1349.8,1176.7 1349.9,1184.8 1350.1,1187.2 1350.2,1180.3 1350.4,1177.7 1350.6,1180.4 1350.7,1181.6 1350.9,1181.7 1351,1180.2 1351.2,1179.7 1351.3,1180.6 1351.5,1178.7 1351.6,1178.7 1351.8,1185.3 1351.9,1181 1352.1,1184.4 1352.2,1178.5 1352.4,1182.5 1352.5,1177.1 1352.7,1184.6 1352.8,1180.1 1353,1185 1353.1,1181.5 1353.3,1177.4 1353.4,1180.5 1353.6,1183.8 1353.8,1182 1353.9,1180.7 1354.1,1184.9 1354.2,1185.1 1354.4,1176.1 1354.5,1180.7 1354.7,1183.9 1354.8,1178.4 1355,1179.7 1355.1,1183.1 1355.3,1178.4 1355.4,1181.7 1355.6,1179.2 1355.7,1182.8 1355.9,1183 1356,1179 1356.2,1183.4 1356.3,1184.8 1356.5,1185.9 1356.7,1180.4 1356.8,1178.1 1357,1181.2 1357.1,1180.5 1357.3,1179.6 1357.4,1180.6 1357.6,1178.2 1357.7,1183.4 1357.9,1175.1 1358,1175.5 1358.2,1183.8 1358.3,1175.1 1358.5,1186 1358.6,1183.2 1358.8,1183.1 1358.9,1178.4 1359.1,1182.9 1359.2,1178.4 1359.4,1185.5 1359.6,1182.1 1359.7,1178.9 1359.9,1179.7 1360,1181.5 1360.2,1178.9 1360.3,1187 1360.5,1180.8 1360.6,1180.2 1360.8,1187.5 1360.9,1181.5 1361.1,1181.1 1361.2,1184.4 1361.4,1175.7 1361.5,1180.5 1361.7,1181.9 1361.8,1179.5 1362,1179.1 1362.1,1183.4 1362.3,1176.5 1362.5,1182.1 1362.6,1179.3 1362.8,1179.3 1362.9,1177 1363.1,1182.1 1363.2,1181.4 1363.4,1182.3 1363.5,1182.7 1363.7,1178.9 1363.8,1182.8 1364,1175.9 1364.1,1186 1364.3,1183.3 1364.4,1184.8 1364.6,1184.9 1364.7,1178.9 1364.9,1178.6 1365,1178.1 1365.2,1177.1 1365.4,1180.9 1365.5,1179 1365.7,1186.1 1365.8,1177.1 1366,1185.3 1366.1,1176 1366.3,1184.5 1366.4,1179.7 1366.6,1183.3 1366.7,1179.4 1366.9,1178.8 1367,1185.4 1367.2,1183.6 1367.3,1182.7 1367.5,1183.3 1367.6,1176.4 1367.8,1180.7 1367.9,1179.7 1368.1,1181.2 1368.3,1175.7 1368.4,1179.8 1368.6,1175.1 1368.7,1182.4 1368.9,1177.7 1369,1183.6 1369.2,1185.5 1369.3,1180.3 1369.5,1182.8 1369.6,1182.3 1369.8,1180.8 1369.9,1179.1 1370.1,1182.3 1370.2,1180.5 1370.4,1184.1 1370.5,1180.3 1370.7,1175.1 1370.8,1181.8 1371,1186.1 1371.2,1179.9 1371.3,1176.3 1371.5,1180 1371.6,1183.9 1371.8,1179.8 1371.9,1175.4 1372.1,1184.5 1372.2,1177.5 1372.4,1181.5 1372.5,1187.3 1372.7,1184.9 1372.8,1182.7 1373,1182.6 1373.1,1184.4 1373.3,1175.8 1373.4,1178.2 1373.6,1181.8 1373.7,1182.3 1373.9,1188.6 1374.1,1181.7 1374.2,1180.2 1374.4,1186 1374.5,1181.4 1374.7,1174.3 1374.8,1176.7 1375,1182.2 1375.1,1187.3 1375.3,1182 1375.4,1180.8 1375.6,1183.6 1375.7,1181.9 1375.9,1175.5 1376,1178.1 1376.2,1185.2 1376.3,1182.2 1376.5,1180.4 1376.6,1186 1376.8,1184.5 1376.9,1185.2 1377.1,1182.2 1377.3,1182 1377.4,1176.9 1377.6,1183.3 1377.7,1178.5 1377.9,1179.2 1378,1182.6 1378.2,1179.4 1378.3,1180 1378.5,1184.8 1378.6,1180.2 1378.8,1179.8 1378.9,1178 1379.1,1185.4 1379.2,1177.4 1379.4,1176.9 1379.5,1185.8 1379.7,1183.2 1379.8,1181.8 1380,1178.1 1380.2,1186 1380.3,1181 1380.5,1179.9 1380.6,1178 1380.8,1181 1380.9,1183.2 1381.1,1176.3 1381.2,1184.6 1381.4,1177.5 1381.5,1183.6 1381.7,1186 1381.8,1186 1382,1182.4 1382.1,1181.1 1382.3,1181.7 1382.4,1182.3 1382.6,1179.7 1382.7,1185.9 1382.9,1182.2 1383.1,1180.9 1383.2,1181.1 1383.4,1179.4 1383.5,1184.4 1383.7,1181 1383.8,1179.1 1384,1183.2 1384.1,1183.3 1384.3,1179 1384.4,1182.5 1384.6,1180.9 1384.7,1181.3 1384.9,1181.4 1385,1182.5 1385.2,1179.3 1385.3,1177.7 1385.5,1179.2 1385.6,1184.9 1385.8,1182 1386,1180.1 1386.1,1183 1386.3,1185 1386.4,1179.5 1386.6,1175.5 1386.7,1177.5 1386.9,1184.5 1387,1174.6 1387.2,1181.9 1387.3,1182.6 1387.5,1176.2 1387.6,1181.9 1387.8,1180.1 1387.9,1183.5 1388.1,1183.8 1388.2,1182.2 1388.4,1179.2 1388.5,1179 1388.7,1181.1 1388.9,1177.8 1389,1183.7 1389.2,1182.9 1389.3,1175.8 1389.5,1181.3 1389.6,1182.2 1389.8,1184.7 1389.9,1178.1 1390.1,1176.7 1390.2,1175.6 1390.4,1175.5 1390.5,1182 1390.7,1175.7 1390.8,1180 1391,1183.8 1391.1,1182.5 1391.3,1176.6 1391.4,1176.2 1391.6,1175.1 1391.8,1174.3 1391.9,1175.7 1392.1,1182.1 1392.2,1177.8 1392.4,1175.8 1392.5,1183.6 1392.7,1183.4 1392.8,1178.7 1393,1182.9 1393.1,1178.9 1393.3,1174.5 1393.4,1184.3 1393.6,1176.4 1393.7,1175.2 1393.9,1175.6 1394,1170 1394.2,1172.7 1394.3,1171.5 1394.5,1171.5 1394.7,1167.7 1394.8,1168.5 1395,1166.1 1395.1,1174.9 1395.3,1173.4 1395.4,1166.2 1395.6,1170.7 1395.7,1166.4 1395.9,1167.3 1396,1160.3 1396.2,1161.8 1396.3,1165.9 1396.5,1156.5 1396.6,1156.6 1396.8,1154.5 1396.9,1154.9 1397.1,1152.6 1397.2,1152.6 1397.4,1151 1397.5,1150.5 1397.7,1150.3 1397.9,1152.3 1398,1154 1398.2,1154.2 1398.3,1158 1398.5,1159.9 1398.6,1161 1398.8,1160.3 1398.9,1164.4 1399.1,1163.9 1399.2,1165.7 1399.4,1167.1 1399.5,1169.8 1399.7,1169.8 1399.8,1173.8 1400,1173.5 1400.1,1171.8 1400.3,1180.3 1400.4,1168.7 1400.6,1174.5 1400.8,1176.4 1400.9,1177.4 1401.1,1173.8 1401.2,1176.9 1401.4,1172.8 1401.5,1178.9 1401.7,1182 1401.8,1176 1402,1177 1402.1,1177.8 1402.3,1181.6 1402.4,1176 1402.6,1180.9 1402.7,1176.2 1402.9,1178 1403,1176.9 1403.2,1182.2 1403.3,1181.3 1403.5,1176 1403.7,1175.6 1403.8,1184 1404,1180 1404.1,1180.4 1404.3,1172.6 1404.4,1178.7 1404.6,1180.1 1404.7,1181.1 1404.9,1182.2 1405,1180.5 1405.2,1179.4 1405.3,1184.9 1405.5,1174.6 1405.6,1176.6 1405.8,1179.2 1405.9,1183.5 1406.1,1183.3 1406.2,1180.5 1406.4,1182.1 1406.6,1182 1406.7,1182.3 1406.9,1182.1 1407,1183.3 1407.2,1173.8 1407.3,1180.3 1407.5,1183.6 1407.6,1180 1407.8,1182.6 1407.9,1184 1408.1,1179.4 1408.2,1177.5 1408.4,1178 1408.5,1182.5 1408.7,1180.9 1408.8,1184 1409,1183.4 1409.1,1181.4 1409.3,1176.4 1409.5,1181.1 1409.6,1181.1 1409.8,1181.1 1409.9,1177.4 1410.1,1177.1 1410.2,1180.5 1410.4,1187.2 1410.5,1181 1410.7,1183.6 1410.8,1183.4 1411,1177.8 1411.1,1184.6 1411.3,1180.7 1411.4,1184.5 1411.6,1185.6 1411.7,1184 1411.9,1183.5 1412,1180.5 1412.2,1180.3 1412.4,1181 1412.5,1182.6 1412.7,1179.1 1412.8,1180.3 1413,1183.9 1413.1,1181.9 1413.3,1180.9 1413.4,1180.7 1413.6,1176.9 1413.7,1179.4 1413.9,1178.3 1414,1173 1414.2,1177.6 1414.3,1177.7 1414.5,1176.7 1414.6,1185.1 1414.8,1181.8 1414.9,1180.7 1415.1,1179.1 1415.3,1177.9 1415.4,1177.4 1415.6,1178.8 1415.7,1177.1 1415.9,1181 1416,1179.7 1416.2,1173.5 1416.3,1179.8 1416.5,1176.4 1416.6,1180 1416.8,1175.6 1416.9,1181.1 1417.1,1180.9 1417.2,1181.6 1417.4,1178 1417.5,1183.7 1417.7,1174 1417.8,1178.3 1418,1176.8 1418.2,1182.4 1418.3,1179.1 1418.5,1178.9 1418.6,1178.9 1418.8,1174.7 1418.9,1176.1 1419.1,1174.5 1419.2,1182.4 1419.4,1174.1 1419.5,1179.6 1419.7,1178.9 1419.8,1174.2 1420,1179 1420.1,1174 1420.3,1177 1420.4,1180.5 1420.6,1178 1420.7,1171.1 1420.9,1174.8 1421,1179.5 1421.2,1177.6 1421.4,1176.8 1421.5,1176.9 1421.7,1177.2 1421.8,1176.6 1422,1171.9 1422.1,1168.1 1422.3,1173.5 1422.4,1173.6 1422.6,1170.4 1422.7,1166.1 1422.9,1173.8 1423,1175.6 1423.2,1170.7 1423.3,1167.9 1423.5,1174.3 1423.6,1164.2 1423.8,1164.4 1423.9,1171 1424.1,1159.9 1424.3,1165.1 1424.4,1158.1 1424.6,1162.7 1424.7,1162.3 1424.9,1156.1 1425,1148.2 1425.2,1150.6 1425.3,1149 1425.5,1148.7 1425.6,1148.6 1425.8,1146.1 1425.9,1137.5 1426.1,1139.8 1426.2,1130.6 1426.4,1126.6 1426.5,1125.4 1426.7,1118.7 1426.8,1118.9 1427,1112.8 1427.2,1106.2 1427.3,1098.7 1427.5,1097.2 1427.6,1091 1427.8,1088.9 1427.9,1088.7 1428.1,1088.1 1428.2,1089 1428.4,1090.5 1428.5,1095.1 1428.7,1097 1428.8,1103 1429,1107.6 1429.1,1114.2 1429.3,1112.2 1429.4,1124 1429.6,1127.2 1429.7,1133.9 1429.9,1138.1 1430.1,1139.6 1430.2,1141.1 1430.4,1145.8 1430.5,1150.2 1430.7,1150.4 1430.8,1149.1 1431,1150.8 1431.1,1158.1 1431.3,1160.6 1431.4,1155.4 1431.6,1157.7 1431.7,1165.2 1431.9,1161.2 1432,1161.7 1432.2,1165.1 1432.3,1167.4 1432.5,1169.6 1432.6,1168.7 1432.8,1168.5 1433,1169 1433.1,1172.5 1433.3,1169.8 1433.4,1171.6 1433.6,1172.7 1433.7,1177.5 1433.9,1174.9 1434,1174.1 1434.2,1179.5 1434.3,1172.6 1434.5,1174.7 1434.6,1174.4 1434.8,1174.8 1434.9,1175.3 1435.1,1178.6 1435.2,1171.9 1435.4,1175.3 1435.5,1178.5 1435.7,1183.1 1435.9,1177.6 1436,1176.4 1436.2,1178.5 1436.3,1175.4 1436.5,1182.2 1436.6,1179.7 1436.8,1177.2 1436.9,1180.6 1437.1,1172.4 1437.2,1176.1 1437.4,1179.7 1437.5,1177.9 1437.7,1179.5 1437.8,1181.5 1438,1176.3 1438.1,1178.3 1438.3,1176.9 1438.4,1177.8 1438.6,1178.3 1438.8,1182.1 1438.9,1176.8 1439.1,1181.1 1439.2,1181.4 1439.4,1175.3 1439.5,1176.5 1439.7,1177.4 1439.8,1184.1 1440,1184.1 1440.1,1176.9 1440.3,1179.6 1440.4,1176.1 1440.6,1178.9 1440.7,1180 1440.9,1176.4 1441,1178.3 1441.2,1180.6 1441.3,1182.1 1441.5,1179.8 1441.6,1178.4 1441.8,1177 1442,1176.1 1442.1,1179.5 1442.3,1176.6 1442.4,1185.1 1442.6,1178.9 1442.7,1186.3 1442.9,1174.6 1443,1180.4 1443.2,1179.6 1443.3,1183.8 1443.5,1184.1 1443.6,1181.7 1443.8,1186.8 1443.9,1182.8 1444.1,1176.9 1444.2,1177.2 1444.4,1181 1444.5,1182.1 1444.7,1181 1444.9,1180.5 1445,1180.8 1445.2,1186.1 1445.3,1177 1445.5,1180.5 1445.6,1180.6 1445.8,1184.3 1445.9,1181.8 1446.1,1183.1 1446.2,1177.1 1446.4,1182.4 1446.5,1183 1446.7,1177 1446.8,1174.4 1447,1182.8 1447.1,1180.3 1447.3,1185.2 1447.4,1179.4 1447.6,1181 1447.8,1176 1447.9,1178.4 1448.1,1183.7 1448.2,1180.2 1448.4,1183.3 1448.5,1179.7 1448.7,1179.8 1448.8,1187.8 1449,1180.6 1449.1,1185.7 1449.3,1178.5 1449.4,1186.7 1449.6,1182.7 1449.7,1178.9 1449.9,1182.9 1450,1182.7 1450.2,1184.2 1450.3,1176.9 1450.5,1179.4 1450.7,1176.7 1450.8,1182.6 1451,1184.2 1451.1,1179.2 1451.3,1179.1 1451.4,1176.9 1451.6,1176.2 1451.7,1183.4 1451.9,1182.1 1452,1180.4 1452.2,1183.4 1452.3,1182.1 1452.5,1183.7 1452.6,1184.4 1452.8,1183.2 1452.9,1182.5 1453.1,1179.6 1453.2,1178.5 1453.4,1180.8 1453.6,1182.1 1453.7,1182.6 1453.9,1182.4 1454,1176.9 1454.2,1179.5 1454.3,1181.1 1454.5,1186.3 1454.6,1181.7 1454.8,1181.4 1454.9,1182 1455.1,1182.1 1455.2,1185.6 1455.4,1178.2 1455.5,1181.6 1455.7,1181.2 1455.8,1182.6 1456,1180.9 1456.1,1177.5 1456.3,1182.3 1456.5,1179.4 1456.6,1181.7 1456.8,1181.2 1456.9,1184.2 1457.1,1177.2 1457.2,1176.9 1457.4,1180.5 1457.5,1177.1 1457.7,1183.7 1457.8,1176.5 1458,1177.2 1458.1,1177.3 1458.3,1180.2 1458.4,1180.5 1458.6,1175.8 1458.7,1180.8 1458.9,1183.1 1459,1176.2 1459.2,1177.6 1459.4,1177.6 1459.5,1182.2 1459.7,1182.8 1459.8,1177.1 1460,1179.5 1460.1,1172.4 1460.3,1179.3 1460.4,1180.2 1460.6,1176.5 1460.7,1176.9 1460.9,1182.1 1461,1181.1 1461.2,1180 1461.3,1181.2 1461.5,1182.3 1461.6,1183 1461.8,1179.6 1461.9,1180.5 1462.1,1175.1 1462.2,1180 1462.4,1181.7 1462.6,1181.4 1462.7,1176.8 1462.9,1177.9 1463,1179.7 1463.2,1178 1463.3,1176.9 1463.5,1181.8 1463.6,1179.8 1463.8,1173.8 1463.9,1177.9 1464.1,1179.5 1464.2,1177.7 1464.4,1172.3 1464.5,1181.6 1464.7,1182.7 1464.8,1183.4 1465,1172.4 1465.1,1178 1465.3,1178.3 1465.5,1173.7 1465.6,1176.1 1465.8,1171.4 1465.9,1171.5 1466.1,1172.3 1466.2,1176.1 1466.4,1171.5 1466.5,1173.5 1466.7,1168.5 1466.8,1174.9 1467,1173.2 1467.1,1171.6 1467.3,1171.3 1467.4,1172.7 1467.6,1175.8 1467.7,1173.3 1467.9,1173.2 1468,1172.3 1468.2,1171.8 1468.4,1166.7 1468.5,1172 1468.7,1172.5 1468.8,1172.1 1469,1169.4 1469.1,1166.3 1469.3,1170.2 1469.4,1165.4 1469.6,1173.5 1469.7,1167.5 1469.9,1167.1 1470,1164.9 1470.2,1163 1470.3,1160.9 1470.5,1161.5 1470.6,1163 1470.8,1157.5 1470.9,1157.4 1471.1,1152.6 1471.3,1153.2 1471.4,1157.3 1471.6,1154.1 1471.7,1149.7 1471.9,1145.5 1472,1140.9 1472.2,1145.1 1472.3,1138.5 1472.5,1134.4 1472.6,1133.1 1472.8,1131.3 1472.9,1125.8 1473.1,1117.7 1473.2,1116.1 1473.4,1111 1473.5,1110.3 1473.7,1102.7 1473.8,1102.7 1474,1093.1 1474.2,1079.6 1474.3,1073.2 1474.5,1073.7 1474.6,1063.2 1474.8,1059.4 1474.9,1052.3 1475.1,1048.5 1475.2,1045.5 1475.4,1044 1475.5,1043.3 1475.7,1044.2 1475.8,1046.4 1476,1049.4 1476.1,1054.6 1476.3,1061.5 1476.4,1070.5 1476.6,1073.3 1476.7,1076.4 1476.9,1084.3 1477.1,1088.2 1477.2,1099.4 1477.4,1104.1 1477.5,1106.7 1477.7,1113.4 1477.8,1119.6 1478,1124.2 1478.1,1125.6 1478.3,1134.8 1478.4,1131.2 1478.6,1135.8 1478.7,1139.1 1478.9,1139 1479,1145.1 1479.2,1147.9 1479.3,1150.8 1479.5,1150 1479.6,1149.5 1479.8,1153.4 1480,1157 1480.1,1155 1480.3,1161.7 1480.4,1162.7 1480.6,1165.3 1480.7,1160.8 1480.9,1160.4 1481,1164.7 1481.2,1167.4 1481.3,1172 1481.5,1161.6 1481.6,1166.7 1481.8,1168.5 1481.9,1167.6 1482.1,1167.3 1482.2,1172 1482.4,1172.5 1482.5,1167 1482.7,1173.6 1482.9,1171.5 1483,1168.5 1483.2,1174.7 1483.3,1173.6 1483.5,1173.6 1483.6,1173.2 1483.8,1175.7 1483.9,1173.7 1484.1,1176.8 1484.2,1178.3 1484.4,1173.8 1484.5,1172.4 1484.7,1179.4 1484.8,1176.6 1485,1179.3 1485.1,1183.1 1485.3,1183.3 1485.4,1178.9 1485.6,1175.8 1485.7,1178.3 1485.9,1181.4 1486.1,1176.6 1486.2,1174.1 1486.4,1176.7 1486.5,1178.7 1486.7,1177.3 1486.8,1171.9 1487,1178.1 1487.1,1175.2 1487.3,1176.7 1487.4,1176.6 1487.6,1178 1487.7,1177.3 1487.9,1183.3 1488,1182.4 1488.2,1177.6 1488.3,1181.9 1488.5,1176 1488.6,1183.1 1488.8,1175.9 1489,1177.6 1489.1,1176.3 1489.3,1180.4 1489.4,1182.2 1489.6,1179.2 1489.7,1177.1 1489.9,1183.5 1490,1175.3 1490.2,1180.3 1490.3,1179.4 1490.5,1176.6 1490.6,1178.1 1490.8,1180.2 1490.9,1180.8 1491.1,1176.8 1491.2,1181.3 1491.4,1185.9 1491.5,1176.7 1491.7,1175 1491.9,1178.6 1492,1176.3 1492.2,1183.6 1492.3,1179.7 1492.5,1182 1492.6,1180.6 1492.8,1180.6 1492.9,1183.2 1493.1,1180.4 1493.2,1185.8 1493.4,1182.1 1493.5,1180.1 1493.7,1185.7 1493.8,1185 1494,1184.7 1494.1,1185.1 1494.3,1180.3 1494.4,1179.8 1494.6,1180 1494.8,1177.5 1494.9,1177.6 1495.1,1182.3 1495.2,1184 1495.4,1180.7 1495.5,1180.8 1495.7,1182.6 1495.8,1182.7 1496,1182 1496.1,1184.3 1496.3,1181.4 1496.4,1184.5 1496.6,1186.9 1496.7,1185.8 1496.9,1179.5 1497,1182 1497.2,1183.2 1497.3,1181.7 1497.5,1184.7 1497.7,1181 1497.8,1186.4 1498,1178.1 1498.1,1181.7 1498.3,1183.1 1498.4,1182.9 1498.6,1184.8 1498.7,1180.6 1498.9,1180.3 1499,1176.7 1499.2,1187 1499.3,1185.5 1499.5,1185.2 1499.6,1184.5 1499.8,1187.8 1499.9,1183.5 1500.1,1176.1 1500.2,1183.1 1500.4,1180.7 1500.6,1181.3 1500.7,1183.4 1500.9,1184.4 1501,1183.7 1501.2,1184.7 1501.3,1181 1501.5,1182.1 1501.6,1184 1501.8,1178.9 1501.9,1183.6 1502.1,1182.2 1502.2,1181.9 1502.4,1177.4 1502.5,1180.5 1502.7,1188.3 1502.8,1177.9 1503,1179.9 1503.1,1179.2 1503.3,1181.5 1503.5,1179.2 1503.6,1181.9 1503.8,1179.7 1503.9,1184.5 1504.1,1185.5 1504.2,1179 1504.4,1180.7 1504.5,1183.7 1504.7,1181.2 1504.8,1183.8 1505,1180.5 1505.1,1181 1505.3,1178.6 1505.4,1178.5 1505.6,1186 1505.7,1184.3 1505.9,1181.8 1506,1182.2 1506.2,1180.3 1506.3,1180 1506.5,1184.5 1506.7,1184.5 1506.8,1184.4 1507,1179.9 1507.1,1178 1507.3,1184.6 1507.4,1180.6 1507.6,1182.1 1507.7,1186.3 1507.9,1182.8 1508,1182.5 1508.2,1181.1 1508.3,1179.9 1508.5,1182.1 1508.6,1179.3 1508.8,1180.6 1508.9,1180.7 1509.1,1179.6 1509.2,1183.1 1509.4,1186 1509.6,1181.1 1509.7,1182.3 1509.9,1179.7 1510,1182.4 1510.2,1179.9 1510.3,1181.9 1510.5,1178.5 1510.6,1182.8 1510.8,1177.2 1510.9,1182.6 1511.1,1186.8 1511.2,1182.6 1511.4,1185.7 1511.5,1177.1 1511.7,1179.6 1511.8,1184.9 1512,1180.1 1512.1,1176.7 1512.3,1182.9 1512.5,1184 1512.6,1179.6 1512.8,1183 1512.9,1179.4 1513.1,1182.2 1513.2,1184.8 1513.4,1185.3 1513.5,1182.1 1513.7,1181.1 1513.8,1181.2 1514,1183.1 1514.1,1185.9 1514.3,1181.4 1514.4,1186.1 1514.6,1186.2 1514.7,1176.1 1514.9,1185.2 1515,1183.8 1515.2,1181 1515.4,1185.3 1515.5,1184.9 1515.7,1186.3 1515.8,1180.2 1516,1179.1 1516.1,1177.5 1516.3,1187 1516.4,1185.4 1516.6,1185.7 1516.7,1189.4 1516.9,1184.3 1517,1187.6 1517.2,1182.1 1517.3,1186.2 1517.5,1179.2 1517.6,1180.6 1517.8,1182.9 1517.9,1183.6 1518.1,1184.6 1518.3,1184.8 1518.4,1179.9 1518.6,1183.1 1518.7,1186.1 1518.9,1187.6 1519,1182.2 1519.2,1180.9 1519.3,1181.4 1519.5,1182.7 1519.6,1180.3 1519.8,1182.7 1519.9,1182.9 1520.1,1182 1520.2,1182.9 1520.4,1184.1 1520.5,1186.3 1520.7,1183.1 1520.8,1183.8 1521,1184.5 1521.2,1181.5 1521.3,1181.7 1521.5,1188.1 1521.6,1182.7 1521.8,1181.6 1521.9,1183.6 1522.1,1178.8 1522.2,1179.2 1522.4,1184.3 1522.5,1183.2 1522.7,1182.6 1522.8,1184.2 1523,1186.2 1523.1,1179.3 1523.3,1180.4 1523.4,1184 1523.6,1183 1523.7,1181 1523.9,1180.3 1524.1,1179.8 1524.2,1187.3 1524.4,1183.3 1524.5,1183.4 1524.7,1182.8 1524.8,1180.9 1525,1178.4 1525.1,1184.4 1525.3,1181.6 1525.4,1182.4 1525.6,1176.1 1525.7,1183.6 1525.9,1188.6 1526,1183.7 1526.2,1182.2 1526.3,1182.5 1526.5,1178.7 1526.6,1188.1 1526.8,1182.8 1527,1182.3 1527.1,1181.8 1527.3,1184.8 1527.4,1183.8 1527.6,1178.6 1527.7,1179.2 1527.9,1183.4 1528,1182.1 1528.2,1187.5 1528.3,1183.1 1528.5,1186.4 1528.6,1184 1528.8,1183.4 1528.9,1178.7 1529.1,1180.6 1529.2,1183.1 1529.4,1180.9 1529.5,1181.7 1529.7,1184.7 1529.8,1181.2 1530,1182.8 1530.2,1187.3 1530.3,1186.1 1530.5,1181.1 1530.6,1180.3 1530.8,1182.6 1530.9,1181.4 1531.1,1186.7 1531.2,1182.5 1531.4,1179.4 1531.5,1184.1 1531.7,1185.8 1531.8,1183.1 1532,1180.5 1532.1,1182.7 1532.3,1182.8 1532.4,1183.2 1532.6,1180.1 1532.7,1179.6 1532.9,1179.3 1533.1,1184.5 1533.2,1186.3 1533.4,1177.8 1533.5,1181.1 1533.7,1187.2 1533.8,1180.4 1534,1177.6 1534.1,1180.7 1534.3,1187.1 1534.4,1186.4 1534.6,1183.6 1534.7,1180.3 1534.9,1183.3 1535,1185 1535.2,1184.4 1535.3,1184.1 1535.5,1181 1535.6,1185.2 1535.8,1176.6 1536,1184.5 1536.1,1181.7 1536.3,1183.1 1536.4,1185.3 1536.6,1184.5 1536.7,1186.1 1536.9,1182.3 1537,1183.1 1537.2,1180.4 1537.3,1179 1537.5,1180.9 1537.6,1188.7 1537.8,1179.9 1537.9,1182.7 1538.1,1179.7 1538.2,1179.8 1538.4,1181.2 1538.5,1179.3 1538.7,1180.2 1538.9,1181.2 1539,1183.1 1539.2,1178.6 1539.3,1178.5 1539.5,1182.2 1539.6,1181.5 1539.8,1184.2 1539.9,1178.5 1540.1,1184.2 1540.2,1180.2 1540.4,1180.2 1540.5,1186.5 1540.7,1178.2 1540.8,1181.1 1541,1184.1 1541.1,1179.5 1541.3,1180.3 1541.4,1180.7 1541.6,1185.2 1541.8,1179.7 1541.9,1179.9 1542.1,1180 1542.2,1179.8 1542.4,1181.2 1542.5,1183.1 1542.7,1181.1 1542.8,1176.7 1543,1177.4 1543.1,1181.6 1543.3,1182 1543.4,1183.6 1543.6,1182.3 1543.7,1181.1 1543.9,1178.1 1544,1178.5 1544.2,1182.3 1544.3,1179.1 1544.5,1179.9 1544.7,1181.2 1544.8,1181.9 1545,1177.4 1545.1,1180 1545.3,1180.7 1545.4,1179.3 1545.6,1172.9 1545.7,1177.6 1545.9,1175.6 1546,1174.7 1546.2,1175 1546.3,1176.9 1546.5,1175.8 1546.6,1176 1546.8,1176.2 1546.9,1176.1 1547.1,1176.4 1547.2,1176.7 1547.4,1179.2 1547.6,1176.7 1547.7,1177.9 1547.9,1179.5 1548,1179.5 1548.2,1181.1 1548.3,1178.9 1548.5,1182.1 1548.6,1180.9 1548.8,1181.6 1548.9,1177.6 1549.1,1177.2 1549.2,1179.8 1549.4,1183.1 1549.5,1183.7 1549.7,1180.4 1549.8,1180.5 1550,1179.2 1550.1,1184.2 1550.3,1178.5 1550.4,1181.7 1550.6,1181.4 1550.8,1178.5 1550.9,1180.6 1551.1,1179.5 1551.2,1181.4 1551.4,1181.6 1551.5,1182.9 1551.7,1182.3 1551.8,1178.7 1552,1179.5 1552.1,1181.5 1552.3,1183.5 1552.4,1181.6 1552.6,1189 1552.7,1179.1 1552.9,1180.7 1553,1179.1 1553.2,1184.6 1553.3,1185.7 1553.5,1184.7 1553.7,1181.7 1553.8,1179.7 1554,1180.9 1554.1,1182.6 1554.3,1182 1554.4,1183.5 1554.6,1180.6 1554.7,1185.3 1554.9,1184.5 1555,1180.2 1555.2,1182.9 1555.3,1186.7 1555.5,1179 1555.6,1180.6 1555.8,1182.6 1555.9,1179.4 1556.1,1183.3 1556.2,1186.8 1556.4,1187 1556.6,1181.7 1556.7,1185.1 1556.9,1182.1 1557,1183.5 1557.2,1182.5 1557.3,1182.5 1557.5,1183.1 1557.6,1184 1557.8,1183.3 1557.9,1181.1 1558.1,1179.3 1558.2,1181.1 1558.4,1181 1558.5,1181.8 1558.7,1181.6 1558.8,1186.4 1559,1181.9 1559.1,1185.1 1559.3,1181.4 1559.5,1177.2 1559.6,1180.6 1559.8,1180.6 1559.9,1183.7 1560.1,1179.6 1560.2,1187 1560.4,1179.8 1560.5,1187.7 1560.7,1182.5 1560.8,1180.6 1561,1178.2 1561.1,1183.7 1561.3,1178.4 1561.4,1179.1 1561.6,1185.4 1561.7,1182.2 1561.9,1184.7 1562,1180.6 1562.2,1178.8 1562.4,1185.9 1562.5,1185.2 1562.7,1180.3 1562.8,1185.5 1563,1181.7 1563.1,1181.8 1563.3,1179.7 1563.4,1178 1563.6,1187.9 1563.7,1186.5 1563.9,1179.5 1564,1182.2 1564.2,1178.2 1564.3,1185.1 1564.5,1180.7 1564.6,1184.6 1564.8,1179.6 1564.9,1184.4 1565.1,1177.4 1565.3,1185.7 1565.4,1181.9 1565.6,1181.6 1565.7,1180.9 1565.9,1179 1566,1186.7 1566.2,1184.6 1566.3,1182 1566.5,1178.4 1566.6,1178.9 1566.8,1182.8 1566.9,1180.5 1567.1,1183.5 1567.2,1175.6 1567.4,1175.9 1567.5,1178.4 1567.7,1183.4 1567.8,1178.8 1568,1182.2 1568.2,1178 1568.3,1174 1568.5,1180.7 1568.6,1182.1 1568.8,1176.7 1568.9,1179.1 1569.1,1178.5 1569.2,1176.1 1569.4,1178.2 1569.5,1173.3 1569.7,1178 1569.8,1178.3 1570,1168.5 1570.1,1172.8 1570.3,1173.1 1570.4,1173 1570.6,1167.5 1570.7,1165 1570.9,1171.6 1571.1,1169.1 1571.2,1168.5 1571.4,1167.2 1571.5,1165 1571.7,1166.7 1571.8,1166.4 1572,1164.8 1572.1,1165.4 1572.3,1165.2 1572.4,1166 1572.6,1166.7 1572.7,1166.2 1572.9,1167.3 1573,1169.4 1573.2,1170.7 1573.3,1168.4 1573.5,1168.4 1573.6,1167.6 1573.8,1172.2 1573.9,1175.3 1574.1,1171.1 1574.3,1178.4 1574.4,1173.1 1574.6,1172.4 1574.7,1176.4 1574.9,1176.4 1575,1176.5 1575.2,1178.7 1575.3,1183.3 1575.5,1178.9 1575.6,1178.2 1575.8,1181.7 1575.9,1174.2 1576.1,1181.4 1576.2,1175.7 1576.4,1179.7 1576.5,1181.7 1576.7,1180.3 1576.8,1182.7 1577,1183.5 1577.2,1181.7 1577.3,1185 1577.5,1180.6 1577.6,1177.9 1577.8,1179.4 1577.9,1179.7 1578.1,1184.1 1578.2,1177.7 1578.4,1185.1 1578.5,1179.5 1578.7,1187.4 1578.8,1183.2 1579,1188.2 1579.1,1181.1 1579.3,1181.9 1579.4,1179.8 1579.6,1183.6" fill="none" stroke="#009600" stroke-width="1.5" stroke-linejoin="round"/>
<text transform="translate(976.8 1065.2) rotate(-90)" font-size="27.5" textLength="75.2" lengthAdjust="spacingAndGlyphs">(<tspan dy="-1.1" font-size="23.6">●</tspan><tspan dy="1.1">022)</tspan></text>
<text transform="translate(989.3 1132.2) rotate(-90)" font-size="27.5" textLength="75.2" lengthAdjust="spacingAndGlyphs">(<tspan dy="-1.1" font-size="23.6">●</tspan><tspan dy="1.1">113)</tspan></text>
<text transform="translate(1006.7 1152.8) rotate(-90)" font-size="26.5" textLength="72.7" lengthAdjust="spacingAndGlyphs">(<tspan dy="-1.1" font-size="22.8">●</tspan><tspan dy="1.1">333)</tspan></text>
<text transform="translate(1045.5 1122.4) rotate(-90)" font-size="27" textLength="71.7" lengthAdjust="spacingAndGlyphs">(<tspan dy="-1.1" font-size="23.2">●</tspan><tspan dy="1.1">428)</tspan></text>
<text transform="translate(1076.6 1155.2) rotate(-90)" font-size="27.5" textLength="76.4" lengthAdjust="spacingAndGlyphs">(<tspan dy="-1.1" font-size="23.6">●</tspan><tspan dy="1.1">088)</tspan></text>
<text transform="translate(1108.2 1121.9) rotate(-90)" font-size="27.5" textLength="74.7" lengthAdjust="spacingAndGlyphs">(<tspan dy="2.8" font-size="33">*</tspan><tspan dy="-2.8">111)</tspan></text>
<text transform="translate(1125.5 1160) rotate(-90)" font-size="23.5" textLength="77.4" lengthAdjust="spacingAndGlyphs">(<tspan dy="2.4" font-size="28.2">*</tspan><tspan dy="-2.4">4814)</tspan></text>
<text transform="translate(1156.4 1156.5) rotate(-90)" font-size="27.5" textLength="91.2" lengthAdjust="spacingAndGlyphs">(<tspan dy="-1.1" font-size="23.6">●</tspan><tspan dy="1.1">6618)</tspan></text>
<text transform="translate(1209.6 1026.4) rotate(-90)" font-size="27.5" textLength="76.5" lengthAdjust="spacingAndGlyphs">(<tspan dy="2.8" font-size="33">*</tspan><tspan dy="-2.8">220)</tspan></text>
<text transform="translate(1273.6 742) rotate(-90)" font-size="27.5" textLength="76.2" lengthAdjust="spacingAndGlyphs">(<tspan dy="2.8" font-size="33">*</tspan><tspan dy="-2.8">311)</tspan></text>
<text transform="translate(1320.3 1063.8) rotate(-90)" font-size="27.5" textLength="75.8" lengthAdjust="spacingAndGlyphs">(<tspan dy="2.8" font-size="33">*</tspan><tspan dy="-2.8">400)</tspan></text>
<text transform="translate(1406.9 1144.2) rotate(-90)" font-size="27.5" textLength="77.2" lengthAdjust="spacingAndGlyphs">(<tspan dy="2.8" font-size="33">*</tspan><tspan dy="-2.8">422)</tspan></text>
<text transform="translate(1437 1084.7) rotate(-90)" font-size="27.5" textLength="75.8" lengthAdjust="spacingAndGlyphs">(<tspan dy="2.8" font-size="33">*</tspan><tspan dy="-2.8">511)</tspan></text>
<text transform="translate(1486.5 1034.4) rotate(-90)" font-size="27.5" textLength="77" lengthAdjust="spacingAndGlyphs">(<tspan dy="2.8" font-size="33">*</tspan><tspan dy="-2.8">440)</tspan></text>
<text x="1569" y="735.5" font-size="54" font-weight="bold" fill="#ff0000">c</text>
<text x="1433.9" y="789.7" font-size="26.9"><tspan dy="-1.1" font-size="23.1">●</tspan></text>
<text x="1454.1" y="789.7" font-size="26.9">MIL-100(Fe)</text>
<text x="1435.3" y="829.6" font-size="24.6"><tspan dy="2.5" font-size="29.5">*</tspan></text>
<text x="1456.9" y="827.7" font-size="24.6">Fe3O4</text>
</g>
<g id="pe">
<rect x="289.1" y="1344.3" width="1051.4" height="531" fill="none" stroke="#1c1c1c" stroke-width="1.6"/>
<path d="M289.1 1875.3v17.5M420.5 1875.3v17.5M552 1875.3v17.5M683.4 1875.3v17.5M814.8 1875.3v17.5M946.2 1875.3v17.5M1077.7 1875.3v17.5M1209.1 1875.3v17.5M1340.5 1875.3v17.5M289.1 1875.3h-17.5M289.1 1808.9h-17.5M289.1 1742.5h-17.5M289.1 1676.2h-17.5M289.1 1609.8h-17.5M289.1 1543.4h-17.5M289.1 1477h-17.5M289.1 1410.7h-17.5M289.1 1344.3h-17.5" stroke="#1c1c1c" stroke-width="1.6" fill="none"/>
<g font-size="39" text-anchor="end">
<text x="259.9" y="1886.2">0</text>
<text x="259.9" y="1819.8">50</text>
<text x="259.9" y="1753.4">100</text>
<text x="259.9" y="1687.1">150</text>
<text x="259.9" y="1620.7">200</text>
<text x="259.9" y="1554.3">250</text>
<text x="259.9" y="1487.9">300</text>
<text x="259.9" y="1421.6">350</text>
<text x="259.9" y="1355.2">400</text>
</g>
<g font-size="42.5" text-anchor="middle">
<text x="289.1" y="1936">0</text>
<text x="420.5" y="1936">10</text>
<text x="552" y="1936">20</text>
<text x="683.4" y="1936">30</text>
<text x="814.8" y="1936">40</text>
<text x="946.2" y="1936">50</text>
<text x="1077.7" y="1936">60</text>
<text x="1209.1" y="1936">70</text>
<text x="1340.5" y="1936">80</text>
</g>
<polyline points="323.1,1731 323.2,1722.3 323.3,1748.1 323.5,1729.8 323.6,1809.3 323.7,1815.1 323.8,1832.5 323.9,1785 324,1797.1 324.1,1795.2 324.2,1738.6 324.3,1778.4 324.4,1797.1 324.5,1767.5 324.6,1770 324.7,1794.1 324.8,1809.8 324.9,1763.2 325,1764.5 325.1,1737.2 325.2,1752.6 325.3,1794.1 325.5,1744.9 325.6,1730.6 325.7,1753.1 325.8,1739 325.9,1734.3 326,1743.2 326.1,1712.7 326.2,1716.9 326.3,1714.4 326.4,1708.9 326.5,1707.2 326.6,1704.5 326.7,1705.4 326.8,1698.4 326.9,1701.4 327,1702.3 327.1,1707.1 327.2,1715.5 327.3,1717.7 327.4,1735.2 327.6,1725.1 327.7,1742.6 327.8,1738.4 327.9,1753 328,1749.6 328.1,1776 328.2,1740.2 328.3,1754.9 328.4,1791.5 328.5,1738.5 328.6,1779.4 328.7,1765.4 328.8,1776 328.9,1799.3 329,1779.9 329.1,1837.3 329.2,1754.3 329.3,1805.4 329.4,1762.1 329.6,1775.5 329.7,1764.8 329.8,1827.7 329.9,1735.6 330,1810.5 330.1,1811.2 330.2,1820.3 330.3,1798.7 330.4,1843.4 330.5,1750.1 330.6,1819.4 330.7,1792.7 330.8,1826.4 330.9,1835.2 331,1816.8 331.1,1782.7 331.2,1800.1 331.3,1795.8 331.4,1819.6 331.6,1764.6 331.7,1847.8 331.8,1755.5 331.9,1800.7 332,1804.4 332.1,1796.6 332.2,1813.3 332.3,1820.8 332.4,1855.3 332.5,1798.3 332.6,1819.2 332.7,1792.3 332.8,1846.3 332.9,1774 333,1820.6 333.1,1761.2 333.2,1819.3 333.3,1805.9 333.4,1812.9 333.5,1811.4 333.7,1813.1 333.8,1806.7 333.9,1791.4 334,1815.2 334.1,1819.3 334.2,1797.9 334.3,1831.2 334.4,1820.1 334.5,1847.8 334.6,1798.2 334.7,1792.9 334.8,1806.7 334.9,1841.7 335,1794.9 335.1,1831.6 335.2,1802.5 335.3,1839.7 335.4,1787.8 335.5,1819.3 335.7,1800.2 335.8,1816.1 335.9,1822 336,1799.9 336.1,1833.5 336.2,1809.6 336.3,1820.6 336.4,1790.7 336.5,1808.1 336.6,1809.3 336.7,1774.8 336.8,1805.5 336.9,1827.5 337,1832.6 337.1,1811.9 337.2,1760.6 337.3,1825.2 337.4,1828.8 337.5,1815.9 337.6,1807.2 337.8,1812.8 337.9,1859.2 338,1813.3 338.1,1804.2 338.2,1780.1 338.3,1799.5 338.4,1817.3 338.5,1820 338.6,1809.7 338.7,1811.7 338.8,1836.2 338.9,1819.8 339,1854.4 339.1,1832.3 339.2,1821.6 339.3,1820 339.4,1769.3 339.5,1794.7 339.6,1835.1 339.8,1818.1 339.9,1796.1 340,1806.7 340.1,1805 340.2,1826.9 340.3,1800 340.4,1811.1 340.5,1794.8 340.6,1805.8 340.7,1797 340.8,1811.1 340.9,1822 341,1818.6 341.1,1810.4 341.2,1830.3 341.3,1852.5 341.4,1804.1 341.5,1836.1 341.6,1769.9 341.7,1816.3 341.9,1804.4 342,1812.3 342.1,1784.4 342.2,1778.5 342.3,1820.1 342.4,1815.9 342.5,1818.7 342.6,1828.9 342.7,1847.2 342.8,1793.7 342.9,1858.7 343,1830.1 343.1,1800.4 343.2,1821.4 343.3,1832 343.4,1812.3 343.5,1839 343.6,1826.7 343.7,1816.1 343.9,1850.3 344,1827.4 344.1,1812.1 344.2,1837.6 344.3,1798.6 344.4,1828.9 344.5,1795.2 344.6,1816.7 344.7,1795.7 344.8,1820.3 344.9,1846.6 345,1825 345.1,1797.8 345.2,1828.3 345.3,1825.8 345.4,1802.5 345.5,1816.9 345.6,1808.1 345.7,1792.2 345.8,1858.2 346,1812.8 346.1,1817.7 346.2,1805.1 346.3,1812.7 346.4,1810.5 346.5,1836.7 346.6,1828.3 346.7,1810.2 346.8,1804.2 346.9,1831 347,1824.9 347.1,1801.1 347.2,1795.6 347.3,1839 347.4,1816.1 347.5,1833.1 347.6,1827 347.7,1817 347.8,1822.2 348,1801 348.1,1824 348.2,1856.5 348.3,1809.4 348.4,1835.3 348.5,1815.2 348.6,1825.3 348.7,1826.1 348.8,1825.4 348.9,1857.7 349,1811.5 349.1,1813.1 349.2,1819.8 349.3,1804.8 349.4,1800.7 349.5,1821.2 349.6,1837.6 349.7,1834.3 349.8,1831.5 349.9,1825.1 350.1,1809 350.2,1829.8 350.3,1818.2 350.4,1817.5 350.5,1837 350.6,1843.2 350.7,1811.6 350.8,1827.8 350.9,1803.7 351,1843.8 351.1,1820.9 351.2,1833.9 351.3,1799.3 351.4,1829 351.5,1821.5 351.6,1829.1 351.7,1815.8 351.8,1795.5 351.9,1848.7 352.1,1819 352.2,1833.9 352.3,1790.1 352.4,1821.1 352.5,1796.9 352.6,1836 352.7,1815.3 352.8,1836 352.9,1840.8 353,1823.4 353.1,1827.2 353.2,1816 353.3,1797.1 353.4,1832.6 353.5,1820 353.6,1815.4 353.7,1810.7 353.8,1818.8 353.9,1823.3 354.1,1821.8 354.2,1815.6 354.3,1823.7 354.4,1834.3 354.5,1823.2 354.6,1840.5 354.7,1837.7 354.8,1838.6 354.8,1811.5 355.1,1798.3 355.3,1828.8 355.6,1826.8 355.9,1797.3 356.1,1815.2 356.4,1817.2 356.7,1845.9 356.9,1819.9 357.2,1824.1 357.4,1819 357.7,1830.3 358,1845.2 358.2,1826.4 358.5,1816.5 358.8,1841.5 359,1802.3 359.3,1830.4 359.5,1826.3 359.8,1831.3 360.1,1841.4 360.3,1806.5 360.6,1826.8 360.9,1830.9 361.1,1832.9 361.4,1846.2 361.6,1854.1 361.9,1825.4 362.2,1822.5 362.4,1833.4 362.7,1824.8 363,1819.8 363.2,1826.1 363.5,1827.9 363.7,1823.5 364,1824.5 364.3,1807.3 364.5,1830.7 364.8,1803.3 365.1,1829.2 365.3,1819.4 365.6,1807.5 365.9,1812.6 366.1,1824 366.4,1840.8 366.6,1856.5 366.9,1846.9 367.2,1822.4 367.4,1848.1 367.7,1831.8 368,1810.3 368.2,1832 368.5,1822.4 368.7,1831.9 369,1847.5 369.3,1827 369.5,1829.9 369.8,1835.8 370.1,1810.7 370.3,1839.7 370.6,1823.2 370.8,1826.5 371.1,1843.7 371.4,1831.8 371.6,1832.2 371.9,1842.1 372.2,1833.7 372.4,1834.2 372.7,1816.9 372.9,1829.1 373.2,1834.9 373.5,1850.7 373.7,1841.3 374,1818.4 374.3,1834.2 374.5,1829.1 374.8,1824.4 375.1,1810.7 375.3,1823.6 375.6,1846.5 375.8,1847.9 376.1,1815.6 376.4,1832.1 376.6,1836.7 376.9,1832.9 377.2,1811.4 377.4,1814.5 377.7,1826.1 377.9,1814.1 378.2,1829.3 378.5,1817.4 378.7,1820.2 379,1831.6 379.3,1846.3 379.5,1828.5 379.8,1831.4 380,1823 380.3,1833.3 380.6,1818 380.8,1839.6 381.1,1812.7 381.4,1827.7 381.6,1820.3 381.9,1821 382.1,1826 382.4,1831 382.7,1812 382.9,1824.6 383.2,1831.1 383.5,1823.9 383.7,1823.9 384,1815.7 384.3,1833.7 384.5,1830.5 384.8,1850.5 385,1827.8 385.3,1831.3 385.6,1816.9 385.8,1834.9 386.1,1838.6 386.4,1830.4 386.6,1831.5 386.9,1838.3 387.1,1831.6 387.4,1823.8 387.7,1824.6 387.9,1834 388.2,1837.9 388.5,1826.9 388.7,1821.9 389,1824.8 389.2,1830.2 389.5,1837.3 389.8,1826.9 390,1839.1 390.3,1821.3 390.6,1823.9 390.8,1819.5 391.1,1827 391.3,1815 391.6,1821.6 391.9,1830.3 392.1,1830.2 392.4,1828.7 392.7,1828.3 392.9,1811.6 393.2,1823.8 393.5,1815.8 393.7,1824.7 394,1831.7 394.2,1821.5 394.5,1835.8 394.8,1830.1 395,1841.2 395.3,1819.1 395.6,1820.1 395.8,1835.8 396.1,1827.2 396.3,1815.4 396.6,1826.4 396.9,1820.4 397.1,1827.3 397.4,1818.7 397.7,1818.9 397.9,1817.8 398.2,1828.3 398.4,1834.3 398.7,1821 399,1823.5 399.2,1805.3 399.5,1832.6 399.8,1814.8 400,1831.1 400.3,1827.6 400.5,1824.5 400.8,1826.8 401.1,1826.6 401.3,1827.6 401.6,1829.8 401.9,1824.4 402.1,1849.2 402.4,1830.1 402.7,1831.3 402.9,1824.5 403.2,1840.8 403.4,1820.1 403.7,1836.3 404,1838.5 404.2,1821.4 404.5,1823.7 404.8,1819.7 405,1823.6 405.3,1823.4 405.5,1823.4 405.8,1835.1 406.1,1829 406.3,1826 406.6,1837 406.9,1825.6 407.1,1836 407.4,1829.1 407.6,1843.2 407.9,1832.5 408.2,1824.6 408.4,1827.8 408.7,1822.7 409,1826.1 409.2,1834.4 409.5,1828.2 409.7,1849.5 410,1827.8 410.3,1829.2 410.5,1839.5 410.8,1826.9 411.1,1842.6 411.3,1839.5 411.6,1831.5 411.9,1839.1 412.1,1835.9 412.4,1836.9 412.6,1838.2 412.9,1830.8 413.2,1830 413.4,1826.9 413.7,1836 414,1847.3 414.2,1841.7 414.5,1831.3 414.7,1831.8 415,1838.4 415.3,1829.2 415.5,1845.7 415.8,1827.2 416.1,1839.6 416.3,1828.7 416.6,1843.4 416.8,1848.7 417.1,1840 417.4,1827.2 417.6,1839.5 417.9,1846.1 418.2,1828.6 418.4,1836.6 418.7,1837.5 418.9,1850.7 419.2,1817.7 419.5,1830.3 419.7,1838.9 420,1830.3 420.3,1843.1 420.5,1831.8 420.8,1820.4 421.1,1834.4 421.3,1835.8 421.6,1831 421.8,1839.4 422.1,1845.3 422.4,1827.6 422.6,1848.1 422.9,1840.1 423.2,1841.1 423.4,1836.9 423.7,1838 423.9,1821.5 424.2,1840.1 424.5,1842.3 424.7,1824.2 425,1826 425.3,1835.4 425.5,1846.5 425.8,1835.1 426,1831.1 426.3,1827.3 426.6,1824.6 426.8,1832.9 427.1,1843.7 427.4,1816.9 427.6,1832.1 427.9,1830.9 428.1,1841 428.4,1838.1 428.7,1840.1 428.9,1833.9 429.2,1839.1 429.5,1842.1 429.7,1835.3 430,1833.8 430.3,1825.1 430.5,1835.6 430.8,1823.6 431,1847 431.3,1828.1 431.6,1852.5 431.8,1831.7 432.1,1828.5 432.4,1844.1 432.6,1837 432.9,1841.9 433.1,1831.7 433.4,1840.7 433.7,1839.8 433.9,1837.5 434.2,1848.1 434.5,1841.3 434.7,1832.6 435,1835 435.2,1839.9 435.5,1840.2 435.8,1839.6 436,1846.4 436.3,1832.8 436.6,1844.2 436.8,1851.2 437.1,1841.9 437.3,1833.8 437.6,1829.8 437.9,1831.3 438.1,1834.1 438.4,1832.6 438.7,1840.8 438.9,1843.3 439.2,1843.1 439.5,1846.7 439.7,1821 440,1837 440.2,1843.1 440.5,1835.8 440.8,1830.5 441,1845.5 441.3,1836.3 441.6,1850.1 441.8,1830 442.1,1835.9 442.3,1838.2 442.6,1854.7 442.9,1841.5 443.1,1827.3 443.4,1838.8 443.7,1851.9 443.9,1829 444.2,1855.9 444.4,1835.4 444.7,1835.7 445,1844.3 445.2,1843.3 445.5,1832.6 445.8,1848.9 446,1829.7 446.3,1838.3 446.5,1847.3 446.8,1821.5 447.1,1839.8 447.3,1831 447.6,1845 447.9,1831.1 448.1,1840.9 448.4,1838.7 448.6,1836.8 448.9,1823.4 449.2,1827.7 449.4,1834.8 449.7,1852.3 450,1843.8 450.2,1831.1 450.5,1838.5 450.8,1833.7 451,1838.6 451.3,1823.9 451.5,1850.6 451.8,1830.9 452.1,1846.1 452.3,1828.2 452.6,1838.9 452.9,1829 453.1,1826.4 453.4,1842.4 453.6,1836.2 453.9,1830.5 454.2,1836.6 454.4,1840.7 454.7,1821.9 455,1835.5 455.2,1850.2 455.5,1831.5 455.7,1834 456,1836.7 456.3,1843.5 456.5,1839.7 456.8,1835 457.1,1826.7 457.3,1845.5 457.6,1835.8 457.8,1850.7 458.1,1828.3 458.4,1842.9 458.6,1844.4 458.9,1849.4 459.2,1827.9 459.4,1837 459.7,1844.3 460,1825.2 460.2,1831.8 460.5,1831.7 460.7,1850.3 461,1831.8 461.3,1837.2 461.5,1841.6 461.8,1824 462.1,1840.3 462.3,1842.7 462.6,1828.5 462.8,1842.9 463.1,1835.1 463.4,1850.3 463.6,1824.1 463.9,1837.7 464.2,1840 464.4,1829.1 464.7,1838.3 464.9,1835.5 465.2,1836.7 465.5,1833.2 465.7,1842.2 466,1828.4 466.3,1839.1 466.5,1832.5 466.8,1830.3 467,1828.8 467.3,1837.4 467.6,1835.8 467.8,1830 468.1,1856.9 468.4,1837.6 468.6,1839.7 468.9,1849.1 469.2,1846.9 469.4,1841.3 469.7,1847 469.9,1830.1 470.2,1830.3 470.5,1843.4 470.7,1845.8 471,1835.5 471.3,1847.8 471.5,1844.5 471.8,1854.8 472,1838.9 472.3,1832.5 472.6,1835.9 472.8,1836.7 473.1,1832.1 473.4,1845 473.6,1839.1 473.9,1824.5 474.1,1838.9 474.4,1846.7 474.7,1836.6 474.9,1825.3 475.2,1830.4 475.5,1841.6 475.7,1824.3 476,1844.4 476.2,1838.6 476.5,1834.6 476.8,1838.1 477,1844.4 477.3,1826 477.6,1831.7 477.8,1846.2 478.1,1826.4 478.4,1841.4 478.6,1831.4 478.9,1846.7 479.1,1833.6 479.4,1844.9 479.7,1844.2 479.9,1819.5 480.2,1828.7 480.5,1826.1 480.7,1835.4 481,1836.1 481.2,1841.2 481.5,1840 481.8,1842.4 482,1840.6 482.3,1816.1 482.6,1835.8 482.8,1846.8 483.1,1835 483.3,1839.5 483.6,1828.4 483.9,1847.6 484.1,1834.5 484.4,1830.7 484.7,1825.6 484.9,1827.4 485.2,1833.8 485.4,1833.6 485.7,1848.9 486,1830.1 486.2,1839.5 486.5,1847.4 486.8,1841.2 487,1834.3 487.3,1842.5 487.6,1835.4 487.8,1833 488.1,1830.5 488.3,1844.3 488.6,1830.8 488.9,1850.4 489.1,1831.4 489.4,1832.9 489.7,1834.5 489.9,1829.2 490.2,1846.2 490.4,1839 490.7,1847.4 491,1849.4 491.2,1834.9 491.5,1829.8 491.8,1846.1 492,1848.6 492.3,1833.5 492.5,1816.5 492.8,1843 493.1,1839.1 493.3,1844 493.6,1834.3 493.9,1832 494.1,1837.7 494.4,1840.2 494.6,1844.7 494.9,1831.1 495.2,1827.2 495.4,1845.6 495.7,1829.3 496,1851.5 496.2,1836.2 496.5,1822.8 496.8,1847 497,1844.2 497.3,1850 497.5,1838.3 497.8,1842.9 498.1,1839.7 498.3,1824.6 498.6,1824.1 498.9,1840 499.1,1853.5 499.4,1844.2 499.6,1837.1 499.9,1837 500.2,1828.3 500.4,1830 500.7,1831.4 501,1833.7 501.2,1836.7 501.5,1848.6 501.7,1840.9 502,1844.4 502.3,1849.3 502.5,1845.3 502.8,1839.8 503.1,1835.2 503.3,1846 503.6,1840.7 503.8,1825.2 504.1,1830.1 504.4,1839.5 504.6,1835.4 504.9,1831.8 505.2,1838 505.4,1845.7 505.7,1831.7 506,1824.8 506.2,1833.2 506.5,1842 506.7,1845.1 507,1833 507.3,1826.6 507.5,1829.9 507.8,1832.5 508.1,1832.3 508.3,1840.7 508.6,1843.9 508.8,1830.1 509.1,1839.4 509.4,1822.5 509.6,1846.8 509.9,1829.9 510.2,1831.5 510.4,1843.7 510.7,1845.9 510.9,1844.3 511.2,1841.5 511.5,1845 511.7,1821.6 512,1834 512.3,1836.6 512.5,1853.3 512.8,1825.5 513,1835.6 513.3,1826.3 513.6,1840.3 513.8,1824.4 514.1,1838.9 514.4,1833.9 514.6,1834.8 514.9,1839 515.2,1851.4 515.4,1832.4 515.7,1829.8 515.9,1832.8 516.2,1844.6 516.5,1838.2 516.7,1834.3 517,1839.8 517.3,1834.9 517.5,1831.8 517.8,1838.5 518,1844.6 518.3,1838.7 518.6,1828.4 518.8,1831.6 519.1,1841.1 519.4,1833.2 519.6,1829.9 519.9,1849.2 520.1,1838.7 520.4,1828.8 520.7,1840.3 520.9,1847.9 521.2,1841.4 521.5,1828.4 521.7,1838.8 522,1838.9 522.2,1848.4 522.5,1830.1 522.8,1826.9 523,1834 523.3,1837.9 523.6,1833.9 523.8,1839.8 524.1,1836 524.4,1832.3 524.6,1823.7 524.9,1841.3 525.1,1838.6 525.4,1825.8 525.7,1827.7 525.9,1832.6 526.2,1821.1 526.5,1828.1 526.7,1837.8 527,1835.4 527.2,1821 527.5,1829.7 527.8,1828.8 528,1825.4 528.3,1816.7 528.6,1820.8 528.8,1817.9 529.1,1810.1 529.3,1804.4 529.6,1800.4 529.9,1798.7 530.1,1796.2 530.4,1795.7 530.7,1796.7 530.9,1804.3 531.2,1805.3 531.4,1809.7 531.7,1809.1 532,1805.1 532.2,1811 532.5,1827.8 532.8,1826.6 533,1816.8 533.3,1833.9 533.6,1835.1 533.8,1832 534.1,1826.1 534.3,1840.2 534.6,1833.4 534.9,1824.2 535.1,1822 535.4,1829.2 535.7,1831.7 535.9,1834.2 536.2,1833.3 536.4,1841.6 536.7,1828.7 537,1838.6 537.2,1835 537.5,1838 537.8,1838 538,1844.1 538.3,1833.2 538.5,1839.3 538.8,1834.3 539.1,1826.5 539.3,1838 539.6,1846.1 539.9,1837.1 540.1,1847.6 540.4,1830.5 540.6,1842.9 540.9,1837.9 541.2,1841.5 541.4,1840.4 541.7,1827.9 542,1842.4 542.2,1840.1 542.5,1849.1 542.8,1827.5 543,1831.2 543.3,1837.3 543.5,1840.1 543.8,1833.9 544.1,1830.3 544.3,1842.9 544.6,1841.9 544.9,1831.1 545.1,1830.6 545.4,1847.2 545.6,1833.7 545.9,1841 546.2,1838.8 546.4,1827.2 546.7,1836.7 547,1833.9 547.2,1832.3 547.5,1838.4 547.7,1836.2 548,1834.4 548.3,1837.4 548.5,1834.1 548.8,1835.9 549.1,1844.7 549.3,1849.7 549.6,1842.5 549.8,1823.9 550.1,1846.2 550.4,1835.1 550.6,1827.2 550.9,1823.7 551.2,1847.2 551.4,1830.3 551.7,1849.3 551.9,1838.6 552.2,1834.1 552.5,1834.2 552.7,1834.6 553,1831.7 553.3,1855.9 553.5,1830 553.8,1831.6 554.1,1843.5 554.3,1841.4 554.6,1827.8 554.8,1838.5 555.1,1839 555.4,1847.7 555.6,1844.3 555.9,1841.1 556.2,1841.5 556.4,1837.9 556.7,1842.9 556.9,1841.2 557.2,1844.5 557.5,1828.8 557.7,1835.2 558,1840.2 558.3,1840 558.5,1842 558.8,1828.5 559,1834.1 559.3,1844.7 559.6,1839.4 559.8,1833.1 560.1,1846.7 560.4,1831.7 560.6,1845.5 560.9,1844.2 561.1,1829.5 561.4,1845.1 561.7,1842.7 561.9,1824.7 562.2,1834.4 562.5,1842.8 562.7,1840.9 563,1837.6 563.3,1833.1 563.5,1827.2 563.8,1842.8 564,1833.2 564.3,1844.1 564.6,1827.1 564.8,1823.6 565.1,1848.1 565.4,1835.1 565.6,1826.8 565.9,1831.8 566.1,1835.1 566.4,1843.8 566.7,1833.5 566.9,1848.6 567.2,1829.1 567.5,1821.7 567.7,1836.3 568,1832.8 568.2,1836.2 568.5,1833.1 568.8,1827.3 569,1842.1 569.3,1839.3 569.6,1840.9 569.8,1832 570.1,1842.3 570.3,1834.1 570.6,1838.8 570.9,1841.7 571.1,1835.4 571.4,1825.6 571.7,1840.2 571.9,1832.4 572.2,1845.6 572.5,1834.1 572.7,1839.4 573,1836.8 573.2,1848.6 573.5,1832.6 573.8,1839.1 574,1826.4 574.3,1832.8 574.6,1849.1 574.8,1836.8 575.1,1845.3 575.3,1833.9 575.6,1834.4 575.9,1847 576.1,1839 576.4,1847.5 576.7,1827 576.9,1848.4 577.2,1839.9 577.4,1833.9 577.7,1820.3 578,1842.7 578.2,1841.2 578.5,1849.5 578.8,1828.7 579,1835.3 579.3,1837.5 579.5,1833.4 579.8,1848 580.1,1845.1 580.3,1829.6 580.6,1839.4 580.9,1832.3 581.1,1841.1 581.4,1844.4 581.7,1833.2 581.9,1832.8 582.2,1843.4 582.4,1842.6 582.7,1829.1 583,1832.2 583.2,1840.8 583.5,1838.3 583.8,1837.5 584,1849.2 584.3,1838.8 584.5,1823.3 584.8,1831.4 585.1,1842.2 585.3,1834.5 585.6,1840.9 585.9,1837.6 586.1,1828.2 586.4,1827.9 586.6,1834.1 586.9,1840.1 587.2,1825 587.4,1835.1 587.7,1829.5 588,1840.5 588.2,1839.6 588.5,1834.9 588.7,1830.8 589,1830.6 589.3,1843.6 589.5,1844.3 589.8,1831.2 590.1,1843.6 590.3,1837.2 590.6,1834.8 590.9,1836.4 591.1,1841.7 591.4,1840.8 591.6,1835.8 591.9,1841.3 592.2,1828.9 592.4,1832.9 592.7,1832.6 593,1825.5 593.2,1845.8 593.5,1839.5 593.7,1832.7 594,1835.2 594.3,1845.7 594.5,1823.7 594.8,1829.9 595.1,1826.1 595.3,1838.6 595.6,1839.6 595.8,1841.3 596.1,1837.4 596.4,1829.9 596.6,1835.3 596.9,1825.6 597.2,1843.3 597.4,1835.1 597.7,1827.9 597.9,1838.5 598.2,1832.1 598.5,1829.9 598.7,1836.3 599,1835.4 599.3,1826.5 599.5,1825.8 599.8,1831.9 600.1,1827.1 600.3,1829.2 600.6,1841.9 600.8,1833.3 601.1,1821.4 601.4,1833.2 601.6,1827.1 601.9,1832.7 602.2,1823.3 602.4,1833.2 602.7,1813.4 602.9,1831.2 603.2,1821 603.5,1832.1 603.7,1830 604,1824.1 604.3,1833.6 604.5,1829.6 604.8,1823.8 605,1834 605.3,1818.1 605.6,1832.8 605.8,1821.1 606.1,1843.5 606.4,1818.8 606.6,1831.4 606.9,1813.3 607.1,1811.9 607.4,1823.7 607.7,1826.8 607.9,1814 608.2,1822.3 608.5,1810.9 608.7,1811.8 609,1816 609.3,1802.2 609.5,1825.2 609.8,1822.2 610,1805.4 610.3,1802.1 610.6,1806.2 610.8,1805.6 611.1,1817.3 611.4,1799 611.6,1808.8 611.9,1793 612.1,1798.1 612.4,1805.7 612.7,1797.3 612.9,1804.1 613.2,1795.6 613.5,1789.2 613.7,1788.6 614,1799 614.2,1792 614.5,1779.8 614.8,1785.6 615,1764.9 615.3,1765.4 615.6,1766.4 615.8,1763.6 616.1,1752.7 616.3,1759.5 616.6,1747.1 616.9,1747.2 617.1,1744.6 617.4,1738.3 617.7,1743.4 617.9,1737 618.2,1733.5 618.5,1733.4 618.7,1729.6 619,1729.7 619.2,1731.5 619.5,1731.9 619.8,1734.2 620,1739.3 620.3,1731 620.6,1737.5 620.8,1743.7 621.1,1749.6 621.3,1754 621.6,1744.5 621.9,1747.1 622.1,1773.8 622.4,1754.6 622.7,1767.2 622.9,1763.2 623.2,1774.8 623.4,1771.3 623.7,1782 624,1796.1 624.2,1798.4 624.5,1788.2 624.8,1788 625,1800.6 625.3,1800.4 625.5,1791.7 625.8,1800.2 626.1,1794.9 626.3,1797.7 626.6,1796.4 626.9,1810.7 627.1,1806.8 627.4,1815.1 627.7,1813.9 627.9,1814.2 628.2,1821.3 628.4,1817.7 628.7,1818.6 629,1822.5 629.2,1812.8 629.5,1822.4 629.8,1823.1 630,1810.7 630.3,1827.5 630.5,1820.7 630.8,1810.7 631.1,1825.2 631.3,1820.3 631.6,1816.3 631.9,1816.2 632.1,1827.8 632.4,1818.1 632.6,1834.6 632.9,1830.2 633.2,1822.1 633.4,1835 633.7,1835.1 634,1824.2 634.2,1817.9 634.5,1836.6 634.7,1822.8 635,1833.2 635.3,1822.9 635.5,1835.1 635.8,1817 636.1,1837.5 636.3,1830.1 636.6,1827.1 636.9,1843 637.1,1833.2 637.4,1834.7 637.6,1830.1 637.9,1825.1 638.2,1836.4 638.4,1824.6 638.7,1829.2 639,1828.2 639.2,1817.8 639.5,1833.1 639.7,1829.1 640,1817.4 640.3,1837 640.5,1820.9 640.8,1817.1 641.1,1829.2 641.3,1829.5 641.6,1828.5 641.8,1825.6 642.1,1818.6 642.4,1807.3 642.6,1827.7 642.9,1811.9 643.2,1812.7 643.4,1811.8 643.7,1806.5 643.9,1804.2 644.2,1800.1 644.5,1798.2 644.7,1798.9 645,1799.3 645.3,1802.7 645.5,1804.9 645.8,1810.6 646.1,1818.2 646.3,1813.6 646.6,1822.9 646.8,1819.8 647.1,1821.1 647.4,1822 647.6,1827.2 647.9,1819.2 648.2,1834.3 648.4,1826.5 648.7,1841.1 648.9,1834.3 649.2,1827.6 649.5,1826 649.7,1826.7 650,1828.6 650.3,1843.6 650.5,1834.6 650.8,1827.6 651,1826 651.3,1838.6 651.6,1830.3 651.8,1835.3 652.1,1834.2 652.4,1837.3 652.6,1827.2 652.9,1837.2 653.1,1836.8 653.4,1835.3 653.7,1837.9 653.9,1837.9 654.2,1836.4 654.5,1838.9 654.7,1849.7 655,1827.6 655.3,1827.6 655.5,1841.6 655.8,1849.6 656,1823.4 656.3,1834.7 656.6,1819.7 656.8,1830.2 657.1,1824.3 657.4,1831.5 657.6,1838.3 657.9,1833.7 658.1,1836 658.4,1830 658.7,1841.6 658.9,1842.3 659.2,1843.8 659.5,1824.5 659.7,1837.6 660,1835.1 660.2,1840.4 660.5,1832.5 660.8,1832.6 661,1841.2 661.3,1832.9 661.6,1831.3 661.8,1840 662.1,1825.4 662.3,1839.5 662.6,1841.9 662.9,1826.6 663.1,1840.2 663.4,1837.4 663.7,1839.5 663.9,1823.6 664.2,1829.5 664.4,1832.8 664.7,1843.4 665,1833.5 665.2,1840 665.5,1825.9 665.8,1839 666,1838.8 666.3,1837.1 666.6,1843.2 666.8,1824.6 667.1,1833.9 667.3,1834.2 667.6,1826.4 667.9,1821.8 668.1,1841.6 668.4,1828.8 668.7,1828.6 668.9,1826 669.2,1843.2 669.4,1819.3 669.7,1834.2 670,1834.5 670.2,1831.4 670.5,1834 670.8,1828.2 671,1843.6 671.3,1836 671.5,1821.7 671.8,1843.8 672.1,1830 672.3,1834.6 672.6,1837.4 672.9,1835 673.1,1825 673.4,1825.5 673.6,1823.9 673.9,1832.4 674.2,1832.7 674.4,1836.8 674.7,1840.1 675,1822.8 675.2,1823.8 675.5,1822.5 675.8,1824 676,1829.9 676.3,1828.6 676.5,1830 676.8,1846.1 677.1,1835.9 677.3,1809.3 677.6,1819.9 677.9,1822.9 678.1,1828.7 678.4,1826.8 678.6,1827.8 678.9,1825.7 679.2,1817.8 679.4,1814.7 679.7,1811.5 680,1803.6 680.2,1808 680.5,1817.6 680.7,1798.1 681,1801.5 681.3,1805.9 681.5,1797.5 681.8,1777.1 682.1,1767.8 682.3,1762.5 682.6,1771.1 682.8,1755 683.1,1754.4 683.4,1743.8 683.6,1729.7 683.9,1716.1 684.2,1714 684.4,1706.2 684.7,1703.2 685,1704.7 685.2,1714.1 685.5,1718.3 685.7,1727.5 686,1741.7 686.3,1760.9 686.5,1766 686.8,1761.7 687.1,1786.4 687.3,1780.1 687.6,1803.4 687.8,1793.5 688.1,1806.7 688.4,1813.2 688.6,1807.3 688.9,1813.7 689.2,1817 689.4,1821.6 689.7,1809 689.9,1814.5 690.2,1827.4 690.5,1830.6 690.7,1821.8 691,1816.9 691.3,1833 691.5,1819.3 691.8,1823.7 692,1819.9 692.3,1823 692.6,1827.1 692.8,1823.3 693.1,1819.8 693.4,1837.8 693.6,1820.9 693.9,1821.5 694.2,1820 694.4,1842.7 694.7,1835.7 694.9,1830.9 695.2,1831 695.5,1837.2 695.7,1839 696,1838.2 696.3,1830 696.5,1843 696.8,1844.2 697,1839.5 697.3,1828 697.6,1823.9 697.8,1839.5 698.1,1835.9 698.4,1830.3 698.6,1827.1 698.9,1842.4 699.1,1833.3 699.4,1828.6 699.7,1824.9 699.9,1831.8 700.2,1832.6 700.5,1826.5 700.7,1832.8 701,1840.6 701.2,1824.9 701.5,1840.6 701.8,1832.5 702,1837.7 702.3,1830.8 702.6,1831.4 702.8,1829.2 703.1,1846.8 703.4,1831.1 703.6,1829.1 703.9,1834.4 704.1,1832.1 704.4,1827.2 704.7,1840.9 704.9,1838.9 705.2,1829.3 705.5,1836 705.7,1825.7 706,1835.5 706.2,1826.8 706.5,1837.5 706.8,1830.4 707,1842.2 707.3,1821.8 707.6,1841.6 707.8,1848 708.1,1830.8 708.3,1836.3 708.6,1824.7 708.9,1836.4 709.1,1841.8 709.4,1834.9 709.7,1843.9 709.9,1837.4 710.2,1842.9 710.4,1835.4 710.7,1830 711,1837.2 711.2,1846.2 711.5,1837.6 711.8,1847.6 712,1832.1 712.3,1833.3 712.6,1843 712.8,1832.4 713.1,1833.7 713.3,1832.3 713.6,1841.3 713.9,1828.2 714.1,1834.2 714.4,1833 714.7,1840.4 714.9,1828.3 715.2,1839.1 715.4,1838 715.7,1827.3 716,1839.7 716.2,1841.7 716.5,1827.5 716.8,1829.1 717,1835.7 717.3,1839.3 717.5,1840.9 717.8,1832.2 718.1,1838.7 718.3,1836.8 718.6,1839.5 718.9,1835.8 719.1,1822.1 719.4,1842.6 719.6,1832.4 719.9,1840.8 720.2,1832.3 720.4,1831 720.7,1836.7 721,1839.8 721.2,1833.5 721.5,1833.5 721.8,1842 722,1826.6 722.3,1839.6 722.5,1829.3 722.8,1833.9 723.1,1834.1 723.3,1830.7 723.6,1823.9 723.9,1828.9 724.1,1833.8 724.4,1825.2 724.6,1833.9 724.9,1826.5 725.2,1833.7 725.4,1835.9 725.7,1827.4 726,1827 726.2,1825.6 726.5,1814.2 726.7,1835.3 727,1822.8 727.3,1842.9 727.5,1831.3 727.8,1844.3 728.1,1826.7 728.3,1843.1 728.6,1829.7 728.8,1824.7 729.1,1833.5 729.4,1838.5 729.6,1837.3 729.9,1841 730.2,1835.3 730.4,1830.7 730.7,1840 731,1839.7 731.2,1834.7 731.5,1828.5 731.7,1823.1 732,1832.4 732.3,1840.7 732.5,1829.7 732.8,1830.9 733.1,1837.7 733.3,1834.4 733.6,1836.4 733.8,1833.6 734.1,1828.1 734.4,1840.4 734.6,1818.7 734.9,1830.4 735.2,1835.4 735.4,1837.6 735.7,1827.1 735.9,1833.1 736.2,1823.8 736.5,1833.8 736.7,1833.7 737,1826.2 737.3,1823.7 737.5,1843.5 737.8,1842.1 738,1819.5 738.3,1823.8 738.6,1841.8 738.8,1814.5 739.1,1829.4 739.4,1822.8 739.6,1822.2 739.9,1825.4 740.2,1820.4 740.4,1824.1 740.7,1823.5 740.9,1820.1 741.2,1814.7 741.5,1808.8 741.7,1835.1 742,1814.9 742.3,1815.1 742.5,1814.6 742.8,1814.9 743,1812.4 743.3,1821 743.6,1815 743.8,1819.5 744.1,1825.5 744.4,1818.4 744.6,1808.6 744.9,1807.8 745.1,1802.6 745.4,1806.6 745.7,1822.8 745.9,1816.5 746.2,1814.3 746.5,1814.7 746.7,1803.4 747,1801.6 747.2,1799.8 747.5,1810.1 747.8,1797.4 748,1800.5 748.3,1791.5 748.6,1796.3 748.8,1796.8 749.1,1780.4 749.4,1769.3 749.6,1775.3 749.9,1772.6 750.1,1775.9 750.4,1750.1 750.7,1744.1 750.9,1729.3 751.2,1739.5 751.5,1716.5 751.7,1725.4 752,1698.5 752.2,1690.3 752.5,1665.3 752.8,1641.5 753,1628 753.3,1610.9 753.6,1572.7 753.8,1564.6 754.1,1533.4 754.3,1499.2 754.6,1469.5 754.9,1445.2 755.1,1421.1 755.4,1407.8 755.7,1404.1 755.9,1409.4 756.2,1420.7 756.4,1439.9 756.7,1471.8 757,1501.2 757.2,1521.2 757.5,1562.3 757.8,1584 758,1620.4 758.3,1627.4 758.6,1652.9 758.8,1671.5 759.1,1699.4 759.3,1690.5 759.6,1710.4 759.9,1736.2 760.1,1734.8 760.4,1739.6 760.7,1738.7 760.9,1765.3 761.2,1761.5 761.4,1770.9 761.7,1767 762,1766.6 762.2,1772.8 762.5,1773.7 762.8,1799.1 763,1790.7 763.3,1788.3 763.5,1790 763.8,1790.6 764.1,1795.9 764.3,1789.9 764.6,1809.9 764.9,1807.1 765.1,1797.5 765.4,1796.5 765.6,1816.5 765.9,1811.3 766.2,1809.2 766.4,1806.1 766.7,1817.6 767,1813.1 767.2,1811.5 767.5,1806.8 767.7,1817.8 768,1818.2 768.3,1811 768.5,1820.7 768.8,1811.1 769.1,1813.8 769.3,1823.9 769.6,1811.5 769.9,1814.8 770.1,1813.8 770.4,1821.6 770.6,1812.7 770.9,1812.9 771.2,1818.4 771.4,1827 771.7,1829.5 772,1815.9 772.2,1806.8 772.5,1805.2 772.7,1807.5 773,1825.7 773.3,1810.7 773.5,1814 773.8,1815.3 774.1,1808.1 774.3,1810.9 774.6,1822.4 774.8,1811.8 775.1,1809.2 775.4,1821 775.6,1802.2 775.9,1814.9 776.2,1810.4 776.4,1812.9 776.7,1813.6 776.9,1816.1 777.2,1810.1 777.5,1816.9 777.7,1816.6 778,1817.6 778.3,1817.1 778.5,1814.4 778.8,1822 779.1,1812.7 779.3,1819.9 779.6,1819.1 779.8,1816.7 780.1,1810.7 780.4,1816.5 780.6,1826 780.9,1824.3 781.2,1809.2 781.4,1815.4 781.7,1822.7 781.9,1810.2 782.2,1832 782.5,1810.7 782.7,1824.1 783,1821.1 783.3,1819.3 783.5,1817.6 783.8,1825.3 784,1826.7 784.3,1829.4 784.6,1816.7 784.8,1827.6 785.1,1820.2 785.4,1830.1 785.6,1831.6 785.9,1827.2 786.1,1824.8 786.4,1832.4 786.7,1823.3 786.9,1829.5 787.2,1833.2 787.5,1817 787.7,1833.1 788,1830.3 788.3,1831.4 788.5,1837.3 788.8,1831.9 789,1838.5 789.3,1836.4 789.6,1817.3 789.8,1835.8 790.1,1823.9 790.4,1837.5 790.6,1834.9 790.9,1830.7 791.1,1831.5 791.4,1844.7 791.7,1826.8 791.9,1843.6 792.2,1831.9 792.5,1831.4 792.7,1837.2 793,1832.4 793.2,1830.9 793.5,1832.3 793.8,1837.4 794,1829.1 794.3,1831.2 794.6,1830.4 794.8,1838.8 795.1,1831.1 795.3,1831.5 795.6,1844.3 795.9,1842 796.1,1833.7 796.4,1838.6 796.7,1840.3 796.9,1833 797.2,1836.5 797.5,1837 797.7,1840.2 798,1829 798.2,1835.8 798.5,1843.7 798.8,1839.3 799,1830.2 799.3,1840 799.6,1846.4 799.8,1842.3 800.1,1840.4 800.3,1831.7 800.6,1832.7 800.9,1841.9 801.1,1837 801.4,1838.3 801.7,1836.9 801.9,1839.8 802.2,1838.3 802.4,1844.2 802.7,1834.2 803,1839.3 803.2,1829.6 803.5,1842.1 803.8,1832.7 804,1845 804.3,1833.7 804.5,1846.2 804.8,1842.3 805.1,1849.5 805.3,1843.2 805.6,1839.1 805.9,1834 806.1,1846.7 806.4,1833.8 806.7,1842.3 806.9,1844.9 807.2,1834.4 807.4,1838.6 807.7,1839.6 808,1843.4 808.2,1827.5 808.5,1840 808.8,1841.7 809,1823.6 809.3,1844 809.5,1838 809.8,1831.8 810.1,1850.1 810.3,1848.5 810.6,1836.5 810.9,1827.1 811.1,1845 811.4,1835.7 811.6,1838.4 811.9,1844 812.2,1834.2 812.4,1844 812.7,1836.9 813,1843.1 813.2,1844.1 813.5,1839.4 813.7,1845.6 814,1841.2 814.3,1836.3 814.5,1845 814.8,1829.7 815.1,1844.3 815.3,1834.7 815.6,1841.2 815.9,1843.1 816.1,1844.2 816.4,1846.8 816.6,1837.3 816.9,1835.3 817.2,1849.8 817.4,1840.8 817.7,1846.6 818,1847.2 818.2,1846.3 818.5,1845.1 818.7,1839.9 819,1842.1 819.3,1847.9 819.5,1836.1 819.8,1836.3 820.1,1848.8 820.3,1839.3 820.6,1840.2 820.8,1839.5 821.1,1850.8 821.4,1836.6 821.6,1839.1 821.9,1836.1 822.2,1828.4 822.4,1839.1 822.7,1836.6 822.9,1843 823.2,1836.5 823.5,1848.4 823.7,1847.8 824,1843 824.3,1839 824.5,1846.6 824.8,1832.4 825.1,1837 825.3,1836.5 825.6,1848.9 825.8,1837.9 826.1,1849.2 826.4,1833.4 826.6,1841.8 826.9,1834.8 827.2,1833.5 827.4,1853.4 827.7,1842.4 827.9,1844.3 828.2,1846.6 828.5,1847.3 828.7,1845.2 829,1854.8 829.3,1839.1 829.5,1849.7 829.8,1836.9 830,1845.7 830.3,1839 830.6,1845.3 830.8,1841.3 831.1,1844.7 831.4,1847 831.6,1831.3 831.9,1846.7 832.1,1844.6 832.4,1832.5 832.7,1840.7 832.9,1842.6 833.2,1842.9 833.5,1840.8 833.7,1838.1 834,1848.3 834.3,1845.7 834.5,1847.9 834.8,1847.7 835,1844.2 835.3,1837.9 835.6,1842.6 835.8,1840.1 836.1,1839.6 836.4,1837.4 836.6,1843.4 836.9,1837.4 837.1,1841.9 837.4,1839.5 837.7,1838.5 837.9,1826.2 838.2,1838.7 838.5,1841.6 838.7,1838.8 839,1836.3 839.2,1842.4 839.5,1832.4 839.8,1843.8 840,1829 840.3,1837.4 840.6,1829.3 840.8,1847.7 841.1,1832.6 841.3,1836.1 841.6,1839.1 841.9,1840.3 842.1,1836.1 842.4,1836.8 842.7,1843.4 842.9,1840.2 843.2,1844.6 843.5,1836.5 843.7,1845.9 844,1838.4 844.2,1837.9 844.5,1841.3 844.8,1834.9 845,1846.1 845.3,1834.6 845.6,1836.2 845.8,1841.3 846.1,1840.9 846.3,1837.7 846.6,1834 846.9,1841 847.1,1831.4 847.4,1826.5 847.7,1843.2 847.9,1841.2 848.2,1842.2 848.4,1829.5 848.7,1838 849,1834.9 849.2,1837.9 849.5,1831.3 849.8,1829.4 850,1834.9 850.3,1838.8 850.5,1821.1 850.8,1835 851.1,1827.6 851.3,1821.8 851.6,1827.4 851.9,1821.2 852.1,1808.2 852.4,1815.7 852.7,1810.8 852.9,1803.1 853.2,1802.9 853.4,1791.4 853.7,1790.6 854,1788.5 854.2,1779.9 854.5,1778.2 854.8,1762.6 855,1757.6 855.3,1749.7 855.5,1745.1 855.8,1743.6 856.1,1743.8 856.3,1747 856.6,1751.1 856.9,1761 857.1,1763 857.4,1774.3 857.6,1770.3 857.9,1790.5 858.2,1788.8 858.4,1790.3 858.7,1795.9 859,1804.3 859.2,1808.4 859.5,1815.6 859.7,1802.2 860,1811.8 860.3,1818.3 860.5,1824 860.8,1817.9 861.1,1826.2 861.3,1828.6 861.6,1817.4 861.9,1829.1 862.1,1830.6 862.4,1831 862.6,1832.4 862.9,1825.9 863.2,1836.6 863.4,1835 863.7,1830.2 864,1832.8 864.2,1834.4 864.5,1831.8 864.7,1837.8 865,1839.5 865.3,1842.4 865.5,1838.6 865.8,1834.6 866.1,1827.1 866.3,1840.8 866.6,1840.2 866.8,1837.9 867.1,1839.9 867.4,1837.9 867.6,1835.7 867.9,1844.5 868.2,1835.1 868.4,1837.7 868.7,1846.1 868.9,1839.8 869.2,1837.8 869.5,1836.4 869.7,1840.1 870,1840.2 870.3,1849.3 870.5,1839.3 870.8,1834.6 871,1838.6 871.3,1837 871.6,1831.8 871.8,1839.7 872.1,1838.8 872.4,1835.5 872.6,1841 872.9,1837.6 873.2,1849.1 873.4,1838.4 873.7,1846.1 873.9,1836.8 874.2,1833.2 874.5,1839.6 874.7,1843.8 875,1839.1 875.3,1837.5 875.5,1847.2 875.8,1846.5 876,1845.4 876.3,1844.3 876.6,1843.4 876.8,1836.4 877.1,1843.2 877.4,1838.7 877.6,1850.5 877.9,1846.4 878.1,1840.9 878.4,1849.4 878.7,1837.8 878.9,1851.8 879.2,1843 879.5,1837 879.7,1841.3 880,1841.6 880.2,1846.7 880.5,1841.5 880.8,1840.1 881,1841.5 881.3,1846 881.6,1838.4 881.8,1838.4 882.1,1842 882.4,1850.3 882.6,1848.3 882.9,1845.1 883.1,1846.1 883.4,1833.9 883.7,1841.3 883.9,1845.2 884.2,1844.2 884.5,1841.7 884.7,1837 885,1834.1 885.2,1837.9 885.5,1841.6 885.8,1838 886,1837.2 886.3,1839.8 886.6,1843 886.8,1844.3 887.1,1839.6 887.3,1839.8 887.6,1842.2 887.9,1847.9 888.1,1842.7 888.4,1838.4 888.7,1838.8 888.9,1844.7 889.2,1845.5 889.4,1839.1 889.7,1839.3 890,1840.9 890.2,1841.5 890.5,1829.7 890.8,1842.8 891,1843.1 891.3,1844.9 891.6,1833.8 891.8,1844.6 892.1,1835.8 892.3,1844.4 892.6,1838.2 892.9,1841.3 893.1,1840.1 893.4,1836.6 893.7,1841.1 893.9,1842.6 894.2,1834.5 894.4,1836.3 894.7,1839.2 895,1849.3 895.2,1842 895.5,1829.4 895.8,1842.7 896,1844.4 896.3,1842.3 896.5,1835.9 896.8,1836.2 897.1,1846.4 897.3,1837.2 897.6,1843 897.9,1847.4 898.1,1847.9 898.4,1833.3 898.6,1853.5 898.9,1839 899.2,1844.1 899.4,1835.2 899.7,1849.2 900,1843.2 900.2,1846.3 900.5,1843.1 900.8,1842.3 901,1831.9 901.3,1844.9 901.5,1839.4 901.8,1846.3 902.1,1836.5 902.3,1840.2 902.6,1842.1 902.9,1837.8 903.1,1846.5 903.4,1840.2 903.6,1840.9 903.9,1838.5 904.2,1842.1 904.4,1832 904.7,1836.5 905,1838.2 905.2,1834.8 905.5,1846.6 905.7,1834.5 906,1833.5 906.3,1841.2 906.5,1841.7 906.8,1831.4 907.1,1841.7 907.3,1848.8 907.6,1838.3 907.8,1839.5 908.1,1837.9 908.4,1837.1 908.6,1834.5 908.9,1832.8 909.2,1842.3 909.4,1836.7 909.7,1831.2 910,1840.7 910.2,1834.5 910.5,1830.3 910.7,1828.2 911,1838.7 911.3,1829.7 911.5,1837.3 911.8,1822.6 912.1,1826.6 912.3,1825.7 912.6,1819 912.8,1830.1 913.1,1825.3 913.4,1820.6 913.6,1822.1 913.9,1825.5 914.2,1820.9 914.4,1821.1 914.7,1823.1 914.9,1816.9 915.2,1813.4 915.5,1817.3 915.7,1818.4 916,1819 916.3,1817.3 916.5,1817.1 916.8,1817.4 917,1817 917.3,1817.2 917.6,1816.5 917.8,1818.7 918.1,1818.2 918.4,1818.1 918.6,1823.2 918.9,1817.9 919.2,1816.8 919.4,1819.7 919.7,1823.5 919.9,1823 920.2,1822.8 920.5,1826.1 920.7,1825.6 921,1822.3 921.3,1820.1 921.5,1831.8 921.8,1823.4 922,1837 922.3,1837.4 922.6,1835 922.8,1836.3 923.1,1840 923.4,1841.4 923.6,1837.1 923.9,1836.6 924.1,1837.4 924.4,1838.8 924.7,1836.9 924.9,1835.7 925.2,1839.9 925.5,1827.7 925.7,1832.5 926,1839.1 926.2,1837.1 926.5,1836.8 926.8,1843.7 927,1838.5 927.3,1839.5 927.6,1844.8 927.8,1844.6 928.1,1840.4 928.4,1838.7 928.6,1835.7 928.9,1843.2 929.1,1840.1 929.4,1838.8 929.7,1835.1 929.9,1842 930.2,1838.4 930.5,1835.2 930.7,1844 931,1850.3 931.2,1828.3 931.5,1832.1 931.8,1845.2 932,1840.5 932.3,1850.7 932.6,1843 932.8,1847.4 933.1,1844.3 933.3,1836.4 933.6,1840.3 933.9,1849.7 934.1,1834.2 934.4,1844.7 934.7,1840.8 934.9,1841.1 935.2,1838.4 935.4,1839.1 935.7,1839.7 936,1845.5 936.2,1844.2 936.5,1847.7 936.8,1833.4 937,1842.7 937.3,1844.9 937.6,1836.9 937.8,1840 938.1,1845.9 938.3,1844.2 938.6,1839.1 938.9,1847.6 939.1,1838.7 939.4,1844.7 939.7,1832.3 939.9,1843.2 940.2,1853.1 940.4,1835.5 940.7,1838.4 941,1840.2 941.2,1844.3 941.5,1839.1 941.8,1836.1 942,1846.5 942.3,1837.7 942.5,1849.1 942.8,1850.4 943.1,1844 943.3,1846.9 943.6,1847.7 943.9,1846 944.1,1842.2 944.4,1847.5 944.6,1842.3 944.9,1847.3 945.2,1844.6 945.4,1841.6 945.7,1843.2 946,1846.3 946.2,1840.3 946.5,1841.1 946.8,1837.9 947,1844.7 947.3,1848.4 947.5,1841.7 947.8,1841.2 948.1,1839.1 948.3,1844.7 948.6,1839.7 948.9,1844.2 949.1,1848.7 949.4,1841.8 949.6,1841.4 949.9,1838.3 950.2,1844.5 950.4,1843 950.7,1839.2 951,1843.7 951.2,1848.9 951.5,1847.9 951.7,1847.6 952,1842.7 952.3,1844.7 952.5,1839.1 952.8,1848.8 953.1,1836.1 953.3,1837.1 953.6,1847.9 953.8,1840.9 954.1,1844.8 954.4,1849.2 954.6,1844 954.9,1844.3 955.2,1845.7 955.4,1839.9 955.7,1847.5 956,1840.3 956.2,1840.1 956.5,1848.7 956.7,1837.6 957,1848.2 957.3,1845.1 957.5,1840.4 957.8,1840.7 958.1,1851.8 958.3,1847.7 958.6,1840.9 958.8,1850.6 959.1,1844.1 959.4,1840 959.6,1843.7 959.9,1843.8 960.2,1845.6 960.4,1843 960.7,1848.9 960.9,1848.2 961.2,1841.7 961.5,1848.5 961.7,1849.5 962,1843.9 962.3,1850.1 962.5,1848 962.8,1852.2 963,1841.6 963.3,1844.8 963.6,1840.6 963.8,1841.8 964.1,1841.1 964.4,1838.5 964.6,1838.7 964.9,1840.4 965.2,1841.8 965.4,1845.9 965.7,1843.8 965.9,1843.2 966.2,1848.6 966.5,1836.2 966.7,1845.7 967,1847.6 967.3,1851 967.5,1848.1 967.8,1847.8 968,1845.8 968.3,1838.4 968.6,1848 968.8,1848.8 969.1,1852.6 969.4,1832.9 969.6,1848 969.9,1848.4 970.1,1848.1 970.4,1845.6 970.7,1842.9 970.9,1845 971.2,1845.9 971.5,1848.4 971.7,1836.2 972,1848.8 972.2,1846.4 972.5,1846.1 972.8,1847.3 973,1842 973.3,1842.2 973.6,1842 973.8,1851.6 974.1,1830.6 974.3,1850.5 974.6,1838.1 974.9,1847.7 975.1,1837.5 975.4,1841.3 975.7,1838.8 975.9,1846.9 976.2,1837.4 976.5,1842.8 976.7,1842.9 977,1834.7 977.2,1846.6 977.5,1852.2 977.8,1839.8 978,1838.2 978.3,1849.3 978.6,1846.5 978.8,1835.4 979.1,1839.1 979.3,1846.1 979.6,1850.4 979.9,1839.6 980.1,1847.1 980.4,1835.3 980.7,1843.8 980.9,1845.9 981.2,1840.4 981.4,1832.7 981.7,1837.9 982,1846.7 982.2,1841.7 982.5,1847.6 982.8,1837.2 983,1837.5 983.3,1846.2 983.5,1835.5 983.8,1832.4 984.1,1835.1 984.3,1839.9 984.6,1834.9 984.9,1835.2 985.1,1823.3 985.4,1836.8 985.7,1841.3 985.9,1833.6 986.2,1836.1 986.4,1837.8 986.7,1836.5 987,1835.2 987.2,1827.6 987.5,1830.8 987.8,1821.6 988,1818.3 988.3,1831.1 988.5,1826.2 988.8,1824.7 989.1,1824.3 989.3,1806.8 989.6,1816.3 989.9,1808.8 990.1,1805.8 990.4,1800.1 990.6,1797.9 990.9,1803.4 991.2,1790.3 991.4,1794.1 991.7,1789.2 992,1788 992.2,1787.6 992.5,1787.5 992.7,1787.7 993,1789.8 993.3,1790.6 993.5,1797.5 993.8,1803.9 994.1,1798.2 994.3,1807.7 994.6,1815.9 994.9,1807.4 995.1,1807.6 995.4,1811.2 995.6,1813.2 995.9,1819.9 996.2,1818.4 996.4,1826.2 996.7,1825.7 997,1831.3 997.2,1832.9 997.5,1831 997.7,1830.7 998,1823.7 998.3,1839.4 998.5,1833.2 998.8,1828.1 999.1,1833.6 999.3,1834.9 999.6,1836 999.8,1831.9 1000.1,1836.5 1000.4,1834.6 1000.6,1829.5 1000.9,1828.2 1001.2,1829.4 1001.4,1829.5 1001.7,1828.2 1001.9,1832.1 1002.2,1834.6 1002.5,1831.2 1002.7,1830.4 1003,1834 1003.3,1826 1003.5,1825.8 1003.8,1830.9 1004.1,1818.3 1004.3,1824.9 1004.6,1817.3 1004.8,1817.9 1005.1,1829 1005.4,1826 1005.6,1818 1005.9,1829.9 1006.2,1827.6 1006.4,1824.8 1006.7,1832.4 1006.9,1833.6 1007.2,1828.1 1007.5,1831.7 1007.7,1828.6 1008,1829.5 1008.3,1834.9 1008.5,1833 1008.8,1830.7 1009,1829.2 1009.3,1832.1 1009.6,1836 1009.8,1837.4 1010.1,1830.9 1010.4,1836.6 1010.6,1831.9 1010.9,1840.1 1011.1,1837 1011.4,1844.8 1011.7,1834.5 1011.9,1842.7 1012.2,1842.4 1012.5,1836.9 1012.7,1836.7 1013,1842.9 1013.3,1843 1013.5,1839.4 1013.8,1842 1014,1836 1014.3,1835.1 1014.6,1842.7 1014.8,1837.4 1015.1,1847.1 1015.4,1843.4 1015.6,1850.5 1015.9,1835 1016.1,1836.4 1016.4,1839.9 1016.7,1841.2 1016.9,1840 1017.2,1839.4 1017.5,1840.4 1017.7,1840.3 1018,1833.9 1018.2,1843.2 1018.5,1844.9 1018.8,1845.2 1019,1852.1 1019.3,1839.1 1019.6,1842.3 1019.8,1839 1020.1,1841.5 1020.3,1842.4 1020.6,1840.1 1020.9,1844.4 1021.1,1839.4 1021.4,1836.7 1021.7,1839.9 1021.9,1845.4 1022.2,1828.1 1022.5,1841.8 1022.7,1842.1 1023,1841.1 1023.2,1833.8 1023.5,1835.2 1023.8,1841 1024,1839.3 1024.3,1840.6 1024.6,1848.7 1024.8,1838.8 1025.1,1840 1025.3,1830.1 1025.6,1835.8 1025.9,1837 1026.1,1839.1 1026.4,1833 1026.7,1835.2 1026.9,1837.6 1027.2,1836.6 1027.4,1829.6 1027.7,1837.4 1028,1834.1 1028.2,1835.3 1028.5,1835.8 1028.8,1837.5 1029,1831.5 1029.3,1840.6 1029.5,1830 1029.8,1838.2 1030.1,1845.6 1030.3,1832.6 1030.6,1831.4 1030.9,1835.4 1031.1,1831 1031.4,1830.9 1031.7,1838.5 1031.9,1829.8 1032.2,1834.9 1032.4,1831.7 1032.7,1827.4 1033,1826.9 1033.2,1829 1033.5,1822.8 1033.8,1816.4 1034,1823 1034.3,1820.5 1034.5,1818.9 1034.8,1809.5 1035.1,1819.6 1035.3,1808.8 1035.6,1797.1 1035.9,1795.5 1036.1,1790.4 1036.4,1788.5 1036.6,1786.7 1036.9,1777.6 1037.2,1775.3 1037.4,1772.7 1037.7,1768.1 1038,1762.3 1038.2,1760.3 1038.5,1758.9 1038.7,1758.7 1039,1759.9 1039.3,1762.9 1039.5,1767.4 1039.8,1770.5 1040.1,1777.9 1040.3,1783.5 1040.6,1781.8 1040.9,1788.8 1041.1,1796.5 1041.4,1799.6 1041.6,1794 1041.9,1803.4 1042.2,1806 1042.4,1804.6 1042.7,1802.7 1043,1817.8 1043.2,1820.8 1043.5,1827 1043.7,1815 1044,1827.2 1044.3,1821.7 1044.5,1828.4 1044.8,1831.2 1045.1,1835 1045.3,1834.4 1045.6,1835.6 1045.8,1833.8 1046.1,1833.7 1046.4,1832.6 1046.6,1831.5 1046.9,1836 1047.2,1832.8 1047.4,1829.3 1047.7,1840.9 1047.9,1827.5 1048.2,1840.2 1048.5,1838.6 1048.7,1834.5 1049,1840.8 1049.3,1834.5 1049.5,1833.2 1049.8,1826.2 1050.1,1829.6 1050.3,1836.7 1050.6,1835.6 1050.8,1839.5 1051.1,1840.7 1051.4,1840.7 1051.6,1842.6 1051.9,1841.4 1052.2,1832.7 1052.4,1841.5 1052.7,1841.4 1052.9,1828.7 1053.2,1841.4 1053.5,1846 1053.7,1836.8 1054,1842.6 1054.3,1840.2 1054.5,1842.5 1054.8,1844.8 1055,1838.7 1055.3,1848.1 1055.6,1845.9 1055.8,1844.3 1056.1,1838.6 1056.4,1838.2 1056.6,1843.8 1056.9,1841.4 1057.1,1852 1057.4,1852.7 1057.7,1836.3 1057.9,1845.6 1058.2,1847.1 1058.5,1842.5 1058.7,1837.3 1059,1838.2 1059.3,1847.2 1059.5,1838 1059.8,1841.9 1060,1847.1 1060.3,1840.8 1060.6,1839.9 1060.8,1840 1061.1,1841.6 1061.4,1845.6 1061.6,1835.4 1061.9,1843 1062.1,1835.8 1062.4,1842.2 1062.7,1853 1062.9,1838.2 1063.2,1843.2 1063.5,1844.7 1063.7,1850.7 1064,1842.5 1064.2,1842.4 1064.5,1846 1064.8,1845.9 1065,1838.5 1065.3,1843.5 1065.6,1845.7 1065.8,1840.7 1066.1,1839 1066.3,1844.9 1066.6,1841.6 1066.9,1840.1 1067.1,1844.4 1067.4,1841.6 1067.7,1851 1067.9,1837.4 1068.2,1847.2 1068.5,1842.7 1068.7,1842.5 1069,1843.5 1069.2,1837.4 1069.5,1838 1069.8,1833.9 1070,1847.9 1070.3,1850.7 1070.6,1841.2 1070.8,1839.2 1071.1,1839.2 1071.3,1847 1071.6,1841 1071.9,1842.5 1072.1,1847.6 1072.4,1842 1072.7,1843.8 1072.9,1843.2 1073.2,1835.9 1073.4,1844.6 1073.7,1846.7 1074,1844.5 1074.2,1842.7 1074.5,1840.9 1074.8,1841.3 1075,1848.3 1075.3,1845.7 1075.5,1840.6 1075.8,1843.4 1076.1,1838.9 1076.3,1846.5 1076.6,1844.9 1076.9,1837.6 1077.1,1841.6 1077.4,1848.5 1077.6,1843.1 1077.9,1847 1078.2,1850.6 1078.4,1839.2 1078.7,1833.6 1079,1849.3 1079.2,1838.4 1079.5,1848.4 1079.8,1838.5 1080,1843.7 1080.3,1838.2 1080.5,1843.3 1080.8,1838.6 1081.1,1843.2 1081.3,1842.8 1081.6,1843.4 1081.9,1853 1082.1,1832.9 1082.4,1845.2 1082.6,1840.5 1082.9,1845.6 1083.2,1844.2 1083.4,1841.6 1083.7,1842.4 1084,1847.5 1084.2,1841.7 1084.5,1840.7 1084.7,1841.7 1085,1840.2 1085.3,1845.9 1085.5,1849.5 1085.8,1843.1 1086.1,1847.1 1086.3,1843 1086.6,1834.9 1086.8,1837.9 1087.1,1841.1 1087.4,1835.1 1087.6,1851.9 1087.9,1837.9 1088.2,1845.4 1088.4,1846.9 1088.7,1834.4 1089,1846.6 1089.2,1838.6 1089.5,1849.4 1089.7,1844.2 1090,1838.7 1090.3,1837.7 1090.5,1843 1090.8,1842.4 1091.1,1842.6 1091.3,1838.9 1091.6,1841 1091.8,1845.8 1092.1,1842.1 1092.4,1840.4 1092.6,1842 1092.9,1844.3 1093.2,1834.4 1093.4,1845.3 1093.7,1834.2 1093.9,1833.9 1094.2,1835.6 1094.5,1833.8 1094.7,1838.9 1095,1838.3 1095.3,1844.4 1095.5,1845.8 1095.8,1832.4 1096,1838 1096.3,1839.5 1096.6,1837.1 1096.8,1839.7 1097.1,1832.1 1097.4,1839 1097.6,1839.7 1097.9,1840.4 1098.2,1836.1 1098.4,1829.6 1098.7,1838.5 1098.9,1834.1 1099.2,1837.2 1099.5,1832.9 1099.7,1838.4 1100,1831.3 1100.3,1832.3 1100.5,1842.3 1100.8,1835.1 1101,1833.8 1101.3,1832.6 1101.6,1832.7 1101.8,1827.1 1102.1,1833 1102.4,1832.4 1102.6,1828.9 1102.9,1837.1 1103.1,1833.4 1103.4,1825.7 1103.7,1828.3 1103.9,1822.8 1104.2,1822 1104.5,1825.5 1104.7,1819.2 1105,1821.2 1105.2,1827.2 1105.5,1820 1105.8,1819.4 1106,1816.7 1106.3,1822.4 1106.6,1809 1106.8,1805.5 1107.1,1804.5 1107.4,1811.5 1107.6,1811.1 1107.9,1807.6 1108.1,1806 1108.4,1794 1108.7,1789.9 1108.9,1777.4 1109.2,1778.5 1109.5,1775.4 1109.7,1768.9 1110,1759.6 1110.2,1756 1110.5,1755.4 1110.8,1740.3 1111,1740.1 1111.3,1731.2 1111.6,1727.8 1111.8,1720.2 1112.1,1716.4 1112.3,1711.4 1112.6,1710.7 1112.9,1710 1113.1,1710.9 1113.4,1713.4 1113.7,1716.3 1113.9,1720.9 1114.2,1722.5 1114.4,1731.7 1114.7,1729.1 1115,1745 1115.2,1755.5 1115.5,1751.3 1115.8,1761.9 1116,1776.9 1116.3,1770.2 1116.6,1784 1116.8,1780.5 1117.1,1784.6 1117.3,1794.4 1117.6,1802.2 1117.9,1804.4 1118.1,1809.2 1118.4,1801.5 1118.7,1811.9 1118.9,1809.1 1119.2,1804.7 1119.4,1816.9 1119.7,1820.8 1120,1815.4 1120.2,1822.8 1120.5,1818.7 1120.8,1821.8 1121,1827 1121.3,1828.8 1121.5,1814 1121.8,1825.5 1122.1,1824.3 1122.3,1826.3 1122.6,1823.1 1122.9,1832.7 1123.1,1832.3 1123.4,1828 1123.6,1826.5 1123.9,1828.1 1124.2,1834.1 1124.4,1835.7 1124.7,1835.7 1125,1832.8 1125.2,1835.4 1125.5,1832.9 1125.8,1832.9 1126,1839.7 1126.3,1838.4 1126.5,1839.4 1126.8,1829.7 1127.1,1840.4 1127.3,1840.8 1127.6,1834.4 1127.9,1836 1128.1,1833.4 1128.4,1829.9 1128.6,1843.3 1128.9,1831.7 1129.2,1836.5 1129.4,1839 1129.7,1834.6 1130,1836.9 1130.2,1839.4 1130.5,1837.1 1130.7,1832.5 1131,1835.8 1131.3,1841.9 1131.5,1840.5 1131.8,1844.1 1132.1,1839.6 1132.3,1847.1 1132.6,1840.6 1132.8,1845.4 1133.1,1837.3 1133.4,1844.8 1133.6,1840.6 1133.9,1844.3 1134.2,1841.8 1134.4,1844.2 1134.7,1843.2 1135,1843.6 1135.2,1836.6 1135.5,1844.4 1135.7,1841.5 1136,1841.8 1136.3,1843.6 1136.5,1846.5 1136.8,1841 1137.1,1846.7 1137.3,1847.7 1137.6,1845.7 1137.8,1839.6 1138.1,1846.9 1138.4,1846.9 1138.6,1842.7 1138.9,1839.9 1139.2,1849.3 1139.4,1843.3 1139.7,1838 1139.9,1842.9 1140.2,1843.2 1140.5,1848.2 1140.7,1841.8 1141,1845.8 1141.3,1846.1 1141.5,1843 1141.8,1844.5 1142,1842.5 1142.3,1843.4 1142.6,1846.5 1142.8,1841.4 1143.1,1837.4 1143.4,1842.6 1143.6,1837.9 1143.9,1839.7 1144.2,1840.3 1144.4,1842 1144.7,1842.7 1144.9,1840.3 1145.2,1847.9 1145.5,1849.5 1145.7,1841.7 1146,1840 1146.3,1843.6 1146.5,1845.4 1146.8,1842.1 1147,1835.2 1147.3,1847.5 1147.6,1842.6 1147.8,1843 1148.1,1844.3 1148.4,1847.7 1148.6,1843.9 1148.9,1837.4 1149.1,1835.6 1149.4,1849.3 1149.7,1849.4 1149.9,1846.1 1150.2,1847.7 1150.5,1850 1150.7,1844.6 1151,1847.6 1151.2,1848.6 1151.5,1844.5 1151.8,1854.7 1152,1838.7 1152.3,1838.3 1152.6,1841.2 1152.8,1837.8 1153.1,1845.2 1153.4,1842.9 1153.6,1848.8 1153.9,1847 1154.1,1843.6 1154.4,1847.4 1154.7,1843.2 1154.9,1843.1 1155.2,1848.5 1155.5,1849.6 1155.7,1850.6 1156,1841 1156.2,1851.5 1156.5,1847.2 1156.8,1849.1 1157,1840.4 1157.3,1841.8 1157.6,1844.3 1157.8,1841.2 1158.1,1845.5 1158.3,1839.4 1158.6,1842.7 1158.9,1838.9 1159.1,1843.9 1159.4,1843.7 1159.7,1844.7 1159.9,1840.5 1160.2,1839.4 1160.4,1849.3 1160.7,1845 1161,1842.8 1161.2,1850 1161.5,1843.1 1161.8,1846.1 1162,1844.9 1162.3,1845.1 1162.6,1844 1162.8,1846.6 1163.1,1848.3 1163.3,1844.4 1163.6,1845.6 1163.9,1839.7 1164.1,1845 1164.4,1843.3 1164.7,1847.7 1164.9,1838.9 1165.2,1842.7 1165.4,1848.4 1165.7,1847.5 1166,1843.4 1166.2,1845.5 1166.5,1851.8 1166.8,1846.4 1167,1840.2 1167.3,1848.4 1167.5,1842.8 1167.8,1848.2 1168.1,1837.8 1168.3,1838.6 1168.6,1850.5 1168.9,1844.7 1169.1,1844.3 1169.4,1837.8 1169.6,1845 1169.9,1842.3 1170.2,1847.5 1170.4,1836.6 1170.7,1844.1 1171,1842.7 1171.2,1851 1171.5,1845.6 1171.8,1837.4 1172,1850 1172.3,1840.7 1172.5,1847.2 1172.8,1852.1 1173.1,1846.7 1173.3,1842.2 1173.6,1839.4 1173.9,1844.8 1174.1,1846 1174.4,1837.8 1174.6,1849.5 1174.9,1837.8 1175.2,1852.1 1175.4,1844.3 1175.7,1845.1 1176,1839.3 1176.2,1837.4 1176.5,1842.9 1176.7,1835.4 1177,1840.2 1177.3,1842.8 1177.5,1837.6 1177.8,1840.9 1178.1,1838 1178.3,1843.5 1178.6,1837.9 1178.8,1839 1179.1,1848.1 1179.4,1840 1179.6,1839.2 1179.9,1840.3 1180.2,1836.9 1180.4,1843.9 1180.7,1831 1181,1838.8 1181.2,1835 1181.5,1846.7 1181.7,1835.3 1182,1836.6 1182.3,1836.9 1182.5,1838.4 1182.8,1841.9 1183.1,1842.1 1183.3,1840.9 1183.6,1832.7 1183.8,1836.3 1184.1,1837.8 1184.4,1841.9 1184.6,1842.4 1184.9,1839.3 1185.2,1839.1 1185.4,1839.5 1185.7,1836.4 1185.9,1837.2 1186.2,1831.4 1186.5,1842.1 1186.7,1834.7 1187,1841.9 1187.3,1844.9 1187.5,1840.8 1187.8,1837.9 1188,1841.2 1188.3,1840.3 1188.6,1840 1188.8,1845.7 1189.1,1843.1 1189.4,1844.2 1189.6,1846.7 1189.9,1840.4 1190.1,1835.6 1190.4,1842.3 1190.7,1844.6 1190.9,1842.2 1191.2,1846.6 1191.5,1834.8 1191.7,1838.6 1192,1840 1192.3,1835.2 1192.5,1844.5 1192.8,1849.4 1193,1836.8 1193.3,1850.4 1193.6,1837.5 1193.8,1842.2 1194.1,1848.6 1194.4,1839.3 1194.6,1843.5 1194.9,1846.2 1195.1,1845.8 1195.4,1844.9 1195.7,1847.3 1195.9,1841.6 1196.2,1841.6 1196.5,1840.3 1196.7,1836.6 1197,1841.6 1197.2,1840.5 1197.5,1843.7 1197.8,1842.7 1198,1839 1198.3,1838.3 1198.6,1847 1198.8,1840.7 1199.1,1852.5 1199.3,1847.4 1199.6,1837.3 1199.9,1838.8 1200.1,1841.4 1200.4,1848.6 1200.7,1846.7 1200.9,1840.1 1201.2,1836.1 1201.5,1840.2 1201.7,1838.7 1202,1839.5 1202.2,1833.5 1202.5,1838.5 1202.8,1831.1 1203,1835.5 1203.3,1834.5 1203.6,1832.1 1203.8,1848.8 1204.1,1841.9 1204.3,1830 1204.6,1837.4 1204.9,1838.5 1205.1,1840.7 1205.4,1837.4 1205.7,1844.7 1205.9,1841.4 1206.2,1841.8 1206.4,1843.9 1206.7,1848.5 1207,1841.4 1207.2,1841.2 1207.5,1842.6 1207.8,1836.9 1208,1833.7 1208.3,1842.9 1208.5,1841.6 1208.8,1838.1 1209.1,1837.2 1209.3,1844.1 1209.6,1838.8 1209.9,1836.6 1210.1,1835.5 1210.4,1844.3 1210.7,1841.4 1210.9,1838.9 1211.2,1845.2 1211.4,1846.9 1211.7,1848 1212,1838.3 1212.2,1845.5 1212.5,1848.9 1212.8,1843.4 1213,1834.4 1213.3,1844.3 1213.5,1835.4 1213.8,1850.6 1214.1,1843.2 1214.3,1835.7 1214.6,1848.7 1214.9,1839.3 1215.1,1843.9 1215.4,1841.5 1215.6,1840.3 1215.9,1842.1 1216.2,1840.7 1216.4,1833.2 1216.7,1839.9 1217,1843.9 1217.2,1841.7 1217.5,1843.8 1217.7,1842.2 1218,1838 1218.3,1838.5 1218.5,1836.7 1218.8,1838.7 1219.1,1831.5 1219.3,1832.7 1219.6,1840.3 1219.9,1840.8 1220.1,1833 1220.4,1838.2 1220.6,1835 1220.9,1835.5 1221.2,1833.8 1221.4,1838.2 1221.7,1839.4 1222,1841.6 1222.2,1839.6 1222.5,1840.6 1222.7,1842.6 1223,1840.8 1223.3,1838.5 1223.5,1852.4 1223.8,1846.5 1224.1,1842.9 1224.3,1845.5 1224.6,1843.2 1224.8,1838.9 1225.1,1837.9 1225.4,1838.6 1225.6,1839.5 1225.9,1848.1 1226.2,1850.4 1226.4,1840.9 1226.7,1848.7 1226.9,1844.5 1227.2,1844 1227.5,1846.4 1227.7,1845.9 1228,1850 1228.3,1841.3 1228.5,1844.8 1228.8,1846.6 1229.1,1845.3 1229.3,1846.5 1229.6,1838.4 1229.8,1853.1 1230.1,1837.9 1230.4,1848.5 1230.6,1842.1 1230.9,1841 1231.2,1839.7 1231.4,1842.7 1231.7,1844.5 1231.9,1848.5 1232.2,1848.3 1232.5,1843.9 1232.7,1843.2 1233,1845 1233.3,1839.6 1233.5,1840.3 1233.8,1853.1 1234,1841.7 1234.3,1841.6 1234.6,1847.1 1234.8,1843.1 1235.1,1844.6 1235.4,1848.3 1235.6,1846 1235.9,1852.9 1236.1,1848.7 1236.4,1841.9 1236.7,1842.6 1236.9,1851.9 1237.2,1839.5 1237.5,1845.9 1237.7,1841.5 1238,1847.8 1238.3,1839.8 1238.5,1844 1238.8,1847.8 1239,1851.3 1239.3,1840.7 1239.6,1845.1 1239.8,1838.7 1240.1,1849.4 1240.4,1849.4 1240.6,1853.4 1240.9,1840.1 1241.1,1849.4 1241.4,1840.8 1241.7,1847.9 1241.9,1837.3 1242.2,1845.6 1242.5,1848.2 1242.7,1841.3 1243,1841.5 1243.2,1842.9 1243.5,1848 1243.8,1846.5 1244,1846.6 1244.3,1847.7 1244.6,1845.9 1244.8,1845.4 1245.1,1849.7 1245.3,1844.5 1245.6,1845.8 1245.9,1839.7 1246.1,1848.9 1246.4,1849.4 1246.7,1844.3 1246.9,1840.4 1247.2,1846.1 1247.5,1843.9 1247.7,1844.7 1248,1846.9 1248.2,1843.5 1248.5,1846.9 1248.8,1839.1 1249,1840.8 1249.3,1844.5 1249.6,1842.1 1249.8,1842.5 1250.1,1849.6 1250.3,1849.3 1250.6,1842.4 1250.9,1845 1251.1,1838.9 1251.4,1842.9 1251.7,1843.7 1251.9,1850.3 1252.2,1837.7 1252.4,1851.2 1252.7,1836.6 1253,1839.8 1253.2,1844.8 1253.5,1842.4 1253.8,1836.8 1254,1843.1 1254.3,1837.6 1254.5,1843.6 1254.8,1846 1255.1,1844.7 1255.3,1836.2 1255.6,1838.6 1255.9,1843.5 1256.1,1843.2 1256.4,1845.1 1256.7,1837 1256.9,1844.9 1257.2,1834.6 1257.4,1839.7 1257.7,1843.9 1258,1829.9 1258.2,1843.1 1258.5,1841.5 1258.8,1836 1259,1836.8 1259.3,1839.5 1259.5,1835.6 1259.8,1830.1 1260.1,1832.1 1260.3,1837.1 1260.6,1838.5 1260.9,1834 1261.1,1833.7 1261.4,1834 1261.6,1827.7 1261.9,1832.4 1262.2,1823 1262.4,1832.3 1262.7,1827.5 1263,1828.4 1263.2,1827.7 1263.5,1826.3 1263.7,1826 1264,1826 1264.3,1827 1264.5,1827.8 1264.8,1828 1265.1,1827.2 1265.3,1832.5 1265.6,1826.3 1265.9,1831.9 1266.1,1834.8 1266.4,1829.8 1266.6,1829.2 1266.9,1838.7 1267.2,1838.8 1267.4,1835.4 1267.7,1838.7 1268,1830.4 1268.2,1831.4 1268.5,1841.6 1268.7,1825.2 1269,1834 1269.3,1838.6 1269.5,1837.9 1269.8,1836.2 1270.1,1842.2 1270.3,1836.9 1270.6,1846.5 1270.8,1849.7 1271.1,1846.2 1271.4,1836.6 1271.6,1839.3 1271.9,1846.9 1272.2,1844.7 1272.4,1845.5 1272.7,1844.8 1272.9,1847.1 1273.2,1836.9 1273.5,1836.2 1273.7,1839.9 1274,1845.7 1274.3,1837.8 1274.5,1846.4 1274.8,1845.9 1275.1,1842.3 1275.3,1838.7" fill="none" stroke="#0000ff" stroke-width="1.15" stroke-linejoin="round"/>
<text transform="translate(340.2 1683) rotate(-90)" font-size="26.5" textLength="73.7" lengthAdjust="spacingAndGlyphs">(<tspan dy="-1.1" font-size="22.8">●</tspan><tspan dy="1.1">022)</tspan></text>
<text transform="translate(374.9 1806.2) rotate(-90)" font-size="28" textLength="76.2" lengthAdjust="spacingAndGlyphs">(<tspan dy="-1.1" font-size="24.1">●</tspan><tspan dy="1.1">333)</tspan></text>
<text transform="translate(481 1809.5) rotate(-90)" font-size="33" textLength="89.6" lengthAdjust="spacingAndGlyphs">(<tspan dy="-1.3" font-size="28.4">●</tspan><tspan dy="1.3">088)</tspan></text>
<text transform="translate(539.6 1789.1) rotate(-90)" font-size="33" textLength="92" lengthAdjust="spacingAndGlyphs">(<tspan dy="3.3" font-size="39.6">*</tspan><tspan dy="-3.3">111)</tspan></text>
<text transform="translate(574.7 1818.1) rotate(-90)" font-size="33" textLength="104.6" lengthAdjust="spacingAndGlyphs">(<tspan dy="-1.3" font-size="28.4">●</tspan><tspan dy="1.3">6618)</tspan></text>
<text transform="translate(630.6 1719.5) rotate(-90)" font-size="33" textLength="98.6" lengthAdjust="spacingAndGlyphs">(♣101)</text>
<text transform="translate(698 1701.5) rotate(-90)" font-size="33" textLength="89.6" lengthAdjust="spacingAndGlyphs">(<tspan dy="3.3" font-size="39.6">*</tspan><tspan dy="-3.3">220)</tspan></text>
<text transform="translate(785 1435.2) rotate(-90)" font-size="33" textLength="90.6" lengthAdjust="spacingAndGlyphs">(<tspan dy="3.3" font-size="39.6">*</tspan><tspan dy="-3.3">311)</tspan></text>
<text transform="translate(793.3 1816.5) rotate(-90)" font-size="33" textLength="96.6" lengthAdjust="spacingAndGlyphs">♣(103)</text>
<text transform="translate(869 1738.5) rotate(-90)" font-size="33" textLength="92.6" lengthAdjust="spacingAndGlyphs">(<tspan dy="3.3" font-size="39.6">*</tspan><tspan dy="-3.3">400)</tspan></text>
<text transform="translate(927.6 1810.1) rotate(-90)" font-size="33" textLength="97.6" lengthAdjust="spacingAndGlyphs">♣(200)</text>
<text transform="translate(995 1786.3) rotate(-90)" font-size="33" textLength="92.6" lengthAdjust="spacingAndGlyphs">(<tspan dy="3.3" font-size="39.6">*</tspan><tspan dy="-3.3">422)</tspan></text>
<text transform="translate(1020.2 1826.9) rotate(-90)" font-size="26.5" textLength="80.1" lengthAdjust="spacingAndGlyphs">(♣211)</text>
<text transform="translate(1052 1759) rotate(-90)" font-size="33" textLength="93.6" lengthAdjust="spacingAndGlyphs">(<tspan dy="3.3" font-size="39.6">*</tspan><tspan dy="-3.3">511)</tspan></text>
<text transform="translate(1129.2 1709) rotate(-90)" font-size="35.5" textLength="97.8" lengthAdjust="spacingAndGlyphs">(<tspan dy="3.6" font-size="42.6">*</tspan><tspan dy="-3.6">440)</tspan></text>
<text transform="translate(1188 1834) rotate(-90)" font-size="33" textLength="97.6" lengthAdjust="spacingAndGlyphs">(♣116)</text>
<text transform="translate(1214.5 1837.5) rotate(-90)" font-size="33" textLength="96.6" lengthAdjust="spacingAndGlyphs">(♣220)</text>
<text transform="translate(1278 1818.5) rotate(-90)" font-size="33" textLength="92.6" lengthAdjust="spacingAndGlyphs">(<tspan dy="3.3" font-size="39.6">*</tspan><tspan dy="-3.3">533)</tspan></text>
<text x="1288" y="1412.5" font-size="54" font-weight="bold" fill="#ff0000">e</text>
<text x="1114.8" y="1407.8" font-size="26.3">♣</text>
<text x="1143.6" y="1406.6" font-size="27.3">TiO2</text>
<text x="1111" y="1445" font-size="26.5"><tspan dy="-1.1" font-size="22.8">●</tspan></text>
<text x="1133.4" y="1445" font-size="26.9">MIL-100(Fe)</text>
<text x="1112.6" y="1486.4" font-size="24.8"><tspan dy="2.5" font-size="29.8">*</tspan></text>
<text x="1135.2" y="1485" font-size="25.1">Fe3O4</text>
<text transform="translate(181.9 1733.8) rotate(-90)" font-size="47" textLength="246.5" lengthAdjust="spacingAndGlyphs">Intensity, a.u.</text>
<text x="696.6" y="1991.7" font-size="45" textLength="199.5" lengthAdjust="spacingAndGlyphs">2Θ, degree</text>
</g>
</svg>
</body></html>
